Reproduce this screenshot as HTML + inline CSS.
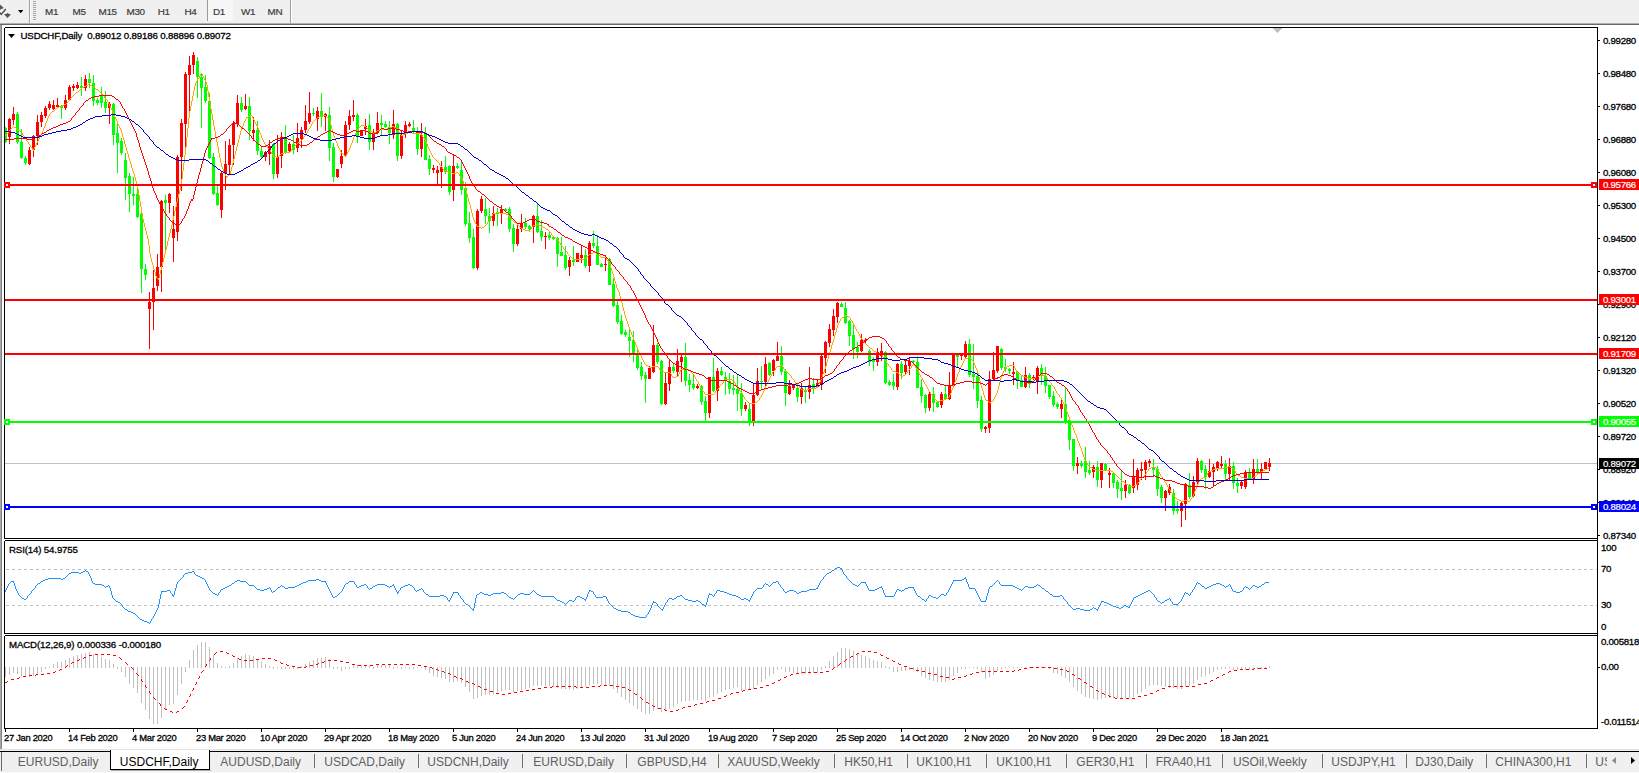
<!DOCTYPE html>
<html><head><meta charset="utf-8"><title>USDCHF,Daily</title>
<style>
html,body{margin:0;padding:0;background:#fff;}
body{width:1639px;height:773px;overflow:hidden;position:relative;font-family:"Liberation Sans", sans-serif;font-size:9.7px;letter-spacing:-0.15px;color:#000;-webkit-text-stroke:0.3px #000;}
.abs{position:absolute;white-space:nowrap;}
.ct{}
.tb{position:absolute;left:0;top:0;width:1639px;height:23px;background:#f0f0f0;}
.tf{position:absolute;top:5.2px;font-size:9.9px;letter-spacing:-0.3px;color:#3c3c3c;line-height:13px;-webkit-text-stroke:0.2px #3c3c3c;}
.ax{position:absolute;left:1603px;font-size:9.7px;letter-spacing:-0.3px;line-height:12px;height:12px;}
.tag{position:absolute;left:1599px;width:40px;height:13px;color:#fff;font-size:9.7px;letter-spacing:-0.3px;line-height:13px;-webkit-text-stroke:0.2px #fff;}
.tag span{position:absolute;left:4px;top:0;}
.dt{position:absolute;top:731.4px;font-size:9.4px;line-height:13px;letter-spacing:-0.3px;}
.tabbar{position:absolute;left:0;top:750px;width:1639px;height:22px;background:#f0f0f0;}
.tab{position:absolute;top:755px;font-size:12px;line-height:14px;letter-spacing:0;color:#5f5f5f;white-space:nowrap;-webkit-text-stroke:0;}
.sep{position:absolute;top:754px;width:1px;height:14px;background:#6e6e6e;}
svg{position:absolute;left:0;top:0;}
</style></head><body>

<div class="tb"></div>
<div class="abs" style="left:0;top:23px;width:1639px;height:1px;background:#b0b0b0"></div>
<div class="abs" style="left:0;top:24px;width:1639px;height:1px;background:#696969"></div>
<div class="abs" style="left:0;top:25px;width:1px;height:725px;background:#a8a8a8"></div><div class="abs" style="left:1px;top:25px;width:1px;height:725px;background:#808080"></div>
<div class="abs" style="left:207px;top:0;width:25px;height:21px;background:#f7f7f7;border-left:1px solid #9a9a9a"></div>
<div class="tf" style="left:45px">M1</div>
<div class="tf" style="left:72.5px">M5</div>
<div class="tf" style="left:98.5px">M15</div>
<div class="tf" style="left:126.5px">M30</div>
<div class="tf" style="left:157.7px">H1</div>
<div class="tf" style="left:184.5px">H4</div>
<div class="tf" style="left:213px">D1</div>
<div class="tf" style="left:241px">W1</div>
<div class="tf" style="left:267.6px">MN</div>
<svg width="1639" height="773" viewBox="0 0 1639 773">
<g shape-rendering="crispEdges">
<rect x="29" y="0" width="1" height="23" fill="#a0a0a0"/><rect x="30" y="0" width="1" height="23" fill="#fff"/>
<rect x="290" y="0" width="1" height="23" fill="#a0a0a0"/><rect x="291" y="0" width="1" height="23" fill="#fff"/>
<rect x="33" y="1" width="3" height="1" fill="#a6a6a6"/>
<rect x="33" y="3" width="3" height="1" fill="#a6a6a6"/>
<rect x="33" y="5" width="3" height="1" fill="#a6a6a6"/>
<rect x="33" y="7" width="3" height="1" fill="#a6a6a6"/>
<rect x="33" y="9" width="3" height="1" fill="#a6a6a6"/>
<rect x="33" y="11" width="3" height="1" fill="#a6a6a6"/>
<rect x="33" y="13" width="3" height="1" fill="#a6a6a6"/>
<rect x="33" y="15" width="3" height="1" fill="#a6a6a6"/>
<rect x="33" y="17" width="3" height="1" fill="#a6a6a6"/>
<rect x="33" y="19" width="3" height="1" fill="#a6a6a6"/>
</g>
<path d="M18 10h5.4l-2.7 3.2z" fill="#000"/>
<path d="M8 34h7l-3.5 4z" fill="#000"/>
<path d="M0 4.5L3.8 8L0 9.8z M4 14.3L6 14L7.5 13L9 14L11 14.3L7.5 18z" fill="#555"/>
<path d="M0 12.5L1.2 14.5L5.8 9" fill="none" stroke="#444" stroke-width="1.3"/>
<g shape-rendering="crispEdges" fill="none" stroke="#000" stroke-width="1">
<path d="M4.5 27.5H1597.5 M4.5 27.5V538.5 M4.5 538.5H1597.5 M1597.5 27.5V729"/>
<path d="M4.5 540.5H1597.5 M4.5 540.5V633.5 M4.5 633.5H1597.5"/>
<path d="M4.5 635.5H1597.5 M4.5 635.5V728.5 M4.5 728.5H1597.5"/>
</g>
<g shape-rendering="crispEdges">
<rect x="5" y="463" width="1592" height="1" fill="#c0c0c0"/>
</g>
<g shape-rendering="crispEdges">
<rect x="1598" y="40" width="2" height="1" fill="#000"/>
<rect x="1598" y="73" width="2" height="1" fill="#000"/>
<rect x="1598" y="106" width="2" height="1" fill="#000"/>
<rect x="1598" y="139" width="2" height="1" fill="#000"/>
<rect x="1598" y="172" width="2" height="1" fill="#000"/>
<rect x="1598" y="205" width="2" height="1" fill="#000"/>
<rect x="1598" y="238" width="2" height="1" fill="#000"/>
<rect x="1598" y="271" width="2" height="1" fill="#000"/>
<rect x="1598" y="304" width="2" height="1" fill="#000"/>
<rect x="1598" y="337" width="2" height="1" fill="#000"/>
<rect x="1598" y="370" width="2" height="1" fill="#000"/>
<rect x="1598" y="403" width="2" height="1" fill="#000"/>
<rect x="1598" y="436" width="2" height="1" fill="#000"/>
<rect x="1598" y="469" width="2" height="1" fill="#000"/>
<rect x="1598" y="502" width="2" height="1" fill="#000"/>
<rect x="1598" y="535" width="2" height="1" fill="#000"/>
<rect x="1598" y="667" width="2" height="1" fill="#000"/>
<path d="M6 569.5H1597 M6 605.5H1597" stroke="#c0c0c0" stroke-width="1" stroke-dasharray="3 3" fill="none"/>
<rect x="5" y="729" width="1" height="3" fill="#000"/>
<rect x="69" y="729" width="1" height="3" fill="#000"/>
<rect x="133" y="729" width="1" height="3" fill="#000"/>
<rect x="197" y="729" width="1" height="3" fill="#000"/>
<rect x="261" y="729" width="1" height="3" fill="#000"/>
<rect x="325" y="729" width="1" height="3" fill="#000"/>
<rect x="389" y="729" width="1" height="3" fill="#000"/>
<rect x="453" y="729" width="1" height="3" fill="#000"/>
<rect x="517" y="729" width="1" height="3" fill="#000"/>
<rect x="581" y="729" width="1" height="3" fill="#000"/>
<rect x="645" y="729" width="1" height="3" fill="#000"/>
<rect x="709" y="729" width="1" height="3" fill="#000"/>
<rect x="773" y="729" width="1" height="3" fill="#000"/>
<rect x="837" y="729" width="1" height="3" fill="#000"/>
<rect x="901" y="729" width="1" height="3" fill="#000"/>
<rect x="965" y="729" width="1" height="3" fill="#000"/>
<rect x="1029" y="729" width="1" height="3" fill="#000"/>
<rect x="1093" y="729" width="1" height="3" fill="#000"/>
<rect x="1157" y="729" width="1" height="3" fill="#000"/>
<rect x="1221" y="729" width="1" height="3" fill="#000"/>
<path d="M1273 28h9l-4.5 5z" fill="#c0c0c0"/>
</g>
<g shape-rendering="crispEdges">
<path fill="#ff0000" d="M9 118h1v26h-1z M8 119h3v18h-3z M13 107h1v18h-1z M12 114h3v6h-3z M29 147h1v18h-1z M28 150h3v14h-3z M33 135h1v22h-1z M32 136h3v14h-3z M37 115h1v30h-1z M36 122h3v14h-3z M41 112h1v15h-1z M40 115h3v7h-3z M45 106h1v12h-1z M44 108h3v8h-3z M49 101h1v9h-1z M48 104h3v4h-3z M53 100h1v10h-1z M52 105h3v4h-3z M57 98h1v10h-1z M56 105h3v2h-3z M65 95h1v15h-1z M64 100h3v8h-3z M69 85h1v16h-1z M68 87h3v13h-3z M73 84h1v7h-1z M72 86h3v2h-3z M77 82h1v7h-1z M76 85h3v3h-3z M85 75h1v16h-1z M84 79h3v9h-3z M109 102h1v22h-1z M108 104h3v4h-3z M149 292h1v57h-1z M148 302h3v7h-3z M153 270h1v60h-1z M152 288h3v14h-3z M157 254h1v37h-1z M156 267h3v19h-3z M161 200h1v92h-1z M160 201h3v66h-3z M169 193h1v20h-1z M168 194h3v9h-3z M173 206h1v56h-1z M172 229h3v9h-3z M177 155h1v86h-1z M176 157h3v75h-3z M181 119h1v72h-1z M180 123h3v34h-3z M185 72h1v81h-1z M184 74h3v50h-3z M189 56h1v60h-1z M188 65h3v10h-3z M193 52h1v22h-1z M192 55h3v10h-3z M221 172h1v46h-1z M220 173h3v37h-3z M225 141h1v49h-1z M224 164h3v9h-3z M229 139h1v35h-1z M228 145h3v20h-3z M233 121h1v44h-1z M232 123h3v22h-3z M237 95h1v32h-1z M236 103h3v21h-3z M245 94h1v16h-1z M244 106h3v3h-3z M253 117h1v24h-1z M252 130h3v3h-3z M265 151h1v10h-1z M264 152h3v5h-3z M269 140h1v25h-1z M268 146h3v8h-3z M277 135h1v43h-1z M276 157h3v17h-3z M281 132h1v36h-1z M280 138h3v18h-3z M289 142h1v10h-1z M288 144h3v7h-3z M297 123h1v29h-1z M296 138h3v10h-3z M301 127h1v21h-1z M300 130h3v9h-3z M305 105h1v28h-1z M304 121h3v9h-3z M309 92h1v32h-1z M308 113h3v9h-3z M317 107h1v24h-1z M316 111h3v8h-3z M325 113h1v18h-1z M324 114h3v3h-3z M337 169h1v9h-1z M336 169h3v8h-3z M341 150h1v18h-1z M340 156h3v8h-3z M345 121h1v36h-1z M344 125h3v31h-3z M349 110h1v20h-1z M348 116h3v9h-3z M353 100h1v21h-1z M352 115h3v2h-3z M361 130h1v6h-1z M360 131h3v5h-3z M365 119h1v16h-1z M364 126h3v3h-3z M373 129h1v21h-1z M372 133h3v9h-3z M377 112h1v22h-1z M376 123h3v10h-3z M393 110h1v29h-1z M392 124h3v11h-3z M401 130h1v29h-1z M400 135h3v21h-3z M405 121h1v17h-1z M404 125h3v9h-3z M409 122h1v5h-1z M408 124h3v2h-3z M421 123h1v34h-1z M420 135h3v14h-3z M433 165h1v8h-1z M432 168h3v2h-3z M437 166h1v18h-1z M436 170h3v3h-3z M441 161h1v27h-1z M440 167h3v5h-3z M453 154h1v47h-1z M452 166h3v24h-3z M477 209h1v61h-1z M476 211h3v57h-3z M481 196h1v17h-1z M480 199h3v12h-3z M493 206h1v20h-1z M492 213h3v8h-3z M501 205h1v19h-1z M500 209h3v5h-3z M517 225h1v21h-1z M516 229h3v15h-3z M521 214h1v18h-1z M520 223h3v6h-3z M533 215h1v28h-1z M532 216h3v11h-3z M545 232h1v17h-1z M544 236h3v1h-3z M569 257h1v19h-1z M568 260h3v7h-3z M577 253h1v9h-1z M576 253h3v9h-3z M581 245h1v18h-1z M580 255h3v3h-3z M589 241h1v31h-1z M588 243h3v23h-3z M605 255h1v16h-1z M604 264h3v1h-3z M649 366h1v13h-1z M648 368h3v11h-3z M653 325h1v48h-1z M652 345h3v27h-3z M665 373h1v32h-1z M664 383h3v21h-3z M669 360h1v31h-1z M668 367h3v17h-3z M677 349h1v27h-1z M676 361h3v11h-3z M681 353h1v29h-1z M680 357h3v5h-3z M697 384h1v5h-1z M696 386h3v2h-3z M709 377h1v41h-1z M708 377h3v36h-3z M717 368h1v33h-1z M716 371h3v20h-3z M745 402h1v9h-1z M744 405h3v4h-3z M753 383h1v43h-1z M752 395h3v27h-3z M757 368h1v28h-1z M756 381h3v14h-3z M765 357h1v31h-1z M764 364h3v18h-3z M773 359h1v17h-1z M772 360h3v11h-3z M777 342h1v19h-1z M776 356h3v5h-3z M789 380h1v15h-1z M788 386h3v8h-3z M793 384h1v6h-1z M792 385h3v3h-3z M801 383h1v21h-1z M800 388h3v9h-3z M809 367h1v32h-1z M808 385h3v7h-3z M817 380h1v8h-1z M816 383h3v4h-3z M821 355h1v35h-1z M820 356h3v29h-3z M825 341h1v32h-1z M824 342h3v16h-3z M829 324h1v23h-1z M828 329h3v14h-3z M833 309h1v27h-1z M832 316h3v14h-3z M837 302h1v21h-1z M836 303h3v14h-3z M861 334h1v18h-1z M860 340h3v11h-3z M865 338h1v5h-1z M864 340h3v1h-3z M877 348h1v18h-1z M876 352h3v10h-3z M881 343h1v18h-1z M880 351h3v5h-3z M897 363h1v27h-1z M896 364h3v23h-3z M905 361h1v13h-1z M904 365h3v7h-3z M909 358h1v17h-1z M908 361h3v5h-3z M929 392h1v19h-1z M928 394h3v14h-3z M941 392h1v16h-1z M940 394h3v11h-3z M949 372h1v28h-1z M948 386h3v13h-3z M953 353h1v34h-1z M952 354h3v32h-3z M961 354h1v6h-1z M960 355h3v1h-3z M965 341h1v17h-1z M964 344h3v13h-3z M985 426h1v7h-1z M984 427h3v2h-3z M989 371h1v62h-1z M988 379h3v49h-3z M993 352h1v28h-1z M992 370h3v9h-3z M997 346h1v27h-1z M996 346h3v25h-3z M1013 362h1v23h-1z M1012 372h3v2h-3z M1025 367h1v21h-1z M1024 375h3v12h-3z M1033 375h1v5h-1z M1032 377h3v2h-3z M1037 366h1v28h-1z M1036 368h3v13h-3z M1061 398h1v20h-1z M1060 404h3v5h-3z M1077 457h1v17h-1z M1076 463h3v3h-3z M1093 465h1v13h-1z M1092 467h3v5h-3z M1101 463h1v25h-1z M1100 463h3v17h-3z M1109 468h1v20h-1z M1108 473h3v2h-3z M1125 480h1v18h-1z M1124 485h3v6h-3z M1133 459h1v34h-1z M1132 476h3v12h-3z M1137 468h1v22h-1z M1136 470h3v15h-3z M1141 462h1v18h-1z M1140 469h3v2h-3z M1145 460h1v20h-1z M1144 462h3v8h-3z M1149 459h1v8h-1z M1148 461h3v2h-3z M1165 490h1v21h-1z M1164 491h3v7h-3z M1169 484h1v11h-1z M1168 487h3v6h-3z M1181 502h1v25h-1z M1180 503h3v8h-3z M1185 483h1v37h-1z M1184 484h3v20h-3z M1193 476h1v21h-1z M1192 482h3v14h-3z M1197 458h1v28h-1z M1196 461h3v21h-3z M1209 459h1v19h-1z M1208 471h3v6h-3z M1213 464h1v22h-1z M1212 467h3v5h-3z M1217 461h1v10h-1z M1216 462h3v6h-3z M1221 456h1v13h-1z M1220 464h3v2h-3z M1229 458h1v22h-1z M1228 466h3v8h-3z M1241 481h1v8h-1z M1240 482h3v4h-3z M1245 470h1v19h-1z M1244 472h3v15h-3z M1253 459h1v25h-1z M1252 469h3v10h-3z M1261 463h1v17h-1z M1260 469h3v3h-3z M1265 462h1v8h-1z M1264 462h3v7h-3z M1269 458h1v13h-1z M1268 463h3v4h-3z"/>
<path fill="#00ff00" d="M5 127h1v16h-1z M5 128h2v14h-2z M17 112h1v32h-1z M16 114h3v28h-3z M21 129h1v30h-1z M20 142h3v16h-3z M25 156h1v9h-1z M24 158h3v5h-3z M61 105h1v14h-1z M60 106h3v2h-3z M81 77h1v19h-1z M80 86h3v2h-3z M89 73h1v15h-1z M88 79h3v4h-3z M93 75h1v31h-1z M92 83h3v18h-3z M97 98h1v7h-1z M96 100h3v3h-3z M101 87h1v21h-1z M100 96h3v7h-3z M105 91h1v22h-1z M104 102h3v6h-3z M113 103h1v42h-1z M112 104h3v31h-3z M117 123h1v50h-1z M116 133h3v10h-3z M121 138h1v17h-1z M120 141h3v12h-3z M125 153h1v47h-1z M124 160h3v18h-3z M129 173h1v39h-1z M128 176h3v18h-3z M133 177h1v28h-1z M132 194h3v2h-3z M137 189h1v29h-1z M136 194h3v23h-3z M141 212h1v81h-1z M140 214h3v55h-3z M145 264h1v16h-1z M144 269h3v6h-3z M165 195h1v55h-1z M164 200h3v3h-3z M197 57h1v41h-1z M196 61h3v16h-3z M201 73h1v55h-1z M200 77h3v11h-3z M205 75h1v28h-1z M204 87h3v14h-3z M209 93h1v66h-1z M208 101h3v57h-3z M213 153h1v42h-1z M212 157h3v37h-3z M217 186h1v20h-1z M216 193h3v12h-3z M241 97h1v15h-1z M240 103h3v7h-3z M249 97h1v43h-1z M248 106h3v25h-3z M257 121h1v34h-1z M256 130h3v21h-3z M261 146h1v12h-1z M260 151h3v6h-3z M273 143h1v36h-1z M272 144h3v30h-3z M285 125h1v29h-1z M284 138h3v14h-3z M293 135h1v19h-1z M292 144h3v6h-3z M313 108h1v8h-1z M312 113h3v1h-3z M321 93h1v34h-1z M320 111h3v6h-3z M329 107h1v54h-1z M328 115h3v33h-3z M333 143h1v39h-1z M332 147h3v30h-3z M357 113h1v30h-1z M356 115h3v21h-3z M369 114h1v36h-1z M368 125h3v17h-3z M381 115h1v21h-1z M380 123h3v2h-3z M385 121h1v7h-1z M384 124h3v3h-3z M389 121h1v23h-1z M388 127h3v6h-3z M397 123h1v38h-1z M396 124h3v32h-3z M413 120h1v14h-1z M412 128h3v3h-3z M417 127h1v28h-1z M416 131h3v18h-3z M425 127h1v33h-1z M424 134h3v26h-3z M429 155h1v20h-1z M428 159h3v10h-3z M445 156h1v18h-1z M444 167h3v5h-3z M449 165h1v30h-1z M448 166h3v26h-3z M457 163h1v6h-1z M456 166h3v2h-3z M461 160h1v35h-1z M460 170h3v20h-3z M465 182h1v44h-1z M464 188h3v36h-3z M469 212h1v31h-1z M468 223h3v15h-3z M473 229h1v40h-1z M472 237h3v31h-3z M485 198h1v26h-1z M484 209h3v7h-3z M489 208h1v25h-1z M488 216h3v5h-3z M497 208h1v18h-1z M496 213h3v1h-3z M505 208h1v4h-1z M504 209h3v2h-3z M509 207h1v25h-1z M508 209h3v20h-3z M513 224h1v28h-1z M512 228h3v16h-3z M525 218h1v11h-1z M524 223h3v4h-3z M529 225h1v7h-1z M528 226h3v3h-3z M537 204h1v29h-1z M536 216h3v16h-3z M541 220h1v21h-1z M540 231h3v6h-3z M549 231h1v9h-1z M548 235h3v3h-3z M553 236h1v4h-1z M552 237h3v2h-3z M557 237h1v30h-1z M556 238h3v16h-3z M561 237h1v19h-1z M560 252h3v4h-3z M565 246h1v24h-1z M564 255h3v13h-3z M573 246h1v20h-1z M572 260h3v2h-3z M585 249h1v19h-1z M584 255h3v11h-3z M593 231h1v17h-1z M592 243h3v3h-3z M597 235h1v30h-1z M596 246h3v19h-3z M601 263h1v4h-1z M600 264h3v3h-3z M609 258h1v27h-1z M608 259h3v26h-3z M613 278h1v29h-1z M612 284h3v22h-3z M617 300h1v24h-1z M616 305h3v17h-3z M621 315h1v20h-1z M620 321h3v13h-3z M625 330h1v7h-1z M624 332h3v3h-3z M629 330h1v27h-1z M628 337h3v4h-3z M633 331h1v31h-1z M632 340h3v15h-3z M637 347h1v23h-1z M636 355h3v13h-3z M641 362h1v18h-1z M640 367h3v9h-3z M645 372h1v31h-1z M644 375h3v4h-3z M657 343h1v21h-1z M656 345h3v17h-3z M661 360h1v45h-1z M660 361h3v43h-3z M673 364h1v9h-1z M672 367h3v4h-3z M685 343h1v43h-1z M684 357h3v24h-3z M689 374h1v18h-1z M688 380h3v5h-3z M693 374h1v16h-1z M692 384h3v4h-3z M701 385h1v20h-1z M700 386h3v16h-3z M705 396h1v25h-1z M704 401h3v12h-3z M713 358h1v34h-1z M712 377h3v14h-3z M721 367h1v9h-1z M720 371h3v4h-3z M725 372h1v23h-1z M724 377h3v3h-3z M729 373h1v21h-1z M728 381h3v8h-3z M733 375h1v20h-1z M732 388h3v2h-3z M737 375h1v36h-1z M736 389h3v5h-3z M741 383h1v33h-1z M740 393h3v16h-3z M749 404h1v22h-1z M748 409h3v13h-3z M761 366h1v24h-1z M760 381h3v1h-3z M769 362h1v14h-1z M768 363h3v12h-3z M781 346h1v29h-1z M780 356h3v16h-3z M785 369h1v37h-1z M784 371h3v22h-3z M797 384h1v18h-1z M796 388h3v9h-3z M805 386h1v17h-1z M804 390h3v2h-3z M813 378h1v16h-1z M812 384h3v4h-3z M841 302h1v5h-1z M840 304h3v3h-3z M845 302h1v22h-1z M844 308h3v15h-3z M849 320h1v26h-1z M848 321h3v15h-3z M853 325h1v34h-1z M852 335h3v14h-3z M857 342h1v16h-1z M856 347h3v5h-3z M869 349h1v17h-1z M868 351h3v11h-3z M873 357h1v14h-1z M872 360h3v2h-3z M885 351h1v33h-1z M884 352h3v31h-3z M889 380h1v6h-1z M888 382h3v3h-3z M893 374h1v16h-1z M892 382h3v4h-3z M901 361h1v18h-1z M900 364h3v9h-3z M913 360h1v3h-1z M912 361h3v1h-3z M917 356h1v32h-1z M916 362h3v26h-3z M921 379h1v24h-1z M920 387h3v9h-3z M925 394h1v19h-1z M924 395h3v13h-3z M933 387h1v25h-1z M932 394h3v9h-3z M937 401h1v7h-1z M936 402h3v5h-3z M945 386h1v14h-1z M944 394h3v5h-3z M957 354h1v13h-1z M956 355h3v2h-3z M969 339h1v38h-1z M968 344h3v31h-3z M973 344h1v45h-1z M972 374h3v3h-3z M977 371h1v37h-1z M976 376h3v25h-3z M981 396h1v36h-1z M980 400h3v29h-3z M1001 348h1v22h-1z M1000 349h3v19h-3z M1005 359h1v13h-1z M1004 367h3v2h-3z M1009 368h1v6h-1z M1008 369h3v2h-3z M1017 371h1v18h-1z M1016 372h3v9h-3z M1021 375h1v12h-1z M1020 380h3v7h-3z M1029 373h1v15h-1z M1028 375h3v9h-3z M1041 364h1v21h-1z M1040 368h3v8h-3z M1045 367h1v26h-1z M1044 376h3v10h-3z M1049 385h1v14h-1z M1048 385h3v12h-3z M1053 391h1v16h-1z M1052 396h3v9h-3z M1057 402h1v7h-1z M1056 404h3v3h-3z M1065 387h1v37h-1z M1064 404h3v19h-3z M1069 419h1v31h-1z M1068 420h3v20h-3z M1073 439h1v32h-1z M1072 439h3v27h-3z M1081 461h1v7h-1z M1080 463h3v3h-3z M1085 447h1v31h-1z M1084 461h3v11h-3z M1089 461h1v14h-1z M1088 470h3v3h-3z M1097 461h1v26h-1z M1096 467h3v13h-3z M1105 463h1v7h-1z M1104 464h3v6h-3z M1113 472h1v16h-1z M1112 473h3v10h-3z M1117 480h1v18h-1z M1116 482h3v7h-3z M1121 471h1v29h-1z M1120 488h3v3h-3z M1129 484h1v10h-1z M1128 485h3v8h-3z M1153 459h1v16h-1z M1152 468h3v2h-3z M1157 466h1v30h-1z M1156 469h3v20h-3z M1161 485h1v18h-1z M1160 487h3v11h-3z M1173 489h1v26h-1z M1172 493h3v18h-3z M1177 501h1v13h-1z M1176 509h3v2h-3z M1189 473h1v26h-1z M1188 485h3v12h-3z M1201 460h1v13h-1z M1200 461h3v9h-3z M1205 465h1v24h-1z M1204 469h3v8h-3z M1225 460h1v20h-1z M1224 464h3v10h-3z M1233 462h1v27h-1z M1232 466h3v17h-3z M1237 478h1v15h-1z M1236 483h3v3h-3z M1249 468h1v12h-1z M1248 472h3v7h-3z M1257 459h1v15h-1z M1256 469h3v4h-3z"/>
</g>
<path shape-rendering="crispEdges" fill="#ffa500" d="M5 135h1v1h-1zM6 134h1v1h-1zM7 133h1v1h-1zM8 132h1v1h-1zM9 130h1v2h-1zM10 129h1v1h-1zM11 128h1v1h-1zM12 127h1v1h-1zM13 126h1v1h-1zM14 127h1v1h-1zM15 127h1v1h-1zM16 128h1v1h-1zM17 129h1v1h-1zM18 130h1v1h-1zM19 130h1v1h-1zM20 131h1v1h-1zM21 132h1v1h-1zM22 133h1v2h-1zM23 135h1v1h-1zM24 136h1v2h-1zM25 138h1v1h-1zM26 139h1v2h-1zM27 141h1v1h-1zM28 142h1v2h-1zM29 144h1v1h-1zM30 145h1v2h-1zM31 147h1v1h-1zM32 148h1v2h-1zM33 149h1v2h-1zM34 147h1v2h-1zM35 145h1v2h-1zM36 143h1v2h-1zM37 141h1v2h-1zM38 139h1v2h-1zM39 137h1v2h-1zM40 135h1v2h-1zM41 133h1v2h-1zM42 131h1v2h-1zM43 128h1v3h-1zM44 126h1v2h-1zM45 123h1v3h-1zM46 121h1v2h-1zM47 118h1v3h-1zM48 116h1v2h-1zM49 114h1v2h-1zM50 113h1v1h-1zM51 112h1v1h-1zM52 111h1v1h-1zM53 111h1v1h-1zM54 110h1v1h-1zM55 109h1v1h-1zM56 108h1v1h-1zM57 107h1v1h-1zM58 107h1v1h-1zM59 106h1v1h-1zM60 106h1v1h-1zM61 106h1v1h-1zM62 105h1v1h-1zM63 105h1v1h-1zM64 104h1v1h-1zM65 104h1v1h-1zM66 103h1v1h-1zM67 102h1v1h-1zM68 101h1v1h-1zM69 99h1v2h-1zM70 98h1v1h-1zM71 97h1v1h-1zM72 96h1v1h-1zM73 95h1v1h-1zM74 94h1v1h-1zM75 93h1v1h-1zM76 92h1v1h-1zM77 92h1v1h-1zM78 91h1v1h-1zM79 90h1v1h-1zM80 89h1v1h-1zM81 88h1v1h-1zM82 87h1v1h-1zM83 87h1v1h-1zM84 86h1v1h-1zM85 86h1v1h-1zM86 85h1v1h-1zM87 85h1v1h-1zM88 84h1v1h-1zM89 84h1v1h-1zM90 85h1v1h-1zM91 85h1v1h-1zM92 86h1v1h-1zM93 86h1v1h-1zM94 87h1v1h-1zM95 88h1v1h-1zM96 89h1v1h-1zM97 89h1v1h-1zM98 90h1v1h-1zM99 91h1v1h-1zM100 92h1v1h-1zM101 93h1v1h-1zM102 94h1v1h-1zM103 95h1v1h-1zM104 96h1v2h-1zM105 98h1v1h-1zM106 99h1v1h-1zM107 100h1v2h-1zM108 102h1v2h-1zM109 104h1v2h-1zM110 106h1v2h-1zM111 108h1v2h-1zM112 110h1v2h-1zM113 112h1v3h-1zM114 115h1v2h-1zM115 117h1v2h-1zM116 119h1v2h-1zM117 121h1v3h-1zM118 124h1v2h-1zM119 126h1v2h-1zM120 128h1v2h-1zM121 130h1v3h-1zM122 133h1v4h-1zM123 137h1v3h-1zM124 140h1v4h-1zM125 144h1v3h-1zM126 147h1v4h-1zM127 151h1v3h-1zM128 154h1v4h-1zM129 158h1v3h-1zM130 161h1v3h-1zM131 164h1v4h-1zM132 168h1v3h-1zM133 171h1v3h-1zM134 174h1v3h-1zM135 177h1v4h-1zM136 181h1v3h-1zM137 184h1v5h-1zM138 189h1v6h-1zM139 195h1v6h-1zM140 201h1v6h-1zM141 207h1v6h-1zM142 213h1v6h-1zM143 219h1v4h-1zM144 223h1v4h-1zM145 227h1v4h-1zM146 231h1v4h-1zM147 235h1v4h-1zM148 239h1v6h-1zM149 245h1v8h-1zM150 253h1v5h-1zM151 258h1v4h-1zM152 262h1v3h-1zM153 265h1v4h-1zM154 269h1v3h-1zM155 272h1v4h-1zM156 276h1v2h-1zM157 278h1v1h-1zM158 278h1v2h-1zM159 274h1v4h-1zM160 270h1v4h-1zM161 266h1v4h-1zM162 262h1v4h-1zM163 258h1v4h-1zM164 254h1v4h-1zM165 250h1v4h-1zM166 246h1v4h-1zM167 241h1v5h-1zM168 237h1v4h-1zM169 233h1v4h-1zM170 229h1v4h-1zM171 225h1v4h-1zM172 220h1v5h-1zM173 216h1v4h-1zM174 211h1v5h-1zM175 207h1v4h-1zM176 202h1v5h-1zM177 198h1v4h-1zM178 194h1v4h-1zM179 190h1v4h-1zM180 186h1v4h-1zM181 179h1v7h-1zM182 171h1v8h-1zM183 163h1v8h-1zM184 155h1v8h-1zM185 147h1v8h-1zM186 137h1v10h-1zM187 128h1v9h-1zM188 118h1v10h-1zM189 111h1v7h-1zM190 106h1v5h-1zM191 101h1v5h-1zM192 96h1v5h-1zM193 91h1v5h-1zM194 86h1v5h-1zM195 83h1v3h-1zM196 81h1v2h-1zM197 79h1v2h-1zM198 78h1v1h-1zM199 76h1v2h-1zM200 74h1v2h-1zM201 73h1v1h-1zM202 74h1v2h-1zM203 76h1v2h-1zM204 78h1v2h-1zM205 80h1v2h-1zM206 82h1v3h-1zM207 85h1v6h-1zM208 91h1v6h-1zM209 97h1v6h-1zM210 103h1v6h-1zM211 109h1v5h-1zM212 114h1v6h-1zM213 120h1v6h-1zM214 126h1v5h-1zM215 131h1v6h-1zM216 137h1v5h-1zM217 142h1v5h-1zM218 147h1v6h-1zM219 153h1v5h-1zM220 158h1v5h-1zM221 163h1v4h-1zM222 167h1v2h-1zM223 169h1v3h-1zM224 172h1v2h-1zM225 174h1v2h-1zM226 176h1v2h-1zM227 176h1v1h-1zM228 175h1v1h-1zM229 174h1v1h-1zM230 171h1v3h-1zM231 167h1v4h-1zM232 163h1v4h-1zM233 159h1v4h-1zM234 155h1v4h-1zM235 151h1v4h-1zM236 147h1v4h-1zM237 143h1v4h-1zM238 139h1v4h-1zM239 135h1v4h-1zM240 131h1v4h-1zM241 128h1v3h-1zM242 126h1v2h-1zM243 123h1v3h-1zM244 121h1v2h-1zM245 119h1v2h-1zM246 117h1v2h-1zM247 117h1v1h-1zM248 116h1v1h-1zM249 116h1v1h-1zM250 115h1v1h-1zM251 115h1v1h-1zM252 116h1v2h-1zM253 118h1v2h-1zM254 120h1v2h-1zM255 122h1v2h-1zM256 124h1v2h-1zM257 126h1v2h-1zM258 128h1v2h-1zM259 130h1v3h-1zM260 133h1v2h-1zM261 135h1v3h-1zM262 138h1v2h-1zM263 140h1v2h-1zM264 142h1v2h-1zM265 144h1v2h-1zM266 146h1v1h-1zM267 147h1v1h-1zM268 148h1v1h-1zM269 149h1v1h-1zM270 150h1v2h-1zM271 152h1v2h-1zM272 154h1v2h-1zM273 156h1v1h-1zM274 156h1v1h-1zM275 156h1v1h-1zM276 157h1v1h-1zM277 157h1v1h-1zM278 156h1v1h-1zM279 155h1v1h-1zM280 154h1v1h-1zM281 153h1v1h-1zM282 153h1v1h-1zM283 153h1v1h-1zM284 152h1v1h-1zM285 152h1v1h-1zM286 152h1v1h-1zM287 152h1v1h-1zM288 152h1v1h-1zM289 152h1v1h-1zM290 151h1v1h-1zM291 149h1v2h-1zM292 148h1v1h-1zM293 147h1v1h-1zM294 146h1v1h-1zM295 145h1v1h-1zM296 144h1v1h-1zM297 143h1v1h-1zM298 142h1v1h-1zM299 142h1v1h-1zM300 141h1v1h-1zM301 140h1v1h-1zM302 139h1v1h-1zM303 137h1v2h-1zM304 136h1v1h-1zM305 135h1v1h-1zM306 133h1v2h-1zM307 131h1v2h-1zM308 129h1v2h-1zM309 128h1v1h-1zM310 126h1v2h-1zM311 124h1v2h-1zM312 122h1v2h-1zM313 121h1v1h-1zM314 120h1v1h-1zM315 119h1v1h-1zM316 118h1v1h-1zM317 117h1v1h-1zM318 117h1v1h-1zM319 116h1v1h-1zM320 116h1v1h-1zM321 115h1v1h-1zM322 115h1v1h-1zM323 115h1v1h-1zM324 115h1v1h-1zM325 115h1v1h-1zM326 116h1v1h-1zM327 117h1v1h-1zM328 118h1v1h-1zM329 119h1v2h-1zM330 121h1v4h-1zM331 125h1v4h-1zM332 129h1v4h-1zM333 133h1v3h-1zM334 136h1v2h-1zM335 138h1v3h-1zM336 141h1v2h-1zM337 143h1v3h-1zM338 146h1v2h-1zM339 148h1v2h-1zM340 150h1v2h-1zM341 152h1v1h-1zM342 153h1v1h-1zM343 154h1v1h-1zM344 155h1v1h-1zM345 156h1v1h-1zM346 154h1v2h-1zM347 152h1v2h-1zM348 150h1v2h-1zM349 148h1v2h-1zM350 145h1v3h-1zM351 143h1v2h-1zM352 140h1v3h-1zM353 137h1v3h-1zM354 135h1v2h-1zM355 133h1v2h-1zM356 131h1v2h-1zM357 129h1v2h-1zM358 128h1v1h-1zM359 127h1v1h-1zM360 126h1v1h-1zM361 125h1v1h-1zM362 125h1v1h-1zM363 125h1v1h-1zM364 126h1v1h-1zM365 126h1v1h-1zM366 127h1v1h-1zM367 128h1v1h-1zM368 129h1v1h-1zM369 130h1v1h-1zM370 131h1v1h-1zM371 131h1v1h-1zM372 132h1v1h-1zM373 133h1v1h-1zM374 132h1v1h-1zM375 132h1v1h-1zM376 131h1v1h-1zM377 130h1v1h-1zM378 130h1v1h-1zM379 130h1v1h-1zM380 129h1v1h-1zM381 129h1v1h-1zM382 129h1v1h-1zM383 129h1v1h-1zM384 129h1v1h-1zM385 129h1v1h-1zM386 129h1v1h-1zM387 128h1v1h-1zM388 128h1v1h-1zM389 127h1v1h-1zM390 127h1v1h-1zM391 127h1v1h-1zM392 126h1v1h-1zM393 126h1v1h-1zM394 127h1v1h-1zM395 127h1v1h-1zM396 128h1v1h-1zM397 129h1v1h-1zM398 130h1v2h-1zM399 132h1v1h-1zM400 133h1v2h-1zM401 135h1v1h-1zM402 135h1v1h-1zM403 134h1v1h-1zM404 134h1v1h-1zM405 133h1v1h-1zM406 133h1v1h-1zM407 133h1v1h-1zM408 132h1v1h-1zM409 132h1v1h-1zM410 132h1v1h-1zM411 132h1v1h-1zM412 133h1v1h-1zM413 133h1v1h-1zM414 133h1v1h-1zM415 133h1v1h-1zM416 133h1v1h-1zM417 133h1v1h-1zM418 133h1v1h-1zM419 133h1v1h-1zM420 134h1v1h-1zM421 134h1v1h-1zM422 135h1v2h-1zM423 137h1v1h-1zM424 138h1v2h-1zM425 140h1v2h-1zM426 142h1v2h-1zM427 144h1v3h-1zM428 147h1v2h-1zM429 149h1v2h-1zM430 151h1v2h-1zM431 153h1v2h-1zM432 155h1v2h-1zM433 157h1v1h-1zM434 158h1v1h-1zM435 159h1v1h-1zM436 160h1v1h-1zM437 161h1v1h-1zM438 162h1v1h-1zM439 163h1v2h-1zM440 165h1v1h-1zM441 166h1v1h-1zM442 167h1v2h-1zM443 169h1v1h-1zM444 170h1v1h-1zM445 170h1v1h-1zM446 171h1v1h-1zM447 171h1v1h-1zM448 172h1v1h-1zM449 172h1v1h-1zM450 172h1v1h-1zM451 172h1v1h-1zM452 173h1v1h-1zM453 173h1v1h-1zM454 173h1v1h-1zM455 173h1v1h-1zM456 172h1v1h-1zM457 172h1v1h-1zM458 173h1v1h-1zM459 174h1v2h-1zM460 176h1v1h-1zM461 177h1v2h-1zM462 179h1v2h-1zM463 181h1v3h-1zM464 184h1v2h-1zM465 186h1v4h-1zM466 190h1v4h-1zM467 194h1v4h-1zM468 198h1v4h-1zM469 202h1v3h-1zM470 205h1v4h-1zM471 209h1v4h-1zM472 213h1v4h-1zM473 217h1v3h-1zM474 220h1v2h-1zM475 222h1v2h-1zM476 224h1v2h-1zM477 226h1v1h-1zM478 226h1v1h-1zM479 227h1v1h-1zM480 227h1v1h-1zM481 228h1v1h-1zM482 227h1v1h-1zM483 227h1v1h-1zM484 226h1v1h-1zM485 225h1v1h-1zM486 224h1v1h-1zM487 222h1v2h-1zM488 221h1v1h-1zM489 220h1v1h-1zM490 218h1v2h-1zM491 216h1v2h-1zM492 214h1v2h-1zM493 213h1v1h-1zM494 213h1v1h-1zM495 213h1v1h-1zM496 212h1v1h-1zM497 212h1v1h-1zM498 212h1v1h-1zM499 212h1v1h-1zM500 213h1v1h-1zM501 213h1v1h-1zM502 213h1v1h-1zM503 213h1v1h-1zM504 213h1v1h-1zM505 213h1v1h-1zM506 214h1v1h-1zM507 214h1v1h-1zM508 215h1v1h-1zM509 216h1v1h-1zM510 217h1v1h-1zM511 218h1v2h-1zM512 220h1v1h-1zM513 221h1v1h-1zM514 222h1v1h-1zM515 222h1v1h-1zM516 223h1v1h-1zM517 224h1v1h-1zM518 225h1v1h-1zM519 226h1v1h-1zM520 227h1v1h-1zM521 228h1v1h-1zM522 228h1v1h-1zM523 229h1v1h-1zM524 229h1v1h-1zM525 230h1v1h-1zM526 230h1v1h-1zM527 230h1v1h-1zM528 230h1v1h-1zM529 230h1v1h-1zM530 229h1v1h-1zM531 227h1v2h-1zM532 226h1v1h-1zM533 225h1v1h-1zM534 225h1v1h-1zM535 225h1v1h-1zM536 224h1v1h-1zM537 224h1v1h-1zM538 224h1v1h-1zM539 225h1v1h-1zM540 225h1v1h-1zM541 226h1v1h-1zM542 226h1v1h-1zM543 227h1v1h-1zM544 227h1v1h-1zM545 228h1v1h-1zM546 229h1v1h-1zM547 229h1v1h-1zM548 230h1v1h-1zM549 231h1v1h-1zM550 232h1v1h-1zM551 233h1v2h-1zM552 235h1v1h-1zM553 236h1v1h-1zM554 237h1v1h-1zM555 237h1v1h-1zM556 238h1v1h-1zM557 239h1v1h-1zM558 240h1v2h-1zM559 242h1v1h-1zM560 243h1v2h-1zM561 245h1v1h-1zM562 246h1v1h-1zM563 247h1v2h-1zM564 249h1v1h-1zM565 250h1v1h-1zM566 251h1v1h-1zM567 252h1v2h-1zM568 254h1v1h-1zM569 255h1v1h-1zM570 256h1v1h-1zM571 257h1v1h-1zM572 258h1v1h-1zM573 259h1v1h-1zM574 259h1v1h-1zM575 259h1v1h-1zM576 259h1v1h-1zM577 259h1v1h-1zM578 259h1v1h-1zM579 259h1v1h-1zM580 259h1v1h-1zM581 259h1v1h-1zM582 259h1v1h-1zM583 259h1v1h-1zM584 258h1v1h-1zM585 258h1v1h-1zM586 257h1v1h-1zM587 256h1v1h-1zM588 255h1v1h-1zM589 254h1v1h-1zM590 254h1v1h-1zM591 253h1v1h-1zM592 253h1v1h-1zM593 252h1v1h-1zM594 252h1v1h-1zM595 252h1v1h-1zM596 253h1v1h-1zM597 253h1v1h-1zM598 254h1v1h-1zM599 255h1v1h-1zM600 256h1v1h-1zM601 257h1v1h-1zM602 257h1v1h-1zM603 257h1v1h-1zM604 257h1v1h-1zM605 257h1v1h-1zM606 258h1v2h-1zM607 260h1v1h-1zM608 261h1v2h-1zM609 263h1v2h-1zM610 265h1v3h-1zM611 268h1v3h-1zM612 271h1v3h-1zM613 274h1v3h-1zM614 277h1v4h-1zM615 281h1v3h-1zM616 284h1v4h-1zM617 288h1v2h-1zM618 290h1v2h-1zM619 292h1v4h-1zM620 296h1v4h-1zM621 300h1v3h-1zM622 303h1v4h-1zM623 307h1v4h-1zM624 311h1v4h-1zM625 315h1v3h-1zM626 318h1v3h-1zM627 321h1v3h-1zM628 324h1v3h-1zM629 327h1v3h-1zM630 330h1v2h-1zM631 332h1v3h-1zM632 335h1v2h-1zM633 337h1v3h-1zM634 340h1v2h-1zM635 342h1v3h-1zM636 345h1v2h-1zM637 347h1v3h-1zM638 350h1v2h-1zM639 352h1v2h-1zM640 354h1v2h-1zM641 356h1v2h-1zM642 358h1v2h-1zM643 360h1v2h-1zM644 362h1v2h-1zM645 364h1v1h-1zM646 365h1v1h-1zM647 365h1v1h-1zM648 366h1v1h-1zM649 367h1v1h-1zM650 367h1v1h-1zM651 367h1v1h-1zM652 366h1v1h-1zM653 366h1v1h-1zM654 366h1v1h-1zM655 366h1v1h-1zM656 366h1v1h-1zM657 366h1v1h-1zM658 367h1v1h-1zM659 368h1v2h-1zM660 370h1v1h-1zM661 371h1v1h-1zM662 371h1v1h-1zM663 371h1v1h-1zM664 372h1v1h-1zM665 372h1v1h-1zM666 372h1v1h-1zM667 372h1v1h-1zM668 372h1v1h-1zM669 372h1v1h-1zM670 373h1v1h-1zM671 374h1v2h-1zM672 376h1v1h-1zM673 377h1v1h-1zM674 377h1v1h-1zM675 377h1v1h-1zM676 376h1v1h-1zM677 376h1v1h-1zM678 374h1v2h-1zM679 372h1v2h-1zM680 370h1v2h-1zM681 369h1v1h-1zM682 369h1v1h-1zM683 369h1v1h-1zM684 368h1v1h-1zM685 368h1v1h-1zM686 368h1v1h-1zM687 369h1v1h-1zM688 369h1v1h-1zM689 370h1v1h-1zM690 371h1v1h-1zM691 372h1v1h-1zM692 373h1v1h-1zM693 374h1v1h-1zM694 375h1v2h-1zM695 377h1v2h-1zM696 379h1v2h-1zM697 381h1v1h-1zM698 382h1v2h-1zM699 384h1v2h-1zM700 386h1v2h-1zM701 388h1v1h-1zM702 389h1v2h-1zM703 391h1v1h-1zM704 392h1v2h-1zM705 394h1v1h-1zM706 394h1v1h-1zM707 394h1v1h-1zM708 394h1v1h-1zM709 394h1v1h-1zM710 394h1v1h-1zM711 394h1v1h-1zM712 394h1v1h-1zM713 394h1v1h-1zM714 393h1v1h-1zM715 391h1v2h-1zM716 390h1v1h-1zM717 389h1v1h-1zM718 388h1v1h-1zM719 386h1v2h-1zM720 385h1v1h-1zM721 384h1v1h-1zM722 383h1v1h-1zM723 381h1v2h-1zM724 380h1v1h-1zM725 379h1v1h-1zM726 379h1v1h-1zM727 379h1v1h-1zM728 379h1v1h-1zM729 379h1v1h-1zM730 379h1v1h-1zM731 379h1v1h-1zM732 380h1v1h-1zM733 380h1v1h-1zM734 381h1v2h-1zM735 383h1v2h-1zM736 385h1v2h-1zM737 387h1v1h-1zM738 388h1v1h-1zM739 389h1v2h-1zM740 391h1v1h-1zM741 392h1v1h-1zM742 393h1v2h-1zM743 395h1v2h-1zM744 397h1v2h-1zM745 399h1v1h-1zM746 400h1v1h-1zM747 401h1v1h-1zM748 402h1v1h-1zM749 403h1v1h-1zM750 403h1v1h-1zM751 403h1v1h-1zM752 403h1v1h-1zM753 403h1v1h-1zM754 403h1v1h-1zM755 402h1v1h-1zM756 402h1v1h-1zM757 401h1v1h-1zM758 400h1v1h-1zM759 398h1v2h-1zM760 397h1v1h-1zM761 395h1v2h-1zM762 393h1v2h-1zM763 391h1v2h-1zM764 389h1v2h-1zM765 386h1v3h-1zM766 384h1v2h-1zM767 382h1v2h-1zM768 380h1v2h-1zM769 378h1v2h-1zM770 376h1v2h-1zM771 374h1v2h-1zM772 372h1v2h-1zM773 371h1v1h-1zM774 370h1v1h-1zM775 368h1v2h-1zM776 367h1v1h-1zM777 366h1v1h-1zM778 366h1v1h-1zM779 366h1v1h-1zM780 365h1v1h-1zM781 365h1v1h-1zM782 366h1v1h-1zM783 367h1v2h-1zM784 369h1v1h-1zM785 370h1v1h-1zM786 371h1v1h-1zM787 372h1v1h-1zM788 373h1v1h-1zM789 374h1v1h-1zM790 375h1v1h-1zM791 376h1v2h-1zM792 378h1v1h-1zM793 379h1v1h-1zM794 380h1v2h-1zM795 382h1v2h-1zM796 384h1v2h-1zM797 384h1v3h-1zM798 385h1v1h-1zM799 386h1v2h-1zM800 388h1v1h-1zM801 389h1v1h-1zM802 389h1v1h-1zM803 389h1v1h-1zM804 390h1v1h-1zM805 390h1v1h-1zM806 390h1v1h-1zM807 389h1v1h-1zM808 389h1v1h-1zM809 388h1v1h-1zM810 388h1v1h-1zM811 388h1v1h-1zM812 388h1v1h-1zM813 388h1v1h-1zM814 388h1v1h-1zM815 388h1v1h-1zM816 387h1v1h-1zM817 386h1v2h-1zM818 384h1v2h-1zM819 382h1v2h-1zM820 380h1v2h-1zM821 377h1v3h-1zM822 374h1v3h-1zM823 372h1v2h-1zM824 369h1v3h-1zM825 366h1v3h-1zM826 362h1v4h-1zM827 359h1v3h-1zM828 355h1v4h-1zM829 352h1v3h-1zM830 349h1v3h-1zM831 345h1v4h-1zM832 342h1v3h-1zM833 339h1v3h-1zM834 335h1v4h-1zM835 332h1v3h-1zM836 328h1v4h-1zM837 325h1v3h-1zM838 323h1v2h-1zM839 321h1v2h-1zM840 319h1v2h-1zM841 318h1v1h-1zM842 317h1v1h-1zM843 317h1v1h-1zM844 316h1v1h-1zM845 315h1v1h-1zM846 315h1v1h-1zM847 316h1v1h-1zM848 316h1v1h-1zM849 317h1v1h-1zM850 318h1v2h-1zM851 320h1v1h-1zM852 321h1v2h-1zM853 323h1v2h-1zM854 325h1v2h-1zM855 327h1v2h-1zM856 329h1v2h-1zM857 331h1v1h-1zM858 332h1v2h-1zM859 334h1v2h-1zM860 336h1v2h-1zM861 338h1v1h-1zM862 339h1v1h-1zM863 340h1v2h-1zM864 342h1v1h-1zM865 343h1v1h-1zM866 344h1v1h-1zM867 345h1v1h-1zM868 346h1v1h-1zM869 347h1v1h-1zM870 348h1v1h-1zM871 348h1v1h-1zM872 349h1v1h-1zM873 350h1v1h-1zM874 351h1v1h-1zM875 351h1v1h-1zM876 352h1v1h-1zM877 353h1v1h-1zM878 353h1v1h-1zM879 353h1v1h-1zM880 354h1v1h-1zM881 354h1v1h-1zM882 355h1v2h-1zM883 357h1v1h-1zM884 358h1v2h-1zM885 360h1v1h-1zM886 361h1v2h-1zM887 363h1v1h-1zM888 364h1v2h-1zM889 366h1v1h-1zM890 367h1v1h-1zM891 368h1v2h-1zM892 370h1v1h-1zM893 371h1v1h-1zM894 371h1v1h-1zM895 371h1v1h-1zM896 372h1v1h-1zM897 372h1v1h-1zM898 373h1v1h-1zM899 374h1v1h-1zM900 375h1v1h-1zM901 376h1v1h-1zM902 376h1v1h-1zM903 375h1v1h-1zM904 375h1v1h-1zM905 374h1v1h-1zM906 373h1v1h-1zM907 371h1v2h-1zM908 370h1v1h-1zM909 369h1v1h-1zM910 368h1v1h-1zM911 366h1v2h-1zM912 365h1v1h-1zM913 364h1v1h-1zM914 365h1v1h-1zM915 366h1v2h-1zM916 368h1v1h-1zM917 369h1v2h-1zM918 371h1v2h-1zM919 373h1v2h-1zM920 375h1v2h-1zM921 377h1v1h-1zM922 378h1v2h-1zM923 380h1v2h-1zM924 382h1v2h-1zM925 384h1v1h-1zM926 385h1v2h-1zM927 387h1v2h-1zM928 389h1v2h-1zM929 391h1v1h-1zM930 392h1v2h-1zM931 394h1v1h-1zM932 395h1v2h-1zM933 397h1v1h-1zM934 398h1v1h-1zM935 399h1v1h-1zM936 400h1v1h-1zM937 401h1v1h-1zM938 401h1v1h-1zM939 401h1v1h-1zM940 400h1v1h-1zM941 400h1v1h-1zM942 400h1v1h-1zM943 400h1v1h-1zM944 399h1v1h-1zM945 399h1v1h-1zM946 398h1v1h-1zM947 398h1v1h-1zM948 397h1v1h-1zM949 395h1v2h-1zM950 393h1v2h-1zM951 390h1v3h-1zM952 388h1v2h-1zM953 385h1v3h-1zM954 382h1v3h-1zM955 380h1v2h-1zM956 377h1v3h-1zM957 374h1v3h-1zM958 372h1v2h-1zM959 369h1v3h-1zM960 367h1v2h-1zM961 365h1v2h-1zM962 363h1v2h-1zM963 361h1v2h-1zM964 359h1v2h-1zM965 358h1v1h-1zM966 358h1v1h-1zM967 358h1v1h-1zM968 357h1v1h-1zM969 357h1v1h-1zM970 358h1v1h-1zM971 359h1v1h-1zM972 360h1v1h-1zM973 361h1v2h-1zM974 363h1v2h-1zM975 365h1v3h-1zM976 368h1v2h-1zM977 370h1v3h-1zM978 373h1v4h-1zM979 377h1v4h-1zM980 381h1v4h-1zM981 385h1v3h-1zM982 388h1v3h-1zM983 391h1v4h-1zM984 395h1v3h-1zM985 398h1v2h-1zM986 400h1v1h-1zM987 400h1v1h-1zM988 401h1v1h-1zM989 402h1v1h-1zM990 402h1v1h-1zM991 401h1v1h-1zM992 401h1v1h-1zM993 399h1v2h-1zM994 397h1v2h-1zM995 395h1v2h-1zM996 393h1v2h-1zM997 390h1v3h-1zM998 386h1v4h-1zM999 382h1v4h-1zM1000 378h1v4h-1zM1001 375h1v3h-1zM1002 373h1v2h-1zM1003 371h1v2h-1zM1004 369h1v2h-1zM1005 367h1v2h-1zM1006 367h1v1h-1zM1007 366h1v1h-1zM1008 366h1v1h-1zM1009 365h1v1h-1zM1010 365h1v1h-1zM1011 365h1v1h-1zM1012 365h1v1h-1zM1013 365h1v1h-1zM1014 366h1v2h-1zM1015 368h1v2h-1zM1016 370h1v2h-1zM1017 372h1v1h-1zM1018 373h1v1h-1zM1019 373h1v1h-1zM1020 374h1v1h-1zM1021 375h1v1h-1zM1022 375h1v1h-1zM1023 376h1v1h-1zM1024 376h1v1h-1zM1025 377h1v1h-1zM1026 377h1v1h-1zM1027 377h1v1h-1zM1028 378h1v1h-1zM1029 378h1v1h-1zM1030 378h1v1h-1zM1031 378h1v1h-1zM1032 378h1v1h-1zM1033 378h1v1h-1zM1034 378h1v1h-1zM1035 377h1v1h-1zM1036 377h1v1h-1zM1037 376h1v1h-1zM1038 376h1v1h-1zM1039 375h1v1h-1zM1040 375h1v1h-1zM1041 374h1v1h-1zM1042 374h1v1h-1zM1043 375h1v1h-1zM1044 375h1v1h-1zM1045 376h1v1h-1zM1046 377h1v1h-1zM1047 378h1v2h-1zM1048 380h1v1h-1zM1049 381h1v1h-1zM1050 382h1v1h-1zM1051 383h1v2h-1zM1052 385h1v1h-1zM1053 386h1v1h-1zM1054 387h1v2h-1zM1055 389h1v2h-1zM1056 391h1v2h-1zM1057 393h1v1h-1zM1058 394h1v1h-1zM1059 395h1v2h-1zM1060 397h1v1h-1zM1061 398h1v2h-1zM1062 400h1v2h-1zM1063 402h1v2h-1zM1064 404h1v2h-1zM1065 406h1v3h-1zM1066 409h1v3h-1zM1067 412h1v2h-1zM1068 414h1v3h-1zM1069 417h1v3h-1zM1070 420h1v2h-1zM1071 422h1v3h-1zM1072 425h1v2h-1zM1073 427h1v3h-1zM1074 430h1v3h-1zM1075 433h1v2h-1zM1076 435h1v3h-1zM1077 438h1v3h-1zM1078 441h1v2h-1zM1079 443h1v3h-1zM1080 446h1v2h-1zM1081 448h1v3h-1zM1082 451h1v3h-1zM1083 454h1v3h-1zM1084 457h1v3h-1zM1085 460h1v2h-1zM1086 462h1v1h-1zM1087 463h1v2h-1zM1088 465h1v1h-1zM1089 466h1v1h-1zM1090 467h1v1h-1zM1091 467h1v1h-1zM1092 468h1v1h-1zM1093 469h1v1h-1zM1094 469h1v1h-1zM1095 469h1v1h-1zM1096 470h1v1h-1zM1097 470h1v1h-1zM1098 470h1v1h-1zM1099 470h1v1h-1zM1100 470h1v1h-1zM1101 470h1v1h-1zM1102 470h1v1h-1zM1103 470h1v1h-1zM1104 470h1v1h-1zM1105 470h1v1h-1zM1106 470h1v1h-1zM1107 470h1v1h-1zM1108 470h1v1h-1zM1109 470h1v1h-1zM1110 470h1v1h-1zM1111 471h1v1h-1zM1112 471h1v1h-1zM1113 472h1v1h-1zM1114 473h1v1h-1zM1115 474h1v1h-1zM1116 475h1v1h-1zM1117 476h1v1h-1zM1118 477h1v1h-1zM1119 478h1v1h-1zM1120 479h1v1h-1zM1121 480h1v1h-1zM1122 481h1v1h-1zM1123 481h1v1h-1zM1124 482h1v1h-1zM1125 483h1v1h-1zM1126 484h1v1h-1zM1127 484h1v1h-1zM1128 485h1v1h-1zM1129 486h1v1h-1zM1130 486h1v1h-1zM1131 486h1v1h-1zM1132 486h1v1h-1zM1133 486h1v1h-1zM1134 485h1v1h-1zM1135 485h1v1h-1zM1136 484h1v1h-1zM1137 483h1v1h-1zM1138 482h1v1h-1zM1139 480h1v2h-1zM1140 479h1v1h-1zM1141 478h1v1h-1zM1142 477h1v1h-1zM1143 476h1v1h-1zM1144 475h1v1h-1zM1145 474h1v1h-1zM1146 472h1v2h-1zM1147 471h1v1h-1zM1148 469h1v2h-1zM1149 468h1v1h-1zM1150 468h1v1h-1zM1151 467h1v1h-1zM1152 467h1v1h-1zM1153 466h1v1h-1zM1154 467h1v1h-1zM1155 467h1v1h-1zM1156 468h1v1h-1zM1157 469h1v1h-1zM1158 470h1v2h-1zM1159 472h1v2h-1zM1160 474h1v2h-1zM1161 476h1v1h-1zM1162 477h1v2h-1zM1163 479h1v1h-1zM1164 480h1v2h-1zM1165 482h1v1h-1zM1166 483h1v2h-1zM1167 485h1v2h-1zM1168 487h1v2h-1zM1169 489h1v1h-1zM1170 490h1v2h-1zM1171 492h1v1h-1zM1172 493h1v2h-1zM1173 495h1v1h-1zM1174 496h1v1h-1zM1175 497h1v1h-1zM1176 498h1v1h-1zM1177 499h1v1h-1zM1178 499h1v1h-1zM1179 500h1v1h-1zM1180 500h1v1h-1zM1181 501h1v1h-1zM1182 501h1v1h-1zM1183 501h1v1h-1zM1184 500h1v1h-1zM1185 500h1v1h-1zM1186 500h1v1h-1zM1187 500h1v1h-1zM1188 501h1v1h-1zM1189 501h1v1h-1zM1190 499h1v2h-1zM1191 498h1v1h-1zM1192 496h1v2h-1zM1193 494h1v2h-1zM1194 491h1v3h-1zM1195 489h1v2h-1zM1196 486h1v3h-1zM1197 484h1v2h-1zM1198 482h1v2h-1zM1199 481h1v1h-1zM1200 479h1v2h-1zM1201 478h1v1h-1zM1202 478h1v1h-1zM1203 477h1v1h-1zM1204 477h1v1h-1zM1205 476h1v1h-1zM1206 475h1v1h-1zM1207 473h1v2h-1zM1208 472h1v1h-1zM1209 471h1v1h-1zM1210 471h1v1h-1zM1211 470h1v1h-1zM1212 470h1v1h-1zM1213 469h1v1h-1zM1214 469h1v1h-1zM1215 469h1v1h-1zM1216 468h1v1h-1zM1217 468h1v1h-1zM1218 468h1v1h-1zM1219 468h1v1h-1zM1220 468h1v1h-1zM1221 468h1v1h-1zM1222 468h1v1h-1zM1223 468h1v1h-1zM1224 467h1v1h-1zM1225 467h1v1h-1zM1226 467h1v1h-1zM1227 467h1v1h-1zM1228 466h1v1h-1zM1229 466h1v1h-1zM1230 467h1v1h-1zM1231 467h1v1h-1zM1232 468h1v1h-1zM1233 469h1v1h-1zM1234 470h1v1h-1zM1235 471h1v2h-1zM1236 473h1v1h-1zM1237 474h1v1h-1zM1238 475h1v1h-1zM1239 475h1v1h-1zM1240 476h1v1h-1zM1241 477h1v1h-1zM1242 477h1v1h-1zM1243 477h1v1h-1zM1244 478h1v1h-1zM1245 478h1v1h-1zM1246 478h1v1h-1zM1247 478h1v1h-1zM1248 479h1v1h-1zM1249 479h1v1h-1zM1250 479h1v1h-1zM1251 478h1v1h-1zM1252 478h1v1h-1zM1253 477h1v1h-1zM1254 476h1v1h-1zM1255 476h1v1h-1zM1256 475h1v1h-1zM1257 474h1v1h-1zM1258 473h1v1h-1zM1259 473h1v1h-1zM1260 472h1v1h-1zM1261 471h1v1h-1zM1262 471h1v1h-1zM1263 470h1v1h-1zM1264 470h1v1h-1zM1265 469h1v1h-1zM1266 469h1v1h-1zM1267 468h1v1h-1zM1268 468h1v1h-1z"/>
<path shape-rendering="crispEdges" fill="#ff0000" d="M5 139h1v1h-1zM6 139h1v1h-1zM7 139h1v1h-1zM8 139h1v1h-1zM9 139h1v1h-1zM10 139h1v1h-1zM11 139h1v1h-1zM12 139h1v1h-1zM13 139h1v1h-1zM14 138h1v1h-1zM15 138h1v1h-1zM16 138h1v1h-1zM17 138h1v1h-1zM18 138h1v1h-1zM19 138h1v1h-1zM20 138h1v1h-1zM21 138h1v1h-1zM22 138h1v1h-1zM23 138h1v1h-1zM24 138h1v1h-1zM25 138h1v1h-1zM26 138h1v1h-1zM27 139h1v1h-1zM28 139h1v1h-1zM29 139h1v1h-1zM30 139h1v1h-1zM31 139h1v1h-1zM32 139h1v1h-1zM33 138h1v1h-1zM34 138h1v1h-1zM35 137h1v1h-1zM36 137h1v1h-1zM37 136h1v1h-1zM38 136h1v1h-1zM39 135h1v1h-1zM40 135h1v1h-1zM41 134h1v1h-1zM42 133h1v1h-1zM43 133h1v1h-1zM44 132h1v1h-1zM45 132h1v1h-1zM46 131h1v1h-1zM47 130h1v1h-1zM48 130h1v1h-1zM49 129h1v1h-1zM50 129h1v1h-1zM51 128h1v1h-1zM52 128h1v1h-1zM53 127h1v1h-1zM54 127h1v1h-1zM55 127h1v1h-1zM56 126h1v1h-1zM57 126h1v1h-1zM58 125h1v1h-1zM59 125h1v1h-1zM60 124h1v1h-1zM61 124h1v1h-1zM62 124h1v1h-1zM63 123h1v1h-1zM64 123h1v1h-1zM65 123h1v1h-1zM66 122h1v1h-1zM67 122h1v1h-1zM68 121h1v1h-1zM69 121h1v1h-1zM70 120h1v1h-1zM71 118h1v2h-1zM72 117h1v1h-1zM73 116h1v1h-1zM74 115h1v1h-1zM75 113h1v2h-1zM76 112h1v1h-1zM77 111h1v1h-1zM78 110h1v1h-1zM79 108h1v2h-1zM80 107h1v1h-1zM81 106h1v1h-1zM82 105h1v1h-1zM83 103h1v2h-1zM84 102h1v1h-1zM85 101h1v1h-1zM86 100h1v1h-1zM87 100h1v1h-1zM88 99h1v1h-1zM89 98h1v1h-1zM90 98h1v1h-1zM91 97h1v1h-1zM92 97h1v1h-1zM93 97h1v1h-1zM94 96h1v1h-1zM95 96h1v1h-1zM96 96h1v1h-1zM97 96h1v1h-1zM98 96h1v1h-1zM99 95h1v1h-1zM100 95h1v1h-1zM101 95h1v1h-1zM102 95h1v1h-1zM103 95h1v1h-1zM104 95h1v1h-1zM105 95h1v1h-1zM106 95h1v1h-1zM107 95h1v1h-1zM108 95h1v1h-1zM109 95h1v1h-1zM110 95h1v1h-1zM111 95h1v1h-1zM112 96h1v1h-1zM113 96h1v1h-1zM114 97h1v1h-1zM115 98h1v1h-1zM116 99h1v1h-1zM117 99h1v1h-1zM118 100h1v1h-1zM119 101h1v1h-1zM120 102h1v2h-1zM121 104h1v2h-1zM122 106h1v2h-1zM123 108h1v1h-1zM124 109h1v2h-1zM125 111h1v2h-1zM126 113h1v2h-1zM127 115h1v2h-1zM128 117h1v2h-1zM129 119h1v2h-1zM130 121h1v2h-1zM131 123h1v2h-1zM132 125h1v2h-1zM133 127h1v2h-1zM134 129h1v2h-1zM135 131h1v2h-1zM136 133h1v4h-1zM137 137h1v3h-1zM138 140h1v3h-1zM139 143h1v4h-1zM140 147h1v3h-1zM141 150h1v3h-1zM142 153h1v3h-1zM143 156h1v3h-1zM144 159h1v3h-1zM145 162h1v3h-1zM146 165h1v3h-1zM147 168h1v3h-1zM148 171h1v4h-1zM149 175h1v3h-1zM150 178h1v3h-1zM151 181h1v4h-1zM152 185h1v3h-1zM153 188h1v3h-1zM154 191h1v2h-1zM155 193h1v2h-1zM156 195h1v3h-1zM157 198h1v2h-1zM158 200h1v2h-1zM159 202h1v2h-1zM160 204h1v2h-1zM161 206h1v2h-1zM162 208h1v1h-1zM163 209h1v2h-1zM164 211h1v2h-1zM165 213h1v1h-1zM166 214h1v2h-1zM167 216h1v1h-1zM168 217h1v1h-1zM169 218h1v2h-1zM170 220h1v1h-1zM171 221h1v1h-1zM172 222h1v1h-1zM173 223h1v1h-1zM174 223h1v1h-1zM175 224h1v1h-1zM176 225h1v1h-1zM177 225h1v1h-1zM178 224h1v1h-1zM179 224h1v1h-1zM180 223h1v1h-1zM181 221h1v2h-1zM182 219h1v2h-1zM183 218h1v1h-1zM184 216h1v2h-1zM185 214h1v2h-1zM186 211h1v3h-1zM187 209h1v2h-1zM188 206h1v3h-1zM189 203h1v3h-1zM190 201h1v2h-1zM191 199h1v2h-1zM192 199h1v2h-1zM193 195h1v4h-1zM194 191h1v4h-1zM195 187h1v4h-1zM196 183h1v4h-1zM197 179h1v4h-1zM198 175h1v4h-1zM199 172h1v3h-1zM200 168h1v4h-1zM201 164h1v4h-1zM202 161h1v3h-1zM203 157h1v4h-1zM204 153h1v4h-1zM205 150h1v3h-1zM206 148h1v2h-1zM207 146h1v2h-1zM208 144h1v2h-1zM209 142h1v2h-1zM210 140h1v2h-1zM211 138h1v2h-1zM212 138h1v1h-1zM213 138h1v1h-1zM214 138h1v1h-1zM215 137h1v1h-1zM216 137h1v1h-1zM217 137h1v1h-1zM218 136h1v1h-1zM219 136h1v1h-1zM220 135h1v1h-1zM221 134h1v1h-1zM222 134h1v1h-1zM223 133h1v1h-1zM224 132h1v1h-1zM225 131h1v1h-1zM226 129h1v2h-1zM227 128h1v1h-1zM228 127h1v1h-1zM229 126h1v1h-1zM230 125h1v1h-1zM231 124h1v1h-1zM232 123h1v1h-1zM233 122h1v1h-1zM234 122h1v1h-1zM235 123h1v1h-1zM236 123h1v1h-1zM237 124h1v1h-1zM238 124h1v1h-1zM239 125h1v1h-1zM240 126h1v1h-1zM241 127h1v1h-1zM242 128h1v1h-1zM243 128h1v1h-1zM244 129h1v1h-1zM245 130h1v1h-1zM246 131h1v1h-1zM247 132h1v1h-1zM248 133h1v1h-1zM249 134h1v1h-1zM250 135h1v1h-1zM251 136h1v2h-1zM252 138h1v1h-1zM253 139h1v1h-1zM254 140h1v1h-1zM255 141h1v1h-1zM256 142h1v1h-1zM257 143h1v1h-1zM258 144h1v1h-1zM259 144h1v1h-1zM260 145h1v1h-1zM261 146h1v1h-1zM262 146h1v1h-1zM263 146h1v1h-1zM264 146h1v1h-1zM265 146h1v1h-1zM266 145h1v1h-1zM267 145h1v1h-1zM268 144h1v1h-1zM269 143h1v1h-1zM270 142h1v1h-1zM271 142h1v1h-1zM272 141h1v1h-1zM273 140h1v1h-1zM274 140h1v1h-1zM275 139h1v1h-1zM276 139h1v1h-1zM277 138h1v1h-1zM278 138h1v1h-1zM279 138h1v1h-1zM280 137h1v1h-1zM281 137h1v1h-1zM282 137h1v1h-1zM283 137h1v1h-1zM284 138h1v1h-1zM285 138h1v1h-1zM286 138h1v1h-1zM287 138h1v1h-1zM288 139h1v1h-1zM289 139h1v1h-1zM290 139h1v1h-1zM291 140h1v1h-1zM292 140h1v1h-1zM293 141h1v1h-1zM294 142h1v1h-1zM295 142h1v1h-1zM296 143h1v1h-1zM297 144h1v1h-1zM298 144h1v1h-1zM299 144h1v1h-1zM300 145h1v1h-1zM301 145h1v1h-1zM302 145h1v1h-1zM303 145h1v1h-1zM304 145h1v1h-1zM305 145h1v1h-1zM306 145h1v1h-1zM307 144h1v1h-1zM308 144h1v1h-1zM309 143h1v1h-1zM310 142h1v1h-1zM311 142h1v1h-1zM312 141h1v1h-1zM313 140h1v1h-1zM314 139h1v1h-1zM315 139h1v1h-1zM316 138h1v1h-1zM317 137h1v1h-1zM318 136h1v1h-1zM319 136h1v1h-1zM320 135h1v1h-1zM321 134h1v1h-1zM322 134h1v1h-1zM323 133h1v1h-1zM324 133h1v1h-1zM325 132h1v1h-1zM326 132h1v1h-1zM327 131h1v1h-1zM328 131h1v1h-1zM329 130h1v1h-1zM330 130h1v1h-1zM331 131h1v1h-1zM332 131h1v1h-1zM333 132h1v1h-1zM334 132h1v1h-1zM335 133h1v1h-1zM336 133h1v1h-1zM337 134h1v1h-1zM338 134h1v1h-1zM339 134h1v1h-1zM340 135h1v1h-1zM341 135h1v1h-1zM342 135h1v1h-1zM343 135h1v1h-1zM344 134h1v1h-1zM345 134h1v1h-1zM346 134h1v1h-1zM347 133h1v1h-1zM348 133h1v1h-1zM349 132h1v1h-1zM350 132h1v1h-1zM351 131h1v1h-1zM352 131h1v1h-1zM353 130h1v1h-1zM354 130h1v1h-1zM355 130h1v1h-1zM356 131h1v1h-1zM357 131h1v1h-1zM358 131h1v1h-1zM359 131h1v1h-1zM360 130h1v1h-1zM361 130h1v1h-1zM362 130h1v1h-1zM363 130h1v1h-1zM364 130h1v1h-1zM365 130h1v1h-1zM366 131h1v1h-1zM367 131h1v1h-1zM368 132h1v1h-1zM369 133h1v1h-1zM370 133h1v1h-1zM371 133h1v1h-1zM372 134h1v1h-1zM373 134h1v1h-1zM374 134h1v1h-1zM375 133h1v1h-1zM376 133h1v1h-1zM377 132h1v1h-1zM378 131h1v1h-1zM379 130h1v1h-1zM380 129h1v1h-1zM381 128h1v1h-1zM382 128h1v1h-1zM383 128h1v1h-1zM384 129h1v1h-1zM385 129h1v1h-1zM386 129h1v1h-1zM387 129h1v1h-1zM388 128h1v1h-1zM389 128h1v1h-1zM390 128h1v1h-1zM391 128h1v1h-1zM392 128h1v1h-1zM393 128h1v1h-1zM394 128h1v1h-1zM395 128h1v1h-1zM396 129h1v1h-1zM397 129h1v1h-1zM398 129h1v1h-1zM399 129h1v1h-1zM400 130h1v1h-1zM401 130h1v1h-1zM402 130h1v1h-1zM403 131h1v1h-1zM404 131h1v1h-1zM405 132h1v1h-1zM406 132h1v1h-1zM407 132h1v1h-1zM408 131h1v1h-1zM409 131h1v1h-1zM410 131h1v1h-1zM411 131h1v1h-1zM412 131h1v1h-1zM413 131h1v1h-1zM414 131h1v1h-1zM415 131h1v1h-1zM416 132h1v1h-1zM417 132h1v1h-1zM418 132h1v1h-1zM419 132h1v1h-1zM420 132h1v1h-1zM421 132h1v1h-1zM422 132h1v1h-1zM423 132h1v1h-1zM424 133h1v1h-1zM425 133h1v1h-1zM426 134h1v1h-1zM427 134h1v1h-1zM428 135h1v1h-1zM429 136h1v1h-1zM430 137h1v1h-1zM431 138h1v1h-1zM432 139h1v1h-1zM433 140h1v1h-1zM434 141h1v1h-1zM435 141h1v1h-1zM436 142h1v1h-1zM437 143h1v1h-1zM438 143h1v1h-1zM439 144h1v1h-1zM440 144h1v1h-1zM441 145h1v1h-1zM442 146h1v1h-1zM443 146h1v1h-1zM444 147h1v1h-1zM445 148h1v1h-1zM446 149h1v2h-1zM447 151h1v1h-1zM448 152h1v1h-1zM449 152h1v1h-1zM450 153h1v1h-1zM451 153h1v1h-1zM452 154h1v1h-1zM453 154h1v1h-1zM454 155h1v1h-1zM455 155h1v1h-1zM456 156h1v1h-1zM457 157h1v1h-1zM458 157h1v1h-1zM459 158h1v1h-1zM460 159h1v1h-1zM461 160h1v2h-1zM462 162h1v2h-1zM463 164h1v2h-1zM464 166h1v2h-1zM465 168h1v2h-1zM466 170h1v2h-1zM467 172h1v2h-1zM468 174h1v2h-1zM469 176h1v3h-1zM470 179h1v2h-1zM471 181h1v2h-1zM472 183h1v2h-1zM473 185h1v1h-1zM474 186h1v1h-1zM475 187h1v2h-1zM476 189h1v1h-1zM477 190h1v1h-1zM478 191h1v1h-1zM479 191h1v1h-1zM480 192h1v1h-1zM481 193h1v1h-1zM482 194h1v1h-1zM483 194h1v1h-1zM484 195h1v1h-1zM485 196h1v1h-1zM486 197h1v1h-1zM487 198h1v1h-1zM488 199h1v1h-1zM489 200h1v1h-1zM490 201h1v1h-1zM491 201h1v1h-1zM492 202h1v1h-1zM493 203h1v1h-1zM494 204h1v1h-1zM495 204h1v1h-1zM496 205h1v1h-1zM497 206h1v1h-1zM498 206h1v1h-1zM499 207h1v1h-1zM500 207h1v1h-1zM501 208h1v1h-1zM502 209h1v1h-1zM503 209h1v1h-1zM504 210h1v1h-1zM505 211h1v1h-1zM506 212h1v1h-1zM507 212h1v1h-1zM508 213h1v1h-1zM509 214h1v1h-1zM510 215h1v1h-1zM511 216h1v2h-1zM512 218h1v1h-1zM513 219h1v1h-1zM514 220h1v1h-1zM515 221h1v1h-1zM516 222h1v1h-1zM517 223h1v1h-1zM518 223h1v1h-1zM519 223h1v1h-1zM520 223h1v1h-1zM521 223h1v1h-1zM522 223h1v1h-1zM523 222h1v1h-1zM524 222h1v1h-1zM525 221h1v1h-1zM526 221h1v1h-1zM527 220h1v1h-1zM528 220h1v1h-1zM529 219h1v1h-1zM530 219h1v1h-1zM531 219h1v1h-1zM532 218h1v1h-1zM533 218h1v1h-1zM534 219h1v1h-1zM535 219h1v1h-1zM536 220h1v1h-1zM537 221h1v1h-1zM538 221h1v1h-1zM539 221h1v1h-1zM540 222h1v1h-1zM541 222h1v1h-1zM542 222h1v1h-1zM543 222h1v1h-1zM544 223h1v1h-1zM545 223h1v1h-1zM546 223h1v1h-1zM547 224h1v1h-1zM548 224h1v2h-1zM549 226h1v1h-1zM550 226h1v1h-1zM551 227h1v1h-1zM552 227h1v1h-1zM553 228h1v1h-1zM554 229h1v1h-1zM555 229h1v1h-1zM556 230h1v1h-1zM557 231h1v1h-1zM558 232h1v1h-1zM559 232h1v1h-1zM560 233h1v1h-1zM561 234h1v1h-1zM562 235h1v1h-1zM563 235h1v1h-1zM564 236h1v1h-1zM565 237h1v1h-1zM566 237h1v1h-1zM567 237h1v1h-1zM568 238h1v1h-1zM569 238h1v1h-1zM570 239h1v1h-1zM571 239h1v1h-1zM572 240h1v1h-1zM573 241h1v1h-1zM574 241h1v1h-1zM575 242h1v1h-1zM576 242h1v1h-1zM577 243h1v1h-1zM578 243h1v1h-1zM579 244h1v1h-1zM580 244h1v1h-1zM581 245h1v1h-1zM582 245h1v1h-1zM583 246h1v1h-1zM584 246h1v1h-1zM585 247h1v1h-1zM586 247h1v1h-1zM587 248h1v1h-1zM588 248h1v1h-1zM589 249h1v1h-1zM590 249h1v1h-1zM591 250h1v1h-1zM592 250h1v1h-1zM593 251h1v1h-1zM594 251h1v1h-1zM595 252h1v1h-1zM596 252h1v1h-1zM597 253h1v1h-1zM598 253h1v1h-1zM599 253h1v1h-1zM600 254h1v1h-1zM601 254h1v1h-1zM602 254h1v1h-1zM603 255h1v1h-1zM604 255h1v1h-1zM605 256h1v1h-1zM606 257h1v1h-1zM607 258h1v1h-1zM608 259h1v1h-1zM609 260h1v1h-1zM610 261h1v1h-1zM611 262h1v2h-1zM612 264h1v1h-1zM613 265h1v1h-1zM614 266h1v1h-1zM615 267h1v2h-1zM616 269h1v1h-1zM617 270h1v1h-1zM618 271h1v1h-1zM619 272h1v2h-1zM620 274h1v1h-1zM621 275h1v1h-1zM622 276h1v1h-1zM623 277h1v2h-1zM624 279h1v1h-1zM625 280h1v1h-1zM626 281h1v1h-1zM627 282h1v2h-1zM628 284h1v1h-1zM629 285h1v1h-1zM630 286h1v2h-1zM631 288h1v2h-1zM632 290h1v1h-1zM633 291h1v2h-1zM634 293h1v2h-1zM635 295h1v2h-1zM636 297h1v2h-1zM637 299h1v2h-1zM638 301h1v2h-1zM639 303h1v2h-1zM640 305h1v2h-1zM641 307h1v2h-1zM642 309h1v2h-1zM643 311h1v2h-1zM644 313h1v2h-1zM645 315h1v3h-1zM646 318h1v2h-1zM647 320h1v2h-1zM648 322h1v2h-1zM649 324h1v1h-1zM650 325h1v2h-1zM651 327h1v2h-1zM652 329h1v2h-1zM653 331h1v2h-1zM654 333h1v2h-1zM655 335h1v2h-1zM656 337h1v2h-1zM657 339h1v3h-1zM658 342h1v2h-1zM659 344h1v2h-1zM660 346h1v2h-1zM661 348h1v1h-1zM662 349h1v2h-1zM663 351h1v1h-1zM664 352h1v2h-1zM665 354h1v1h-1zM666 355h1v1h-1zM667 356h1v2h-1zM668 358h1v1h-1zM669 359h1v1h-1zM670 360h1v1h-1zM671 361h1v1h-1zM672 362h1v1h-1zM673 363h1v1h-1zM674 363h1v1h-1zM675 364h1v1h-1zM676 364h1v1h-1zM677 365h1v1h-1zM678 365h1v1h-1zM679 366h1v1h-1zM680 366h1v1h-1zM681 367h1v1h-1zM682 367h1v1h-1zM683 368h1v1h-1zM684 368h1v1h-1zM685 369h1v1h-1zM686 369h1v1h-1zM687 369h1v1h-1zM688 370h1v1h-1zM689 370h1v1h-1zM690 370h1v1h-1zM691 371h1v1h-1zM692 371h1v1h-1zM693 372h1v1h-1zM694 372h1v1h-1zM695 372h1v1h-1zM696 373h1v1h-1zM697 373h1v1h-1zM698 373h1v1h-1zM699 374h1v1h-1zM700 374h1v1h-1zM701 374h1v1h-1zM702 375h1v1h-1zM703 375h1v1h-1zM704 376h1v1h-1zM705 377h1v1h-1zM706 378h1v1h-1zM707 378h1v1h-1zM708 379h1v1h-1zM709 380h1v1h-1zM710 380h1v1h-1zM711 380h1v1h-1zM712 380h1v1h-1zM713 380h1v1h-1zM714 380h1v1h-1zM715 380h1v1h-1zM716 380h1v1h-1zM717 380h1v1h-1zM718 380h1v1h-1zM719 380h1v1h-1zM720 380h1v1h-1zM721 380h1v1h-1zM722 380h1v1h-1zM723 380h1v1h-1zM724 380h1v1h-1zM725 380h1v1h-1zM726 380h1v1h-1zM727 381h1v1h-1zM728 381h1v1h-1zM729 382h1v1h-1zM730 382h1v1h-1zM731 383h1v1h-1zM732 383h1v1h-1zM733 384h1v1h-1zM734 385h1v1h-1zM735 385h1v1h-1zM736 386h1v1h-1zM737 387h1v1h-1zM738 387h1v1h-1zM739 388h1v1h-1zM740 388h1v1h-1zM741 389h1v1h-1zM742 389h1v1h-1zM743 390h1v1h-1zM744 390h1v1h-1zM745 391h1v1h-1zM746 391h1v1h-1zM747 392h1v1h-1zM748 392h1v1h-1zM749 393h1v1h-1zM750 393h1v1h-1zM751 393h1v1h-1zM752 393h1v1h-1zM753 393h1v1h-1zM754 393h1v1h-1zM755 392h1v1h-1zM756 392h1v1h-1zM757 391h1v1h-1zM758 391h1v1h-1zM759 390h1v1h-1zM760 390h1v1h-1zM761 389h1v1h-1zM762 389h1v1h-1zM763 389h1v1h-1zM764 388h1v1h-1zM765 388h1v1h-1zM766 388h1v1h-1zM767 388h1v1h-1zM768 387h1v1h-1zM769 387h1v1h-1zM770 387h1v1h-1zM771 387h1v1h-1zM772 386h1v1h-1zM773 386h1v1h-1zM774 386h1v1h-1zM775 386h1v1h-1zM776 385h1v1h-1zM777 385h1v1h-1zM778 385h1v1h-1zM779 385h1v1h-1zM780 385h1v1h-1zM781 385h1v1h-1zM782 385h1v1h-1zM783 385h1v1h-1zM784 385h1v1h-1zM785 385h1v1h-1zM786 385h1v1h-1zM787 385h1v1h-1zM788 384h1v1h-1zM789 384h1v1h-1zM790 384h1v1h-1zM791 384h1v1h-1zM792 384h1v1h-1zM793 384h1v1h-1zM794 384h1v1h-1zM795 384h1v1h-1zM796 383h1v1h-1zM797 383h1v1h-1zM798 383h1v1h-1zM799 382h1v1h-1zM800 382h1v1h-1zM801 381h1v1h-1zM802 381h1v1h-1zM803 380h1v1h-1zM804 380h1v1h-1zM805 379h1v1h-1zM806 379h1v1h-1zM807 379h1v1h-1zM808 378h1v1h-1zM809 378h1v1h-1zM810 378h1v1h-1zM811 378h1v1h-1zM812 379h1v1h-1zM813 379h1v1h-1zM814 379h1v1h-1zM815 379h1v1h-1zM816 379h1v1h-1zM817 379h1v1h-1zM818 379h1v1h-1zM819 379h1v1h-1zM820 378h1v1h-1zM821 378h1v1h-1zM822 377h1v1h-1zM823 377h1v1h-1zM824 376h1v1h-1zM825 375h1v1h-1zM826 375h1v1h-1zM827 375h1v1h-1zM828 374h1v1h-1zM829 374h1v1h-1zM830 373h1v1h-1zM831 373h1v1h-1zM832 372h1v1h-1zM833 371h1v1h-1zM834 369h1v2h-1zM835 368h1v1h-1zM836 366h1v2h-1zM837 365h1v1h-1zM838 364h1v1h-1zM839 362h1v2h-1zM840 361h1v1h-1zM841 360h1v1h-1zM842 359h1v1h-1zM843 357h1v2h-1zM844 356h1v1h-1zM845 355h1v1h-1zM846 354h1v1h-1zM847 353h1v1h-1zM848 352h1v1h-1zM849 351h1v1h-1zM850 350h1v1h-1zM851 350h1v1h-1zM852 349h1v1h-1zM853 348h1v1h-1zM854 348h1v1h-1zM855 347h1v1h-1zM856 347h1v1h-1zM857 346h1v1h-1zM858 345h1v1h-1zM859 345h1v1h-1zM860 344h1v1h-1zM861 343h1v1h-1zM862 342h1v1h-1zM863 342h1v1h-1zM864 341h1v1h-1zM865 340h1v1h-1zM866 339h1v1h-1zM867 339h1v1h-1zM868 338h1v1h-1zM869 337h1v1h-1zM870 337h1v1h-1zM871 337h1v1h-1zM872 336h1v1h-1zM873 336h1v1h-1zM874 336h1v1h-1zM875 336h1v1h-1zM876 336h1v1h-1zM877 336h1v1h-1zM878 336h1v1h-1zM879 336h1v1h-1zM880 337h1v1h-1zM881 337h1v1h-1zM882 338h1v1h-1zM883 338h1v1h-1zM884 339h1v1h-1zM885 340h1v1h-1zM886 341h1v2h-1zM887 343h1v1h-1zM888 344h1v2h-1zM889 346h1v1h-1zM890 347h1v1h-1zM891 348h1v2h-1zM892 350h1v1h-1zM893 351h1v1h-1zM894 352h1v1h-1zM895 353h1v2h-1zM896 355h1v1h-1zM897 356h1v1h-1zM898 357h1v1h-1zM899 357h1v1h-1zM900 358h1v1h-1zM901 359h1v1h-1zM902 359h1v1h-1zM903 359h1v1h-1zM904 360h1v1h-1zM905 360h1v1h-1zM906 360h1v1h-1zM907 360h1v1h-1zM908 360h1v1h-1zM909 360h1v1h-1zM910 361h1v1h-1zM911 361h1v1h-1zM912 362h1v1h-1zM913 363h1v1h-1zM914 364h1v1h-1zM915 365h1v1h-1zM916 366h1v1h-1zM917 367h1v1h-1zM918 368h1v1h-1zM919 369h1v1h-1zM920 370h1v1h-1zM921 371h1v1h-1zM922 372h1v1h-1zM923 372h1v1h-1zM924 373h1v1h-1zM925 374h1v1h-1zM926 374h1v1h-1zM927 375h1v1h-1zM928 375h1v1h-1zM929 376h1v1h-1zM930 377h1v1h-1zM931 377h1v1h-1zM932 378h1v1h-1zM933 379h1v1h-1zM934 380h1v1h-1zM935 381h1v1h-1zM936 382h1v1h-1zM937 383h1v1h-1zM938 383h1v1h-1zM939 383h1v1h-1zM940 384h1v1h-1zM941 384h1v1h-1zM942 384h1v1h-1zM943 384h1v1h-1zM944 385h1v1h-1zM945 385h1v1h-1zM946 385h1v1h-1zM947 385h1v1h-1zM948 385h1v1h-1zM949 385h1v1h-1zM950 385h1v1h-1zM951 385h1v1h-1zM952 384h1v1h-1zM953 384h1v1h-1zM954 384h1v1h-1zM955 384h1v1h-1zM956 383h1v1h-1zM957 383h1v1h-1zM958 383h1v1h-1zM959 383h1v1h-1zM960 382h1v1h-1zM961 382h1v1h-1zM962 382h1v1h-1zM963 382h1v1h-1zM964 381h1v1h-1zM965 381h1v1h-1zM966 381h1v1h-1zM967 381h1v1h-1zM968 381h1v1h-1zM969 381h1v1h-1zM970 381h1v1h-1zM971 381h1v1h-1zM972 382h1v1h-1zM973 382h1v1h-1zM974 382h1v1h-1zM975 382h1v1h-1zM976 382h1v1h-1zM977 382h1v1h-1zM978 382h1v1h-1zM979 382h1v1h-1zM980 383h1v1h-1zM981 383h1v1h-1zM982 383h1v1h-1zM983 384h1v1h-1zM984 384h1v1h-1zM985 385h1v1h-1zM986 384h1v1h-1zM987 383h1v1h-1zM988 382h1v1h-1zM989 381h1v1h-1zM990 381h1v1h-1zM991 380h1v1h-1zM992 380h1v1h-1zM993 379h1v1h-1zM994 379h1v1h-1zM995 378h1v1h-1zM996 378h1v1h-1zM997 377h1v2h-1zM998 377h1v1h-1zM999 377h1v1h-1zM1000 376h1v1h-1zM1001 375h1v1h-1zM1002 375h1v1h-1zM1003 375h1v1h-1zM1004 374h1v1h-1zM1005 374h1v1h-1zM1006 374h1v1h-1zM1007 374h1v1h-1zM1008 375h1v1h-1zM1009 375h1v1h-1zM1010 375h1v1h-1zM1011 376h1v1h-1zM1012 376h1v1h-1zM1013 377h1v1h-1zM1014 378h1v1h-1zM1015 378h1v1h-1zM1016 379h1v1h-1zM1017 380h1v1h-1zM1018 380h1v1h-1zM1019 380h1v1h-1zM1020 381h1v1h-1zM1021 381h1v1h-1zM1022 381h1v1h-1zM1023 381h1v1h-1zM1024 382h1v1h-1zM1025 382h1v1h-1zM1026 382h1v1h-1zM1027 382h1v1h-1zM1028 382h1v1h-1zM1029 382h1v1h-1zM1030 382h1v1h-1zM1031 382h1v1h-1zM1032 381h1v1h-1zM1033 381h1v1h-1zM1034 380h1v1h-1zM1035 378h1v2h-1zM1036 377h1v1h-1zM1037 376h1v1h-1zM1038 375h1v1h-1zM1039 375h1v1h-1zM1040 374h1v1h-1zM1041 373h1v1h-1zM1042 373h1v1h-1zM1043 373h1v1h-1zM1044 373h1v1h-1zM1045 373h1v1h-1zM1046 373h1v1h-1zM1047 374h1v1h-1zM1048 374h1v1h-1zM1049 375h1v1h-1zM1050 376h1v1h-1zM1051 376h1v1h-1zM1052 377h1v1h-1zM1053 378h1v1h-1zM1054 379h1v1h-1zM1055 380h1v1h-1zM1056 381h1v1h-1zM1057 382h1v1h-1zM1058 382h1v1h-1zM1059 383h1v1h-1zM1060 383h1v1h-1zM1061 384h1v1h-1zM1062 385h1v1h-1zM1063 385h1v1h-1zM1064 386h1v1h-1zM1065 387h1v1h-1zM1066 388h1v1h-1zM1067 389h1v2h-1zM1068 391h1v1h-1zM1069 392h1v2h-1zM1070 394h1v2h-1zM1071 396h1v2h-1zM1072 398h1v2h-1zM1073 400h1v1h-1zM1074 401h1v1h-1zM1075 402h1v2h-1zM1076 404h1v1h-1zM1077 405h1v1h-1zM1078 406h1v2h-1zM1079 408h1v2h-1zM1080 410h1v2h-1zM1081 412h1v1h-1zM1082 413h1v2h-1zM1083 415h1v1h-1zM1084 416h1v2h-1zM1085 418h1v1h-1zM1086 419h1v2h-1zM1087 421h1v1h-1zM1088 422h1v2h-1zM1089 424h1v2h-1zM1090 426h1v2h-1zM1091 428h1v2h-1zM1092 430h1v2h-1zM1093 432h1v1h-1zM1094 433h1v2h-1zM1095 435h1v2h-1zM1096 437h1v2h-1zM1097 439h1v1h-1zM1098 440h1v2h-1zM1099 442h1v1h-1zM1100 443h1v2h-1zM1101 445h1v1h-1zM1102 446h1v1h-1zM1103 447h1v1h-1zM1104 448h1v1h-1zM1105 449h1v1h-1zM1106 450h1v1h-1zM1107 451h1v2h-1zM1108 453h1v1h-1zM1109 454h1v1h-1zM1110 455h1v2h-1zM1111 457h1v1h-1zM1112 458h1v2h-1zM1113 460h1v1h-1zM1114 461h1v2h-1zM1115 463h1v1h-1zM1116 464h1v2h-1zM1117 466h1v1h-1zM1118 467h1v1h-1zM1119 468h1v1h-1zM1120 469h1v1h-1zM1121 470h1v1h-1zM1122 471h1v1h-1zM1123 472h1v1h-1zM1124 473h1v1h-1zM1125 474h1v1h-1zM1126 474h1v1h-1zM1127 475h1v1h-1zM1128 475h1v1h-1zM1129 476h1v1h-1zM1130 476h1v1h-1zM1131 476h1v1h-1zM1132 476h1v1h-1zM1133 476h1v1h-1zM1134 476h1v1h-1zM1135 476h1v1h-1zM1136 477h1v1h-1zM1137 477h1v1h-1zM1138 477h1v1h-1zM1139 477h1v1h-1zM1140 477h1v1h-1zM1141 477h1v1h-1zM1142 477h1v1h-1zM1143 477h1v1h-1zM1144 476h1v1h-1zM1145 476h1v1h-1zM1146 476h1v1h-1zM1147 476h1v1h-1zM1148 476h1v1h-1zM1149 476h1v1h-1zM1150 476h1v1h-1zM1151 476h1v1h-1zM1152 476h1v1h-1zM1153 475h1v2h-1zM1154 475h1v1h-1zM1155 476h1v1h-1zM1156 476h1v1h-1zM1157 477h1v1h-1zM1158 477h1v1h-1zM1159 477h1v1h-1zM1160 478h1v1h-1zM1161 478h1v1h-1zM1162 478h1v1h-1zM1163 479h1v1h-1zM1164 479h1v1h-1zM1165 480h1v1h-1zM1166 480h1v1h-1zM1167 480h1v1h-1zM1168 480h1v1h-1zM1169 480h1v1h-1zM1170 480h1v1h-1zM1171 480h1v1h-1zM1172 481h1v1h-1zM1173 481h1v1h-1zM1174 481h1v1h-1zM1175 482h1v1h-1zM1176 482h1v1h-1zM1177 483h1v1h-1zM1178 483h1v1h-1zM1179 483h1v1h-1zM1180 484h1v1h-1zM1181 484h1v1h-1zM1182 484h1v1h-1zM1183 484h1v1h-1zM1184 485h1v1h-1zM1185 485h1v1h-1zM1186 485h1v1h-1zM1187 485h1v1h-1zM1188 486h1v1h-1zM1189 486h1v1h-1zM1190 486h1v1h-1zM1191 486h1v1h-1zM1192 486h1v1h-1zM1193 486h1v1h-1zM1194 486h1v1h-1zM1195 486h1v1h-1zM1196 486h1v1h-1zM1197 486h1v1h-1zM1198 486h1v1h-1zM1199 486h1v1h-1zM1200 486h1v1h-1zM1201 486h1v1h-1zM1202 486h1v1h-1zM1203 486h1v1h-1zM1204 487h1v1h-1zM1205 487h1v1h-1zM1206 487h1v1h-1zM1207 487h1v1h-1zM1208 488h1v1h-1zM1209 488h1v1h-1zM1210 488h1v1h-1zM1211 487h1v1h-1zM1212 487h1v1h-1zM1213 486h1v1h-1zM1214 485h1v1h-1zM1215 485h1v1h-1zM1216 484h1v1h-1zM1217 483h1v1h-1zM1218 483h1v1h-1zM1219 482h1v1h-1zM1220 482h1v1h-1zM1221 481h1v1h-1zM1222 481h1v1h-1zM1223 481h1v1h-1zM1224 480h1v1h-1zM1225 480h1v1h-1zM1226 479h1v1h-1zM1227 479h1v1h-1zM1228 478h1v1h-1zM1229 477h1v1h-1zM1230 477h1v1h-1zM1231 476h1v1h-1zM1232 476h1v1h-1zM1233 475h1v1h-1zM1234 475h1v1h-1zM1235 475h1v1h-1zM1236 474h1v1h-1zM1237 474h1v1h-1zM1238 474h1v1h-1zM1239 474h1v1h-1zM1240 473h1v1h-1zM1241 473h1v1h-1zM1242 473h1v1h-1zM1243 473h1v1h-1zM1244 472h1v1h-1zM1245 472h1v1h-1zM1246 472h1v1h-1zM1247 472h1v1h-1zM1248 472h1v1h-1zM1249 472h1v1h-1zM1250 472h1v1h-1zM1251 472h1v1h-1zM1252 472h1v1h-1zM1253 472h1v1h-1zM1254 472h1v1h-1zM1255 472h1v1h-1zM1256 472h1v1h-1zM1257 472h1v1h-1zM1258 472h1v1h-1zM1259 472h1v1h-1zM1260 472h1v1h-1zM1261 472h1v1h-1zM1262 472h1v1h-1zM1263 472h1v1h-1zM1264 472h1v1h-1zM1265 472h1v1h-1zM1266 472h1v1h-1zM1267 472h1v1h-1zM1268 472h1v1h-1z"/>
<path shape-rendering="crispEdges" fill="#0000cd" d="M5 131h1v1h-1zM6 131h1v1h-1zM7 131h1v1h-1zM8 131h1v1h-1zM9 131h1v1h-1zM10 132h1v1h-1zM11 132h1v1h-1zM12 132h1v1h-1zM13 132h1v1h-1zM14 132h1v1h-1zM15 133h1v1h-1zM16 133h1v1h-1zM17 134h1v1h-1zM18 134h1v1h-1zM19 135h1v1h-1zM20 135h1v1h-1zM21 136h1v1h-1zM22 136h1v1h-1zM23 137h1v1h-1zM24 137h1v1h-1zM25 137h1v1h-1zM26 137h1v1h-1zM27 137h1v1h-1zM28 137h1v1h-1zM29 137h1v1h-1zM30 137h1v1h-1zM31 137h1v1h-1zM32 137h1v1h-1zM33 137h1v1h-1zM34 137h1v1h-1zM35 137h1v1h-1zM36 137h1v1h-1zM37 137h1v1h-1zM38 137h1v1h-1zM39 136h1v1h-1zM40 136h1v1h-1zM41 136h1v1h-1zM42 135h1v1h-1zM43 135h1v1h-1zM44 134h1v1h-1zM45 134h1v1h-1zM46 134h1v1h-1zM47 134h1v1h-1zM48 133h1v1h-1zM49 133h1v1h-1zM50 133h1v1h-1zM51 133h1v1h-1zM52 132h1v1h-1zM53 132h1v1h-1zM54 132h1v1h-1zM55 132h1v1h-1zM56 131h1v1h-1zM57 131h1v1h-1zM58 131h1v1h-1zM59 131h1v1h-1zM60 131h1v1h-1zM61 130h1v1h-1zM62 130h1v1h-1zM63 130h1v1h-1zM64 130h1v1h-1zM65 130h1v1h-1zM66 130h1v1h-1zM67 129h1v1h-1zM68 129h1v1h-1zM69 129h1v1h-1zM70 129h1v1h-1zM71 128h1v1h-1zM72 128h1v1h-1zM73 127h1v1h-1zM74 127h1v1h-1zM75 127h1v1h-1zM76 126h1v1h-1zM77 126h1v1h-1zM78 125h1v1h-1zM79 125h1v1h-1zM80 124h1v1h-1zM81 124h1v1h-1zM82 123h1v1h-1zM83 122h1v1h-1zM84 122h1v1h-1zM85 121h1v1h-1zM86 120h1v1h-1zM87 120h1v1h-1zM88 119h1v1h-1zM89 119h1v1h-1zM90 118h1v1h-1zM91 118h1v1h-1zM92 118h1v1h-1zM93 117h1v1h-1zM94 117h1v1h-1zM95 116h1v1h-1zM96 116h1v1h-1zM97 116h1v1h-1zM98 116h1v1h-1zM99 116h1v1h-1zM100 116h1v1h-1zM101 116h1v1h-1zM102 115h1v1h-1zM103 115h1v1h-1zM104 115h1v1h-1zM105 115h1v1h-1zM106 115h1v1h-1zM107 115h1v1h-1zM108 115h1v1h-1zM109 115h1v1h-1zM110 115h1v1h-1zM111 114h1v1h-1zM112 114h1v1h-1zM113 114h1v1h-1zM114 114h1v1h-1zM115 114h1v1h-1zM116 115h1v1h-1zM117 115h1v1h-1zM118 115h1v1h-1zM119 115h1v1h-1zM120 115h1v1h-1zM121 116h1v1h-1zM122 116h1v1h-1zM123 116h1v1h-1zM124 116h1v1h-1zM125 117h1v1h-1zM126 117h1v1h-1zM127 118h1v1h-1zM128 118h1v1h-1zM129 119h1v1h-1zM130 119h1v1h-1zM131 120h1v1h-1zM132 121h1v1h-1zM133 121h1v1h-1zM134 122h1v1h-1zM135 123h1v1h-1zM136 124h1v1h-1zM137 124h1v1h-1zM138 125h1v1h-1zM139 126h1v1h-1zM140 127h1v1h-1zM141 128h1v1h-1zM142 129h1v1h-1zM143 130h1v2h-1zM144 132h1v1h-1zM145 133h1v1h-1zM146 134h1v1h-1zM147 135h1v1h-1zM148 136h1v1h-1zM149 137h1v2h-1zM150 139h1v1h-1zM151 140h1v1h-1zM152 141h1v1h-1zM153 142h1v2h-1zM154 144h1v1h-1zM155 145h1v1h-1zM156 146h1v1h-1zM157 147h1v1h-1zM158 147h1v1h-1zM159 148h1v1h-1zM160 149h1v1h-1zM161 150h1v1h-1zM162 150h1v1h-1zM163 151h1v1h-1zM164 152h1v1h-1zM165 153h1v1h-1zM166 154h1v1h-1zM167 154h1v1h-1zM168 155h1v1h-1zM169 156h1v1h-1zM170 156h1v1h-1zM171 157h1v1h-1zM172 157h1v1h-1zM173 158h1v1h-1zM174 158h1v1h-1zM175 159h1v1h-1zM176 159h1v1h-1zM177 160h1v1h-1zM178 160h1v1h-1zM179 160h1v1h-1zM180 160h1v1h-1zM181 160h1v1h-1zM182 160h1v1h-1zM183 160h1v1h-1zM184 160h1v1h-1zM185 160h1v1h-1zM186 160h1v1h-1zM187 160h1v1h-1zM188 160h1v1h-1zM189 159h1v1h-1zM190 159h1v1h-1zM191 159h1v1h-1zM192 159h1v1h-1zM193 159h1v1h-1zM194 159h1v1h-1zM195 159h1v1h-1zM196 159h1v1h-1zM197 159h1v1h-1zM198 159h1v1h-1zM199 159h1v1h-1zM200 159h1v1h-1zM201 159h1v1h-1zM202 159h1v1h-1zM203 159h1v1h-1zM204 159h1v1h-1zM205 159h1v1h-1zM206 160h1v1h-1zM207 160h1v1h-1zM208 161h1v1h-1zM209 162h1v1h-1zM210 163h1v1h-1zM211 163h1v1h-1zM212 164h1v1h-1zM213 165h1v1h-1zM214 166h1v1h-1zM215 166h1v1h-1zM216 167h1v1h-1zM217 168h1v1h-1zM218 169h1v1h-1zM219 169h1v1h-1zM220 170h1v1h-1zM221 171h1v1h-1zM222 171h1v1h-1zM223 172h1v1h-1zM224 172h1v1h-1zM225 173h1v1h-1zM226 173h1v1h-1zM227 174h1v1h-1zM228 174h1v1h-1zM229 174h1v1h-1zM230 174h1v1h-1zM231 174h1v1h-1zM232 174h1v1h-1zM233 174h1v1h-1zM234 174h1v1h-1zM235 173h1v1h-1zM236 173h1v1h-1zM237 172h1v1h-1zM238 172h1v1h-1zM239 171h1v1h-1zM240 171h1v1h-1zM241 170h1v1h-1zM242 170h1v1h-1zM243 169h1v1h-1zM244 168h1v1h-1zM245 168h1v1h-1zM246 167h1v1h-1zM247 167h1v1h-1zM248 166h1v1h-1zM249 166h1v1h-1zM250 165h1v1h-1zM251 164h1v1h-1zM252 164h1v1h-1zM253 163h1v1h-1zM254 163h1v1h-1zM255 162h1v1h-1zM256 162h1v1h-1zM257 161h1v1h-1zM258 160h1v1h-1zM259 160h1v1h-1zM260 159h1v1h-1zM261 158h1v1h-1zM262 157h1v1h-1zM263 155h1v2h-1zM264 154h1v1h-1zM265 153h1v1h-1zM266 152h1v1h-1zM267 151h1v1h-1zM268 150h1v1h-1zM269 149h1v1h-1zM270 148h1v1h-1zM271 146h1v2h-1zM272 145h1v1h-1zM273 144h1v1h-1zM274 143h1v1h-1zM275 143h1v1h-1zM276 142h1v1h-1zM277 141h1v1h-1zM278 140h1v1h-1zM279 140h1v1h-1zM280 139h1v1h-1zM281 138h1v1h-1zM282 138h1v1h-1zM283 138h1v1h-1zM284 137h1v1h-1zM285 137h1v1h-1zM286 137h1v1h-1zM287 136h1v1h-1zM288 136h1v1h-1zM289 135h1v1h-1zM290 135h1v1h-1zM291 134h1v1h-1zM292 134h1v1h-1zM293 133h1v1h-1zM294 133h1v1h-1zM295 133h1v1h-1zM296 133h1v1h-1zM297 133h1v1h-1zM298 133h1v1h-1zM299 133h1v1h-1zM300 133h1v1h-1zM301 133h1v1h-1zM302 133h1v1h-1zM303 133h1v1h-1zM304 134h1v1h-1zM305 134h1v1h-1zM306 134h1v1h-1zM307 135h1v1h-1zM308 135h1v1h-1zM309 136h1v1h-1zM310 136h1v1h-1zM311 137h1v1h-1zM312 137h1v1h-1zM313 138h1v1h-1zM314 138h1v1h-1zM315 138h1v1h-1zM316 139h1v1h-1zM317 139h1v1h-1zM318 139h1v1h-1zM319 139h1v1h-1zM320 140h1v1h-1zM321 140h1v1h-1zM322 140h1v1h-1zM323 140h1v1h-1zM324 140h1v1h-1zM325 140h1v1h-1zM326 140h1v1h-1zM327 140h1v1h-1zM328 140h1v1h-1zM329 140h1v1h-1zM330 140h1v1h-1zM331 140h1v1h-1zM332 139h1v1h-1zM333 139h1v1h-1zM334 139h1v1h-1zM335 139h1v1h-1zM336 138h1v1h-1zM337 138h1v1h-1zM338 138h1v1h-1zM339 138h1v1h-1zM340 137h1v1h-1zM341 137h1v1h-1zM342 137h1v1h-1zM343 137h1v1h-1zM344 136h1v1h-1zM345 136h1v1h-1zM346 136h1v1h-1zM347 136h1v1h-1zM348 136h1v1h-1zM349 136h1v1h-1zM350 136h1v1h-1zM351 136h1v1h-1zM352 135h1v1h-1zM353 135h1v1h-1zM354 135h1v1h-1zM355 135h1v1h-1zM356 136h1v1h-1zM357 136h1v1h-1zM358 136h1v1h-1zM359 136h1v1h-1zM360 137h1v1h-1zM361 137h1v1h-1zM362 137h1v1h-1zM363 137h1v1h-1zM364 138h1v1h-1zM365 138h1v1h-1zM366 138h1v1h-1zM367 138h1v1h-1zM368 138h1v1h-1zM369 138h1v1h-1zM370 138h1v1h-1zM371 138h1v1h-1zM372 138h1v1h-1zM373 138h1v1h-1zM374 138h1v1h-1zM375 137h1v1h-1zM376 137h1v1h-1zM377 136h1v1h-1zM378 136h1v1h-1zM379 136h1v1h-1zM380 135h1v1h-1zM381 135h1v1h-1zM382 135h1v1h-1zM383 135h1v1h-1zM384 135h1v1h-1zM385 135h1v1h-1zM386 135h1v1h-1zM387 135h1v1h-1zM388 134h1v1h-1zM389 134h1v1h-1zM390 134h1v1h-1zM391 134h1v1h-1zM392 133h1v1h-1zM393 133h1v1h-1zM394 133h1v1h-1zM395 133h1v1h-1zM396 133h1v1h-1zM397 133h1v1h-1zM398 133h1v1h-1zM399 133h1v1h-1zM400 133h1v1h-1zM401 133h1v1h-1zM402 133h1v1h-1zM403 133h1v1h-1zM404 132h1v1h-1zM405 132h1v1h-1zM406 132h1v1h-1zM407 132h1v1h-1zM408 132h1v1h-1zM409 132h1v1h-1zM410 132h1v1h-1zM411 132h1v1h-1zM412 131h1v1h-1zM413 131h1v1h-1zM414 131h1v1h-1zM415 131h1v1h-1zM416 131h1v1h-1zM417 131h1v1h-1zM418 131h1v1h-1zM419 131h1v1h-1zM420 131h1v1h-1zM421 131h1v1h-1zM422 131h1v1h-1zM423 132h1v1h-1zM424 132h1v1h-1zM425 133h1v1h-1zM426 133h1v1h-1zM427 134h1v1h-1zM428 134h1v1h-1zM429 135h1v1h-1zM430 135h1v1h-1zM431 135h1v1h-1zM432 136h1v1h-1zM433 136h1v1h-1zM434 136h1v1h-1zM435 137h1v1h-1zM436 137h1v1h-1zM437 138h1v1h-1zM438 138h1v1h-1zM439 139h1v1h-1zM440 139h1v1h-1zM441 140h1v1h-1zM442 140h1v1h-1zM443 141h1v1h-1zM444 141h1v1h-1zM445 142h1v1h-1zM446 142h1v1h-1zM447 142h1v1h-1zM448 143h1v1h-1zM449 143h1v1h-1zM450 143h1v1h-1zM451 143h1v1h-1zM452 143h1v1h-1zM453 143h1v1h-1zM454 143h1v1h-1zM455 143h1v1h-1zM456 143h1v1h-1zM457 143h1v1h-1zM458 144h1v1h-1zM459 144h1v1h-1zM460 145h1v1h-1zM461 146h1v1h-1zM462 146h1v1h-1zM463 147h1v1h-1zM464 148h1v1h-1zM465 149h1v1h-1zM466 149h1v1h-1zM467 150h1v1h-1zM468 151h1v1h-1zM469 152h1v1h-1zM470 153h1v1h-1zM471 154h1v1h-1zM472 155h1v1h-1zM473 156h1v1h-1zM474 157h1v1h-1zM475 157h1v1h-1zM476 158h1v1h-1zM477 158h1v1h-1zM478 159h1v1h-1zM479 160h1v1h-1zM480 160h1v1h-1zM481 161h1v1h-1zM482 162h1v1h-1zM483 163h1v1h-1zM484 164h1v1h-1zM485 164h1v1h-1zM486 165h1v1h-1zM487 166h1v1h-1zM488 167h1v1h-1zM489 168h1v1h-1zM490 169h1v1h-1zM491 169h1v1h-1zM492 170h1v1h-1zM493 170h1v1h-1zM494 171h1v1h-1zM495 172h1v1h-1zM496 172h1v1h-1zM497 173h1v1h-1zM498 173h1v1h-1zM499 174h1v1h-1zM500 174h1v1h-1zM501 175h1v1h-1zM502 175h1v1h-1zM503 176h1v1h-1zM504 176h1v1h-1zM505 177h1v1h-1zM506 178h1v1h-1zM507 178h1v1h-1zM508 179h1v1h-1zM509 180h1v1h-1zM510 181h1v1h-1zM511 182h1v1h-1zM512 183h1v1h-1zM513 184h1v1h-1zM514 185h1v1h-1zM515 185h1v1h-1zM516 186h1v1h-1zM517 187h1v1h-1zM518 188h1v1h-1zM519 189h1v1h-1zM520 190h1v1h-1zM521 191h1v1h-1zM522 192h1v1h-1zM523 192h1v1h-1zM524 193h1v1h-1zM525 194h1v1h-1zM526 195h1v1h-1zM527 195h1v1h-1zM528 196h1v1h-1zM529 197h1v1h-1zM530 198h1v1h-1zM531 198h1v1h-1zM532 199h1v1h-1zM533 200h1v1h-1zM534 201h1v1h-1zM535 201h1v1h-1zM536 202h1v1h-1zM537 203h1v1h-1zM538 204h1v1h-1zM539 205h1v1h-1zM540 206h1v1h-1zM541 207h1v1h-1zM542 207h1v1h-1zM543 208h1v1h-1zM544 208h1v1h-1zM545 209h1v1h-1zM546 209h1v1h-1zM547 210h1v1h-1zM548 210h1v1h-1zM549 210h1v1h-1zM550 211h1v1h-1zM551 212h1v1h-1zM552 213h1v1h-1zM553 214h1v1h-1zM554 214h1v1h-1zM555 215h1v1h-1zM556 215h1v1h-1zM557 216h1v1h-1zM558 217h1v1h-1zM559 218h1v1h-1zM560 219h1v1h-1zM561 220h1v1h-1zM562 221h1v1h-1zM563 221h1v1h-1zM564 222h1v1h-1zM565 223h1v1h-1zM566 224h1v1h-1zM567 224h1v1h-1zM568 225h1v1h-1zM569 226h1v1h-1zM570 227h1v1h-1zM571 227h1v1h-1zM572 228h1v1h-1zM573 229h1v1h-1zM574 229h1v1h-1zM575 230h1v1h-1zM576 230h1v1h-1zM577 231h1v1h-1zM578 231h1v1h-1zM579 232h1v1h-1zM580 232h1v1h-1zM581 233h1v1h-1zM582 233h1v1h-1zM583 233h1v1h-1zM584 234h1v1h-1zM585 234h1v1h-1zM586 234h1v1h-1zM587 234h1v1h-1zM588 235h1v1h-1zM589 235h1v1h-1zM590 235h1v1h-1zM591 235h1v1h-1zM592 234h1v1h-1zM593 234h1v1h-1zM594 234h1v1h-1zM595 235h1v1h-1zM596 235h1v1h-1zM597 236h1v1h-1zM598 236h1v1h-1zM599 237h1v1h-1zM600 237h1v1h-1zM601 238h1v1h-1zM602 238h1v1h-1zM603 238h1v1h-1zM604 239h1v1h-1zM605 239h1v1h-1zM606 240h1v1h-1zM607 240h1v1h-1zM608 241h1v1h-1zM609 242h1v1h-1zM610 243h1v1h-1zM611 243h1v1h-1zM612 244h1v1h-1zM613 245h1v1h-1zM614 246h1v1h-1zM615 246h1v1h-1zM616 247h1v1h-1zM617 248h1v1h-1zM618 249h1v1h-1zM619 250h1v2h-1zM620 252h1v1h-1zM621 253h1v1h-1zM622 254h1v1h-1zM623 255h1v2h-1zM624 257h1v1h-1zM625 258h1v1h-1zM626 258h1v1h-1zM627 259h1v1h-1zM628 259h1v1h-1zM629 260h1v1h-1zM630 261h1v1h-1zM631 262h1v1h-1zM632 263h1v1h-1zM633 264h1v1h-1zM634 265h1v1h-1zM635 266h1v1h-1zM636 267h1v1h-1zM637 268h1v1h-1zM638 269h1v2h-1zM639 271h1v1h-1zM640 272h1v2h-1zM641 274h1v1h-1zM642 275h1v1h-1zM643 276h1v2h-1zM644 278h1v1h-1zM645 279h1v1h-1zM646 280h1v1h-1zM647 281h1v1h-1zM648 282h1v1h-1zM649 283h1v1h-1zM650 284h1v2h-1zM651 286h1v1h-1zM652 287h1v1h-1zM653 288h1v1h-1zM654 289h1v1h-1zM655 290h1v1h-1zM656 291h1v1h-1zM657 292h1v1h-1zM658 293h1v2h-1zM659 295h1v1h-1zM660 296h1v1h-1zM661 297h1v1h-1zM662 298h1v2h-1zM663 300h1v1h-1zM664 301h1v2h-1zM665 303h1v1h-1zM666 304h1v1h-1zM667 304h1v1h-1zM668 305h1v1h-1zM669 306h1v1h-1zM670 307h1v1h-1zM671 308h1v2h-1zM672 310h1v1h-1zM673 311h1v1h-1zM674 312h1v1h-1zM675 313h1v1h-1zM676 314h1v1h-1zM677 315h1v1h-1zM678 315h1v1h-1zM679 316h1v1h-1zM680 316h1v1h-1zM681 317h1v1h-1zM682 318h1v1h-1zM683 319h1v1h-1zM684 320h1v1h-1zM685 321h1v1h-1zM686 322h1v1h-1zM687 323h1v2h-1zM688 325h1v1h-1zM689 326h1v1h-1zM690 327h1v1h-1zM691 328h1v2h-1zM692 330h1v1h-1zM693 331h1v1h-1zM694 332h1v1h-1zM695 333h1v2h-1zM696 335h1v1h-1zM697 336h1v1h-1zM698 337h1v1h-1zM699 338h1v1h-1zM700 339h1v1h-1zM701 339h1v1h-1zM702 340h1v1h-1zM703 341h1v2h-1zM704 343h1v1h-1zM705 344h1v1h-1zM706 345h1v1h-1zM707 346h1v2h-1zM708 348h1v1h-1zM709 349h1v1h-1zM710 350h1v1h-1zM711 351h1v2h-1zM712 353h1v1h-1zM713 354h1v1h-1zM714 355h1v1h-1zM715 355h1v1h-1zM716 356h1v1h-1zM717 357h1v1h-1zM718 358h1v1h-1zM719 359h1v1h-1zM720 360h1v1h-1zM721 361h1v1h-1zM722 362h1v1h-1zM723 363h1v1h-1zM724 364h1v1h-1zM725 365h1v1h-1zM726 366h1v1h-1zM727 366h1v1h-1zM728 367h1v1h-1zM729 368h1v1h-1zM730 369h1v1h-1zM731 369h1v1h-1zM732 370h1v1h-1zM733 371h1v1h-1zM734 372h1v1h-1zM735 372h1v1h-1zM736 373h1v1h-1zM737 374h1v1h-1zM738 374h1v1h-1zM739 375h1v1h-1zM740 375h1v1h-1zM741 376h1v1h-1zM742 377h1v1h-1zM743 377h1v1h-1zM744 378h1v1h-1zM745 379h1v1h-1zM746 379h1v1h-1zM747 380h1v1h-1zM748 380h1v1h-1zM749 381h1v1h-1zM750 381h1v1h-1zM751 382h1v1h-1zM752 382h1v1h-1zM753 383h1v1h-1zM754 383h1v1h-1zM755 383h1v1h-1zM756 383h1v1h-1zM757 383h1v1h-1zM758 383h1v1h-1zM759 383h1v1h-1zM760 383h1v1h-1zM761 383h1v1h-1zM762 383h1v1h-1zM763 383h1v1h-1zM764 383h1v1h-1zM765 383h1v1h-1zM766 383h1v1h-1zM767 383h1v1h-1zM768 383h1v1h-1zM769 383h1v1h-1zM770 383h1v1h-1zM771 383h1v1h-1zM772 383h1v1h-1zM773 383h1v1h-1zM774 383h1v1h-1zM775 383h1v1h-1zM776 382h1v1h-1zM777 382h1v1h-1zM778 382h1v1h-1zM779 382h1v1h-1zM780 382h1v1h-1zM781 382h1v1h-1zM782 382h1v1h-1zM783 382h1v1h-1zM784 383h1v1h-1zM785 383h1v1h-1zM786 383h1v1h-1zM787 383h1v1h-1zM788 383h1v1h-1zM789 383h1v1h-1zM790 383h1v1h-1zM791 383h1v1h-1zM792 384h1v1h-1zM793 384h1v1h-1zM794 384h1v1h-1zM795 384h1v1h-1zM796 385h1v1h-1zM797 385h1v1h-1zM798 385h1v1h-1zM799 385h1v1h-1zM800 386h1v1h-1zM801 386h1v1h-1zM802 386h1v1h-1zM803 386h1v1h-1zM804 386h1v1h-1zM805 386h1v1h-1zM806 386h1v1h-1zM807 386h1v1h-1zM808 386h1v1h-1zM809 386h1v1h-1zM810 386h1v1h-1zM811 386h1v1h-1zM812 386h1v1h-1zM813 386h1v1h-1zM814 386h1v1h-1zM815 386h1v1h-1zM816 385h1v1h-1zM817 385h1v1h-1zM818 385h1v1h-1zM819 385h1v1h-1zM820 384h1v1h-1zM821 384h1v1h-1zM822 383h1v1h-1zM823 383h1v1h-1zM824 382h1v1h-1zM825 381h1v1h-1zM826 381h1v1h-1zM827 380h1v1h-1zM828 380h1v1h-1zM829 379h1v1h-1zM830 379h1v1h-1zM831 378h1v1h-1zM832 378h1v1h-1zM833 377h1v1h-1zM834 376h1v1h-1zM835 376h1v1h-1zM836 375h1v1h-1zM837 374h1v1h-1zM838 374h1v1h-1zM839 373h1v1h-1zM840 373h1v1h-1zM841 372h1v1h-1zM842 372h1v1h-1zM843 372h1v1h-1zM844 371h1v1h-1zM845 371h1v1h-1zM846 371h1v1h-1zM847 370h1v1h-1zM848 370h1v1h-1zM849 369h1v1h-1zM850 369h1v1h-1zM851 368h1v1h-1zM852 368h1v1h-1zM853 367h1v1h-1zM854 367h1v1h-1zM855 367h1v1h-1zM856 366h1v1h-1zM857 366h1v1h-1zM858 366h1v1h-1zM859 365h1v1h-1zM860 365h1v1h-1zM861 364h1v1h-1zM862 364h1v1h-1zM863 363h1v1h-1zM864 363h1v1h-1zM865 362h1v1h-1zM866 362h1v1h-1zM867 361h1v1h-1zM868 361h1v1h-1zM869 360h1v1h-1zM870 360h1v1h-1zM871 360h1v1h-1zM872 359h1v1h-1zM873 359h1v1h-1zM874 359h1v1h-1zM875 359h1v1h-1zM876 358h1v1h-1zM877 358h1v1h-1zM878 358h1v1h-1zM879 358h1v1h-1zM880 358h1v1h-1zM881 358h1v1h-1zM882 358h1v1h-1zM883 358h1v1h-1zM884 358h1v1h-1zM885 358h1v1h-1zM886 358h1v1h-1zM887 358h1v1h-1zM888 359h1v1h-1zM889 359h1v1h-1zM890 359h1v1h-1zM891 359h1v1h-1zM892 360h1v1h-1zM893 360h1v1h-1zM894 360h1v1h-1zM895 360h1v1h-1zM896 360h1v1h-1zM897 360h1v1h-1zM898 360h1v1h-1zM899 360h1v1h-1zM900 359h1v1h-1zM901 359h1v1h-1zM902 359h1v1h-1zM903 359h1v1h-1zM904 359h1v1h-1zM905 359h1v1h-1zM906 359h1v1h-1zM907 358h1v1h-1zM908 358h1v1h-1zM909 357h1v1h-1zM910 357h1v1h-1zM911 357h1v1h-1zM912 357h1v1h-1zM913 357h1v1h-1zM914 357h1v1h-1zM915 357h1v1h-1zM916 357h1v1h-1zM917 357h1v1h-1zM918 357h1v1h-1zM919 357h1v1h-1zM920 357h1v1h-1zM921 357h1v1h-1zM922 357h1v1h-1zM923 357h1v1h-1zM924 358h1v1h-1zM925 358h1v1h-1zM926 358h1v1h-1zM927 358h1v1h-1zM928 358h1v1h-1zM929 358h1v1h-1zM930 358h1v1h-1zM931 358h1v1h-1zM932 359h1v1h-1zM933 359h1v1h-1zM934 359h1v1h-1zM935 359h1v1h-1zM936 359h1v1h-1zM937 359h1v1h-1zM938 360h1v1h-1zM939 360h1v1h-1zM940 361h1v1h-1zM941 362h1v1h-1zM942 362h1v1h-1zM943 362h1v1h-1zM944 363h1v1h-1zM945 363h1v1h-1zM946 363h1v1h-1zM947 363h1v1h-1zM948 364h1v1h-1zM949 364h1v1h-1zM950 364h1v1h-1zM951 365h1v1h-1zM952 365h1v1h-1zM953 366h1v1h-1zM954 366h1v1h-1zM955 366h1v1h-1zM956 367h1v1h-1zM957 367h1v1h-1zM958 367h1v1h-1zM959 368h1v1h-1zM960 368h1v1h-1zM961 369h1v1h-1zM962 369h1v1h-1zM963 369h1v1h-1zM964 370h1v1h-1zM965 370h1v1h-1zM966 370h1v1h-1zM967 370h1v1h-1zM968 371h1v1h-1zM969 371h1v1h-1zM970 371h1v1h-1zM971 371h1v1h-1zM972 372h1v1h-1zM973 372h1v1h-1zM974 372h1v1h-1zM975 373h1v1h-1zM976 373h1v1h-1zM977 374h1v1h-1zM978 375h1v1h-1zM979 375h1v1h-1zM980 376h1v1h-1zM981 377h1v1h-1zM982 378h1v1h-1zM983 378h1v1h-1zM984 379h1v1h-1zM985 380h1v1h-1zM986 380h1v1h-1zM987 380h1v1h-1zM988 380h1v1h-1zM989 380h1v1h-1zM990 380h1v1h-1zM991 380h1v1h-1zM992 380h1v1h-1zM993 380h1v1h-1zM994 380h1v1h-1zM995 380h1v1h-1zM996 380h1v1h-1zM997 380h1v1h-1zM998 380h1v1h-1zM999 380h1v1h-1zM1000 381h1v1h-1zM1001 381h1v1h-1zM1002 381h1v1h-1zM1003 381h1v1h-1zM1004 380h1v1h-1zM1005 380h1v1h-1zM1006 380h1v1h-1zM1007 380h1v1h-1zM1008 380h1v1h-1zM1009 380h1v1h-1zM1010 380h1v1h-1zM1011 380h1v1h-1zM1012 379h1v1h-1zM1013 379h1v1h-1zM1014 379h1v1h-1zM1015 379h1v1h-1zM1016 380h1v1h-1zM1017 380h1v1h-1zM1018 380h1v1h-1zM1019 380h1v1h-1zM1020 381h1v1h-1zM1021 381h1v1h-1zM1022 381h1v1h-1zM1023 381h1v1h-1zM1024 381h1v1h-1zM1025 381h1v1h-1zM1026 381h1v1h-1zM1027 381h1v1h-1zM1028 381h1v1h-1zM1029 381h1v1h-1zM1030 381h1v1h-1zM1031 381h1v1h-1zM1032 382h1v1h-1zM1033 382h1v1h-1zM1034 382h1v1h-1zM1035 382h1v1h-1zM1036 381h1v1h-1zM1037 381h1v1h-1zM1038 381h1v1h-1zM1039 381h1v1h-1zM1040 381h1v1h-1zM1041 381h1v1h-1zM1042 381h1v1h-1zM1043 381h1v1h-1zM1044 380h1v1h-1zM1045 380h1v1h-1zM1046 380h1v1h-1zM1047 380h1v1h-1zM1048 380h1v1h-1zM1049 380h1v1h-1zM1050 380h1v1h-1zM1051 380h1v1h-1zM1052 380h1v1h-1zM1053 380h1v1h-1zM1054 380h1v1h-1zM1055 380h1v1h-1zM1056 380h1v1h-1zM1057 380h1v1h-1zM1058 380h1v1h-1zM1059 380h1v1h-1zM1060 380h1v1h-1zM1061 380h1v1h-1zM1062 380h1v1h-1zM1063 380h1v1h-1zM1064 381h1v1h-1zM1065 381h1v1h-1zM1066 381h1v1h-1zM1067 382h1v1h-1zM1068 382h1v1h-1zM1069 383h1v1h-1zM1070 384h1v1h-1zM1071 384h1v1h-1zM1072 385h1v1h-1zM1073 386h1v1h-1zM1074 387h1v1h-1zM1075 388h1v1h-1zM1076 389h1v1h-1zM1077 390h1v1h-1zM1078 391h1v1h-1zM1079 392h1v1h-1zM1080 393h1v1h-1zM1081 394h1v1h-1zM1082 395h1v1h-1zM1083 396h1v1h-1zM1084 397h1v1h-1zM1085 398h1v1h-1zM1086 399h1v1h-1zM1087 400h1v1h-1zM1088 401h1v1h-1zM1089 401h1v1h-1zM1090 402h1v1h-1zM1091 403h1v1h-1zM1092 403h1v1h-1zM1093 404h1v1h-1zM1094 405h1v1h-1zM1095 405h1v1h-1zM1096 406h1v1h-1zM1097 407h1v1h-1zM1098 407h1v1h-1zM1099 407h1v1h-1zM1100 408h1v1h-1zM1101 408h1v1h-1zM1102 408h1v1h-1zM1103 408h1v1h-1zM1104 409h1v1h-1zM1105 409h1v1h-1zM1106 410h1v1h-1zM1107 411h1v1h-1zM1108 412h1v1h-1zM1109 413h1v1h-1zM1110 414h1v1h-1zM1111 415h1v1h-1zM1112 416h1v1h-1zM1113 417h1v1h-1zM1114 418h1v1h-1zM1115 419h1v1h-1zM1116 420h1v1h-1zM1117 421h1v1h-1zM1118 422h1v1h-1zM1119 423h1v2h-1zM1120 425h1v1h-1zM1121 426h1v1h-1zM1122 427h1v1h-1zM1123 427h1v1h-1zM1124 428h1v1h-1zM1125 429h1v1h-1zM1126 430h1v1h-1zM1127 431h1v2h-1zM1128 433h1v1h-1zM1129 434h1v1h-1zM1130 434h1v1h-1zM1131 435h1v1h-1zM1132 435h1v1h-1zM1133 436h1v1h-1zM1134 437h1v1h-1zM1135 437h1v1h-1zM1136 438h1v1h-1zM1137 439h1v1h-1zM1138 440h1v1h-1zM1139 440h1v1h-1zM1140 441h1v1h-1zM1141 442h1v1h-1zM1142 443h1v1h-1zM1143 443h1v1h-1zM1144 444h1v1h-1zM1145 445h1v1h-1zM1146 446h1v1h-1zM1147 447h1v1h-1zM1148 448h1v1h-1zM1149 449h1v1h-1zM1150 449h1v1h-1zM1151 450h1v1h-1zM1152 450h1v1h-1zM1153 451h1v1h-1zM1154 452h1v1h-1zM1155 453h1v1h-1zM1156 454h1v1h-1zM1157 455h1v1h-1zM1158 456h1v1h-1zM1159 457h1v2h-1zM1160 459h1v1h-1zM1161 460h1v1h-1zM1162 461h1v1h-1zM1163 461h1v1h-1zM1164 462h1v1h-1zM1165 463h1v1h-1zM1166 464h1v1h-1zM1167 465h1v1h-1zM1168 466h1v1h-1zM1169 467h1v1h-1zM1170 468h1v1h-1zM1171 468h1v1h-1zM1172 469h1v1h-1zM1173 470h1v1h-1zM1174 471h1v1h-1zM1175 471h1v1h-1zM1176 472h1v1h-1zM1177 473h1v1h-1zM1178 474h1v1h-1zM1179 474h1v1h-1zM1180 475h1v1h-1zM1181 476h1v1h-1zM1182 476h1v1h-1zM1183 477h1v1h-1zM1184 477h1v1h-1zM1185 478h1v1h-1zM1186 478h1v1h-1zM1187 479h1v1h-1zM1188 479h1v1h-1zM1189 480h1v1h-1zM1190 480h1v1h-1zM1191 480h1v1h-1zM1192 480h1v1h-1zM1193 480h1v1h-1zM1194 480h1v1h-1zM1195 480h1v1h-1zM1196 480h1v1h-1zM1197 480h1v1h-1zM1198 480h1v1h-1zM1199 480h1v1h-1zM1200 480h1v1h-1zM1201 480h1v1h-1zM1202 480h1v1h-1zM1203 480h1v1h-1zM1204 481h1v1h-1zM1205 481h1v1h-1zM1206 481h1v1h-1zM1207 481h1v1h-1zM1208 481h1v1h-1zM1209 481h1v1h-1zM1210 481h1v1h-1zM1211 481h1v1h-1zM1212 481h1v1h-1zM1213 481h1v1h-1zM1214 481h1v1h-1zM1215 481h1v1h-1zM1216 480h1v1h-1zM1217 480h1v1h-1zM1218 480h1v1h-1zM1219 480h1v1h-1zM1220 480h1v1h-1zM1221 480h1v1h-1zM1222 480h1v1h-1zM1223 480h1v1h-1zM1224 480h1v1h-1zM1225 480h1v1h-1zM1226 480h1v1h-1zM1227 480h1v1h-1zM1228 480h1v1h-1zM1229 480h1v1h-1zM1230 480h1v1h-1zM1231 480h1v1h-1zM1232 480h1v1h-1zM1233 480h1v1h-1zM1234 480h1v1h-1zM1235 480h1v1h-1zM1236 480h1v1h-1zM1237 480h1v1h-1zM1238 480h1v1h-1zM1239 480h1v1h-1zM1240 480h1v1h-1zM1241 480h1v1h-1zM1242 480h1v1h-1zM1243 480h1v1h-1zM1244 479h1v1h-1zM1245 479h1v1h-1zM1246 479h1v1h-1zM1247 479h1v1h-1zM1248 479h1v1h-1zM1249 479h1v1h-1zM1250 479h1v1h-1zM1251 479h1v1h-1zM1252 479h1v1h-1zM1253 479h1v1h-1zM1254 479h1v1h-1zM1255 479h1v1h-1zM1256 479h1v1h-1zM1257 479h1v1h-1zM1258 479h1v1h-1zM1259 479h1v1h-1zM1260 479h1v1h-1zM1261 479h1v1h-1zM1262 479h1v1h-1zM1263 479h1v1h-1zM1264 479h1v1h-1zM1265 479h1v1h-1zM1266 479h1v1h-1zM1267 479h1v1h-1zM1268 479h1v1h-1z"/>
<g shape-rendering="crispEdges">
<rect x="5" y="184" width="1592" height="2" fill="#ff0000"/>
<rect x="4" y="182" width="6" height="6" fill="#ff0000"/><rect x="6" y="184" width="2" height="2" fill="#fff"/>
<rect x="1591" y="182" width="6" height="6" fill="#ff0000"/><rect x="1593" y="184" width="2" height="2" fill="#fff"/>
<rect x="5" y="299" width="1592" height="2" fill="#ff0000"/>
<rect x="5" y="353" width="1592" height="2" fill="#ff0000"/>
<rect x="5" y="421" width="1592" height="2" fill="#00ff00"/>
<rect x="4" y="419" width="6" height="6" fill="#00ff00"/><rect x="6" y="421" width="2" height="2" fill="#fff"/>
<rect x="1591" y="419" width="6" height="6" fill="#00ff00"/><rect x="1593" y="421" width="2" height="2" fill="#fff"/>
<rect x="5" y="506" width="1592" height="2" fill="#0000ff"/>
<rect x="4" y="504" width="6" height="6" fill="#0000ff"/><rect x="6" y="506" width="2" height="2" fill="#fff"/>
<rect x="1591" y="504" width="6" height="6" fill="#0000ff"/><rect x="1593" y="506" width="2" height="2" fill="#fff"/>
</g>
<path shape-rendering="crispEdges" fill="#c0c0c0" d="M5 667h1v10h-1z M9 667h1v8h-1z M13 667h1v6h-1z M17 667h1v7h-1z M21 667h1v9h-1z M25 667h1v10h-1z M29 667h1v10h-1z M33 667h1v9h-1z M37 667h1v7h-1z M41 667h1v5h-1z M45 667h1v2h-1z M49 667h1v1h-1z M53 664h1v4h-1z M57 662h1v6h-1z M61 662h1v6h-1z M65 660h1v8h-1z M69 658h1v10h-1z M73 656h1v12h-1z M77 655h1v13h-1z M81 654h1v14h-1z M85 653h1v15h-1z M89 652h1v16h-1z M93 654h1v14h-1z M97 655h1v13h-1z M101 657h1v11h-1z M105 659h1v9h-1z M109 660h1v8h-1z M113 664h1v4h-1z M117 667h1v2h-1z M121 667h1v5h-1z M125 667h1v10h-1z M129 667h1v17h-1z M133 667h1v21h-1z M137 667h1v26h-1z M141 667h1v36h-1z M145 667h1v43h-1z M149 667h1v52h-1z M153 667h1v57h-1z M157 667h1v57h-1z M161 667h1v51h-1z M165 667h1v43h-1z M169 667h1v38h-1z M173 667h1v37h-1z M177 667h1v28h-1z M181 667h1v17h-1z M185 667h1v5h-1z M189 660h1v8h-1z M193 650h1v18h-1z M197 645h1v23h-1z M201 642h1v26h-1z M205 642h1v26h-1z M209 647h1v21h-1z M213 655h1v13h-1z M217 663h1v5h-1z M221 666h1v2h-1z M225 667h1v1h-1z M229 666h1v2h-1z M233 663h1v5h-1z M237 658h1v10h-1z M241 656h1v12h-1z M245 654h1v14h-1z M249 655h1v13h-1z M253 656h1v12h-1z M257 659h1v9h-1z M261 662h1v6h-1z M265 664h1v4h-1z M269 666h1v2h-1z M273 667h1v2h-1z M277 667h1v1h-1z M281 667h1v2h-1z M285 667h1v2h-1z M289 667h1v2h-1z M293 667h1v2h-1z M297 667h1v2h-1z M301 666h1v2h-1z M305 664h1v4h-1z M309 662h1v6h-1z M313 660h1v8h-1z M317 658h1v10h-1z M321 658h1v10h-1z M325 657h1v11h-1z M329 659h1v9h-1z M333 667h1v2h-1z M337 667h1v2h-1z M341 667h1v4h-1z M345 667h1v2h-1z M349 667h1v2h-1z M353 665h1v3h-1z M357 665h1v3h-1z M361 665h1v3h-1z M365 665h1v3h-1z M369 665h1v3h-1z M373 667h1v2h-1z M377 665h1v3h-1z M381 665h1v3h-1z M385 665h1v3h-1z M389 665h1v3h-1z M393 667h1v2h-1z M397 667h1v1h-1z M401 667h1v2h-1z M405 667h1v1h-1z M409 667h1v2h-1z M413 667h1v2h-1z M417 667h1v1h-1z M421 667h1v1h-1z M425 667h1v3h-1z M429 667h1v6h-1z M433 667h1v9h-1z M437 667h1v10h-1z M441 667h1v11h-1z M445 667h1v12h-1z M449 667h1v15h-1z M453 667h1v15h-1z M457 667h1v14h-1z M461 667h1v16h-1z M465 667h1v20h-1z M469 667h1v25h-1z M473 667h1v32h-1z M477 667h1v31h-1z M481 667h1v29h-1z M485 667h1v28h-1z M489 667h1v28h-1z M493 667h1v27h-1z M497 667h1v25h-1z M501 667h1v24h-1z M505 667h1v23h-1z M509 667h1v23h-1z M513 667h1v25h-1z M517 667h1v24h-1z M521 667h1v23h-1z M525 667h1v22h-1z M529 667h1v21h-1z M533 667h1v19h-1z M537 667h1v19h-1z M541 667h1v19h-1z M545 667h1v19h-1z M549 667h1v19h-1z M553 667h1v20h-1z M557 667h1v21h-1z M561 667h1v22h-1z M565 667h1v22h-1z M569 667h1v22h-1z M573 667h1v23h-1z M577 667h1v22h-1z M581 667h1v21h-1z M585 667h1v20h-1z M589 667h1v18h-1z M593 667h1v17h-1z M597 667h1v17h-1z M601 667h1v18h-1z M605 667h1v18h-1z M609 667h1v19h-1z M613 667h1v22h-1z M617 667h1v26h-1z M621 667h1v30h-1z M625 667h1v33h-1z M629 667h1v36h-1z M633 667h1v39h-1z M637 667h1v42h-1z M641 667h1v45h-1z M645 667h1v47h-1z M649 667h1v47h-1z M653 667h1v44h-1z M657 667h1v42h-1z M661 667h1v45h-1z M665 667h1v44h-1z M669 667h1v42h-1z M673 667h1v40h-1z M677 667h1v37h-1z M681 667h1v35h-1z M685 667h1v34h-1z M689 667h1v34h-1z M693 667h1v33h-1z M697 667h1v33h-1z M701 667h1v33h-1z M705 667h1v34h-1z M709 667h1v31h-1z M713 667h1v30h-1z M717 667h1v27h-1z M721 667h1v25h-1z M725 667h1v23h-1z M729 667h1v22h-1z M733 667h1v21h-1z M737 667h1v20h-1z M741 667h1v24h-1z M745 667h1v23h-1z M749 667h1v23h-1z M753 667h1v22h-1z M757 667h1v18h-1z M761 667h1v15h-1z M765 667h1v12h-1z M769 667h1v9h-1z M773 667h1v7h-1z M777 667h1v3h-1z M781 667h1v2h-1z M785 667h1v5h-1z M789 667h1v5h-1z M793 667h1v6h-1z M797 667h1v7h-1z M801 667h1v7h-1z M805 667h1v7h-1z M809 667h1v7h-1z M813 667h1v6h-1z M817 667h1v6h-1z M821 667h1v3h-1z M825 666h1v2h-1z M829 661h1v7h-1z M833 656h1v12h-1z M837 652h1v16h-1z M841 648h1v20h-1z M845 648h1v20h-1z M849 649h1v19h-1z M853 651h1v17h-1z M857 654h1v14h-1z M861 655h1v13h-1z M865 656h1v12h-1z M869 658h1v10h-1z M873 660h1v8h-1z M877 661h1v7h-1z M881 662h1v6h-1z M885 666h1v2h-1z M889 667h1v2h-1z M893 667h1v5h-1z M897 667h1v5h-1z M901 667h1v4h-1z M905 667h1v4h-1z M909 667h1v3h-1z M913 667h1v3h-1z M917 667h1v5h-1z M921 667h1v9h-1z M925 667h1v11h-1z M929 667h1v13h-1z M933 667h1v14h-1z M937 667h1v15h-1z M941 667h1v15h-1z M945 667h1v15h-1z M949 667h1v13h-1z M953 667h1v9h-1z M957 667h1v6h-1z M961 667h1v2h-1z M965 667h1v2h-1z M969 667h1v1h-1z M973 667h1v1h-1z M977 667h1v2h-1z M981 667h1v5h-1z M985 667h1v12h-1z M989 667h1v10h-1z M993 667h1v8h-1z M997 667h1v4h-1z M1001 667h1v2h-1z M1005 667h1v1h-1z M1009 667h1v1h-1z M1013 667h1v1h-1z M1017 667h1v1h-1z M1021 667h1v1h-1z M1025 667h1v1h-1z M1029 667h1v1h-1z M1033 667h1v1h-1z M1037 667h1v1h-1z M1041 667h1v1h-1z M1045 667h1v1h-1z M1049 667h1v2h-1z M1053 667h1v6h-1z M1057 667h1v7h-1z M1061 667h1v9h-1z M1065 667h1v11h-1z M1069 667h1v15h-1z M1073 667h1v20h-1z M1077 667h1v24h-1z M1081 667h1v27h-1z M1085 667h1v30h-1z M1089 667h1v31h-1z M1093 667h1v32h-1z M1097 667h1v33h-1z M1101 667h1v32h-1z M1105 667h1v31h-1z M1109 667h1v31h-1z M1113 667h1v31h-1z M1117 667h1v31h-1z M1121 667h1v31h-1z M1125 667h1v31h-1z M1129 667h1v31h-1z M1133 667h1v30h-1z M1137 667h1v27h-1z M1141 667h1v25h-1z M1145 667h1v22h-1z M1149 667h1v19h-1z M1153 667h1v18h-1z M1157 667h1v18h-1z M1161 667h1v19h-1z M1165 667h1v20h-1z M1169 667h1v21h-1z M1173 667h1v21h-1z M1177 667h1v22h-1z M1181 667h1v22h-1z M1185 667h1v20h-1z M1189 667h1v19h-1z M1193 667h1v17h-1z M1197 667h1v13h-1z M1201 667h1v10h-1z M1205 667h1v9h-1z M1209 667h1v7h-1z M1213 667h1v5h-1z M1217 667h1v3h-1z M1221 667h1v2h-1z M1225 667h1v2h-1z M1229 667h1v1h-1z M1233 667h1v3h-1z M1237 667h1v3h-1z M1241 667h1v3h-1z M1245 667h1v3h-1z M1249 667h1v3h-1z M1253 667h1v2h-1z M1257 667h1v2h-1z M1261 667h1v2h-1z M1265 667h1v2h-1z M1269 666h1v2h-1z"/>
<path shape-rendering="crispEdges" fill="#ff0000" d="M5 682h1v1h-1zM6 682h1v1h-1zM7 681h1v1h-1zM11 679h1v1h-1zM12 679h1v1h-1zM13 679h1v1h-1zM17 678h1v1h-1zM18 678h1v1h-1zM19 677h1v1h-1zM23 676h1v1h-1zM24 676h1v1h-1zM25 676h1v1h-1zM29 675h1v1h-1zM30 675h1v1h-1zM31 675h1v1h-1zM35 675h1v1h-1zM36 674h1v1h-1zM37 674h1v1h-1zM41 674h1v1h-1zM42 674h1v1h-1zM43 674h1v1h-1zM47 673h1v1h-1zM48 673h1v1h-1zM49 673h1v1h-1zM53 672h1v1h-1zM54 672h1v1h-1zM55 671h1v1h-1zM59 670h1v1h-1zM60 669h1v1h-1zM61 669h1v1h-1zM65 667h1v1h-1zM66 666h1v1h-1zM67 665h1v1h-1zM71 663h1v1h-1zM72 662h1v1h-1zM73 662h1v1h-1zM77 660h1v1h-1zM78 660h1v1h-1zM79 659h1v1h-1zM83 658h1v1h-1zM84 657h1v1h-1zM85 657h1v1h-1zM89 655h1v1h-1zM90 655h1v1h-1zM91 655h1v1h-1zM95 654h1v1h-1zM96 654h1v1h-1zM97 654h1v1h-1zM101 654h1v1h-1zM102 654h1v1h-1zM103 654h1v1h-1zM107 654h1v1h-1zM108 654h1v1h-1zM109 654h1v1h-1zM113 655h1v1h-1zM114 655h1v1h-1zM115 655h1v1h-1zM119 657h1v1h-1zM120 658h1v1h-1zM121 659h1v1h-1zM125 662h1v1h-1zM126 663h1v1h-1zM127 664h1v1h-1zM131 667h1v1h-1zM132 668h1v1h-1zM133 669h1v1h-1zM136 673h1v1h-1zM137 674h1v1h-1zM138 675h1v1h-1zM141 679h1v2h-1zM142 681h1v1h-1zM145 685h1v2h-1zM146 687h1v1h-1zM149 691h1v2h-1zM150 693h1v1h-1zM153 697h1v1h-1zM154 698h1v1h-1zM155 699h1v1h-1zM159 703h1v1h-1zM160 704h1v2h-1zM164 708h1v1h-1zM165 709h1v1h-1zM166 709h1v1h-1zM170 711h1v1h-1zM171 711h1v1h-1zM172 712h1v1h-1zM176 712h1v1h-1zM177 711h1v1h-1zM178 711h1v1h-1zM182 708h1v1h-1zM183 707h1v1h-1zM184 706h1v1h-1zM186 702h1v1h-1zM187 700h1v2h-1zM189 696h1v1h-1zM190 694h1v2h-1zM192 690h1v1h-1zM193 688h1v2h-1zM195 684h1v1h-1zM196 682h1v2h-1zM198 678h1v1h-1zM199 676h1v2h-1zM201 672h1v1h-1zM202 671h1v1h-1zM203 670h1v1h-1zM205 666h1v1h-1zM206 664h1v2h-1zM209 660h1v1h-1zM210 658h1v2h-1zM214 654h1v1h-1zM215 653h1v1h-1zM216 652h1v1h-1zM220 651h1v1h-1zM221 651h1v1h-1zM222 651h1v1h-1zM226 652h1v1h-1zM227 653h1v1h-1zM228 653h1v1h-1zM232 655h1v1h-1zM233 656h1v1h-1zM234 656h1v1h-1zM238 658h1v1h-1zM239 659h1v1h-1zM240 659h1v1h-1zM244 660h1v1h-1zM245 660h1v1h-1zM246 660h1v1h-1zM250 660h1v1h-1zM251 660h1v1h-1zM252 660h1v1h-1zM256 659h1v1h-1zM257 659h1v1h-1zM258 659h1v1h-1zM262 658h1v1h-1zM263 658h1v1h-1zM264 658h1v1h-1zM268 658h1v1h-1zM269 658h1v1h-1zM270 658h1v1h-1zM274 659h1v1h-1zM275 660h1v1h-1zM276 660h1v1h-1zM280 662h1v1h-1zM281 663h1v1h-1zM282 663h1v1h-1zM286 664h1v1h-1zM287 665h1v1h-1zM288 665h1v1h-1zM292 666h1v1h-1zM293 666h1v1h-1zM294 666h1v1h-1zM298 667h1v1h-1zM299 667h1v1h-1zM300 667h1v1h-1zM304 667h1v1h-1zM305 667h1v1h-1zM306 666h1v1h-1zM310 665h1v1h-1zM311 665h1v1h-1zM312 665h1v1h-1zM316 664h1v1h-1zM317 664h1v1h-1zM318 663h1v1h-1zM322 662h1v1h-1zM323 662h1v1h-1zM324 661h1v1h-1zM328 660h1v1h-1zM329 660h1v1h-1zM330 660h1v1h-1zM334 660h1v1h-1zM335 660h1v1h-1zM336 660h1v1h-1zM340 661h1v1h-1zM341 661h1v1h-1zM342 661h1v1h-1zM346 662h1v1h-1zM347 662h1v1h-1zM348 662h1v1h-1zM352 664h1v1h-1zM353 664h1v1h-1zM354 664h1v1h-1zM358 665h1v1h-1zM359 665h1v1h-1zM360 665h1v1h-1zM364 665h1v1h-1zM365 665h1v1h-1zM366 665h1v1h-1zM370 665h1v1h-1zM371 665h1v1h-1zM372 665h1v1h-1zM376 664h1v1h-1zM377 664h1v1h-1zM378 664h1v1h-1zM382 664h1v1h-1zM383 664h1v1h-1zM384 664h1v1h-1zM388 664h1v1h-1zM389 664h1v1h-1zM390 664h1v1h-1zM394 664h1v1h-1zM395 664h1v1h-1zM396 664h1v1h-1zM400 664h1v1h-1zM401 664h1v1h-1zM402 664h1v1h-1zM406 664h1v1h-1zM407 664h1v1h-1zM408 664h1v1h-1zM412 664h1v1h-1zM413 664h1v1h-1zM414 664h1v1h-1zM418 665h1v1h-1zM419 665h1v1h-1zM420 665h1v1h-1zM424 666h1v1h-1zM425 666h1v1h-1zM426 666h1v1h-1zM430 667h1v1h-1zM431 667h1v1h-1zM432 668h1v1h-1zM436 669h1v1h-1zM437 669h1v1h-1zM438 670h1v1h-1zM442 671h1v1h-1zM443 671h1v1h-1zM444 672h1v1h-1zM448 673h1v1h-1zM449 673h1v1h-1zM450 674h1v1h-1zM454 676h1v1h-1zM455 676h1v1h-1zM456 677h1v1h-1zM460 678h1v1h-1zM461 678h1v1h-1zM462 679h1v1h-1zM466 681h1v1h-1zM467 681h1v1h-1zM468 682h1v1h-1zM472 683h1v1h-1zM473 683h1v1h-1zM474 684h1v1h-1zM478 686h1v1h-1zM479 686h1v1h-1zM480 687h1v1h-1zM484 689h1v1h-1zM485 689h1v1h-1zM486 689h1v1h-1zM490 691h1v1h-1zM491 691h1v1h-1zM492 691h1v1h-1zM496 693h1v1h-1zM497 693h1v1h-1zM498 693h1v1h-1zM502 694h1v1h-1zM503 694h1v1h-1zM504 694h1v1h-1zM508 693h1v1h-1zM509 693h1v1h-1zM510 693h1v1h-1zM514 692h1v1h-1zM515 692h1v1h-1zM516 692h1v1h-1zM520 691h1v1h-1zM521 691h1v1h-1zM522 691h1v1h-1zM526 690h1v1h-1zM527 690h1v1h-1zM528 690h1v1h-1zM532 689h1v1h-1zM533 689h1v1h-1zM534 689h1v1h-1zM538 688h1v1h-1zM539 688h1v1h-1zM540 688h1v1h-1zM544 687h1v1h-1zM545 687h1v1h-1zM546 687h1v1h-1zM550 687h1v1h-1zM551 687h1v1h-1zM552 686h1v1h-1zM556 686h1v1h-1zM557 686h1v1h-1zM558 686h1v1h-1zM562 686h1v1h-1zM563 686h1v1h-1zM564 686h1v1h-1zM568 686h1v1h-1zM569 686h1v1h-1zM570 686h1v1h-1zM574 686h1v1h-1zM575 686h1v1h-1zM576 687h1v1h-1zM580 687h1v1h-1zM581 687h1v1h-1zM582 687h1v1h-1zM586 687h1v1h-1zM587 687h1v1h-1zM588 687h1v1h-1zM592 686h1v1h-1zM593 686h1v1h-1zM594 686h1v1h-1zM598 686h1v1h-1zM599 686h1v1h-1zM600 685h1v1h-1zM604 685h1v1h-1zM605 685h1v1h-1zM606 685h1v1h-1zM610 685h1v1h-1zM611 685h1v1h-1zM612 685h1v1h-1zM616 686h1v1h-1zM617 686h1v1h-1zM618 686h1v1h-1zM622 687h1v1h-1zM623 687h1v1h-1zM624 687h1v1h-1zM628 689h1v1h-1zM629 690h1v1h-1zM630 690h1v1h-1zM634 693h1v1h-1zM635 694h1v1h-1zM636 694h1v1h-1zM640 697h1v1h-1zM641 698h1v1h-1zM642 699h1v1h-1zM646 702h1v1h-1zM647 702h1v1h-1zM648 703h1v1h-1zM652 705h1v1h-1zM653 706h1v1h-1zM654 706h1v1h-1zM658 708h1v1h-1zM659 708h1v1h-1zM660 708h1v1h-1zM664 709h1v1h-1zM665 710h1v1h-1zM666 710h1v1h-1zM670 711h1v1h-1zM671 711h1v1h-1zM672 711h1v1h-1zM676 710h1v1h-1zM677 710h1v1h-1zM678 709h1v1h-1zM682 708h1v1h-1zM683 707h1v1h-1zM684 707h1v1h-1zM688 706h1v1h-1zM689 706h1v1h-1zM690 706h1v1h-1zM694 705h1v1h-1zM695 704h1v1h-1zM696 704h1v1h-1zM700 703h1v1h-1zM701 703h1v1h-1zM702 703h1v1h-1zM706 702h1v1h-1zM707 701h1v1h-1zM708 701h1v1h-1zM712 700h1v1h-1zM713 700h1v1h-1zM714 700h1v1h-1zM718 698h1v1h-1zM719 698h1v1h-1zM720 698h1v1h-1zM724 696h1v1h-1zM725 696h1v1h-1zM726 695h1v1h-1zM730 694h1v1h-1zM731 693h1v1h-1zM732 693h1v1h-1zM736 692h1v1h-1zM737 692h1v1h-1zM738 692h1v1h-1zM742 691h1v1h-1zM743 690h1v1h-1zM744 690h1v1h-1zM748 689h1v1h-1zM749 689h1v1h-1zM750 689h1v1h-1zM754 688h1v1h-1zM755 688h1v1h-1zM756 688h1v1h-1zM760 687h1v1h-1zM761 687h1v1h-1zM762 687h1v1h-1zM766 685h1v1h-1zM767 685h1v1h-1zM768 685h1v1h-1zM772 683h1v1h-1zM773 683h1v1h-1zM774 682h1v1h-1zM778 680h1v1h-1zM779 680h1v1h-1zM780 679h1v1h-1zM784 677h1v1h-1zM785 677h1v1h-1zM786 676h1v1h-1zM790 675h1v1h-1zM791 674h1v1h-1zM792 674h1v1h-1zM796 673h1v1h-1zM797 673h1v1h-1zM798 673h1v1h-1zM802 672h1v1h-1zM803 672h1v1h-1zM804 672h1v1h-1zM808 672h1v1h-1zM809 672h1v1h-1zM810 672h1v1h-1zM814 672h1v1h-1zM815 672h1v1h-1zM816 672h1v1h-1zM820 672h1v1h-1zM821 672h1v1h-1zM822 672h1v1h-1zM826 671h1v1h-1zM827 671h1v1h-1zM828 671h1v1h-1zM832 669h1v1h-1zM833 668h1v1h-1zM834 667h1v1h-1zM838 665h1v1h-1zM839 664h1v1h-1zM840 663h1v1h-1zM844 661h1v1h-1zM845 660h1v1h-1zM846 659h1v1h-1zM850 657h1v1h-1zM851 656h1v1h-1zM852 656h1v1h-1zM856 654h1v1h-1zM857 653h1v1h-1zM858 653h1v1h-1zM862 651h1v1h-1zM863 651h1v1h-1zM864 651h1v1h-1zM868 651h1v1h-1zM869 651h1v1h-1zM870 651h1v1h-1zM874 652h1v1h-1zM875 652h1v1h-1zM876 652h1v1h-1zM880 654h1v1h-1zM881 655h1v1h-1zM882 655h1v1h-1zM886 657h1v1h-1zM887 658h1v1h-1zM888 658h1v1h-1zM892 660h1v1h-1zM893 661h1v1h-1zM894 661h1v1h-1zM898 663h1v1h-1zM899 664h1v1h-1zM900 664h1v1h-1zM904 666h1v1h-1zM905 666h1v1h-1zM906 666h1v1h-1zM910 668h1v1h-1zM911 668h1v1h-1zM912 668h1v1h-1zM916 670h1v1h-1zM917 670h1v1h-1zM918 670h1v1h-1zM922 671h1v1h-1zM923 671h1v1h-1zM924 671h1v1h-1zM928 673h1v1h-1zM929 673h1v1h-1zM930 673h1v1h-1zM934 674h1v1h-1zM935 674h1v1h-1zM936 674h1v1h-1zM940 676h1v1h-1zM941 676h1v1h-1zM942 676h1v1h-1zM946 677h1v1h-1zM947 677h1v1h-1zM948 677h1v1h-1zM952 679h1v1h-1zM953 679h1v1h-1zM954 678h1v1h-1zM958 677h1v1h-1zM959 677h1v1h-1zM960 677h1v1h-1zM964 676h1v1h-1zM965 676h1v1h-1zM966 675h1v1h-1zM970 674h1v1h-1zM971 674h1v1h-1zM972 673h1v1h-1zM976 672h1v1h-1zM977 672h1v1h-1zM978 672h1v1h-1zM982 671h1v1h-1zM983 671h1v1h-1zM984 671h1v1h-1zM988 671h1v1h-1zM989 671h1v1h-1zM990 671h1v1h-1zM994 671h1v1h-1zM995 671h1v1h-1zM996 671h1v1h-1zM1000 671h1v1h-1zM1001 671h1v1h-1zM1002 671h1v1h-1zM1006 671h1v1h-1zM1007 671h1v1h-1zM1008 671h1v1h-1zM1012 671h1v1h-1zM1013 671h1v1h-1zM1014 670h1v1h-1zM1018 670h1v1h-1zM1019 669h1v1h-1zM1020 669h1v1h-1zM1024 668h1v1h-1zM1025 668h1v1h-1zM1026 668h1v1h-1zM1030 667h1v1h-1zM1031 667h1v1h-1zM1032 667h1v1h-1zM1036 667h1v1h-1zM1037 667h1v1h-1zM1038 667h1v1h-1zM1042 667h1v1h-1zM1043 667h1v1h-1zM1044 667h1v1h-1zM1048 667h1v1h-1zM1049 667h1v1h-1zM1050 667h1v1h-1zM1054 668h1v1h-1zM1055 668h1v1h-1zM1056 668h1v1h-1zM1060 669h1v1h-1zM1061 669h1v1h-1zM1062 669h1v1h-1zM1066 670h1v1h-1zM1067 671h1v1h-1zM1068 671h1v1h-1zM1072 674h1v1h-1zM1073 674h1v1h-1zM1074 675h1v1h-1zM1078 678h1v1h-1zM1079 678h1v1h-1zM1080 679h1v1h-1zM1084 682h1v1h-1zM1085 682h1v1h-1zM1086 683h1v1h-1zM1090 686h1v1h-1zM1091 686h1v1h-1zM1092 687h1v1h-1zM1096 690h1v1h-1zM1097 690h1v1h-1zM1098 691h1v1h-1zM1102 693h1v1h-1zM1103 693h1v1h-1zM1104 694h1v1h-1zM1108 695h1v1h-1zM1109 696h1v1h-1zM1110 696h1v1h-1zM1114 697h1v1h-1zM1115 698h1v1h-1zM1116 698h1v1h-1zM1120 698h1v1h-1zM1121 698h1v1h-1zM1122 698h1v1h-1zM1126 698h1v1h-1zM1127 698h1v1h-1zM1128 698h1v1h-1zM1132 698h1v1h-1zM1133 698h1v1h-1zM1134 698h1v1h-1zM1138 696h1v1h-1zM1139 696h1v1h-1zM1140 696h1v1h-1zM1144 695h1v1h-1zM1145 695h1v1h-1zM1146 695h1v1h-1zM1150 693h1v1h-1zM1151 693h1v1h-1zM1152 693h1v1h-1zM1156 691h1v1h-1zM1157 690h1v1h-1zM1158 690h1v1h-1zM1162 688h1v1h-1zM1163 688h1v1h-1zM1164 688h1v1h-1zM1168 686h1v1h-1zM1169 686h1v1h-1zM1170 686h1v1h-1zM1174 686h1v1h-1zM1175 686h1v1h-1zM1176 686h1v1h-1zM1180 686h1v1h-1zM1181 686h1v1h-1zM1182 686h1v1h-1zM1186 686h1v1h-1zM1187 686h1v1h-1zM1188 686h1v1h-1zM1192 686h1v1h-1zM1193 686h1v1h-1zM1194 686h1v1h-1zM1198 684h1v1h-1zM1199 684h1v1h-1zM1200 684h1v1h-1zM1204 683h1v1h-1zM1205 683h1v1h-1zM1206 683h1v1h-1zM1210 681h1v1h-1zM1211 680h1v1h-1zM1212 680h1v1h-1zM1216 678h1v1h-1zM1217 677h1v1h-1zM1218 677h1v1h-1zM1222 675h1v1h-1zM1223 674h1v1h-1zM1224 674h1v1h-1zM1228 672h1v1h-1zM1229 671h1v1h-1zM1230 671h1v1h-1zM1234 670h1v1h-1zM1235 670h1v1h-1zM1236 670h1v1h-1zM1240 669h1v1h-1zM1241 669h1v1h-1zM1242 669h1v1h-1zM1246 669h1v1h-1zM1247 669h1v1h-1zM1248 669h1v1h-1zM1252 669h1v1h-1zM1253 669h1v1h-1zM1254 668h1v1h-1zM1258 668h1v1h-1zM1259 668h1v1h-1zM1260 668h1v1h-1zM1264 668h1v1h-1zM1265 668h1v1h-1zM1266 668h1v1h-1z"/>
<path shape-rendering="crispEdges" fill="#1e90ff" d="M5 590h1v2h-1zM6 588h1v2h-1zM7 586h1v2h-1zM8 584h1v2h-1zM9 583h1v1h-1zM10 582h1v1h-1zM11 581h1v1h-1zM12 581h1v1h-1zM13 581h1v2h-1zM14 583h1v3h-1zM15 586h1v3h-1zM16 589h1v2h-1zM17 591h1v2h-1zM18 593h1v2h-1zM19 595h1v1h-1zM20 596h1v1h-1zM21 597h1v1h-1zM22 598h1v1h-1zM23 598h1v1h-1zM24 599h1v1h-1zM25 599h1v1h-1zM26 598h1v1h-1zM27 596h1v2h-1zM28 595h1v1h-1zM29 594h1v1h-1zM30 593h1v1h-1zM31 591h1v2h-1zM32 590h1v1h-1zM33 589h1v1h-1zM34 588h1v1h-1zM35 586h1v2h-1zM36 585h1v1h-1zM37 584h1v1h-1zM38 583h1v1h-1zM39 583h1v1h-1zM40 582h1v1h-1zM41 581h1v1h-1zM42 581h1v1h-1zM43 580h1v1h-1zM44 580h1v1h-1zM45 579h1v1h-1zM46 579h1v1h-1zM47 579h1v1h-1zM48 578h1v1h-1zM49 578h1v1h-1zM50 578h1v1h-1zM51 578h1v1h-1zM52 578h1v1h-1zM53 578h1v1h-1zM54 578h1v1h-1zM55 578h1v1h-1zM56 578h1v1h-1zM57 578h1v1h-1zM58 578h1v1h-1zM59 578h1v1h-1zM60 578h1v1h-1zM61 579h1v1h-1zM62 579h1v1h-1zM63 578h1v1h-1zM64 578h1v1h-1zM65 577h1v1h-1zM66 576h1v1h-1zM67 575h1v1h-1zM68 574h1v1h-1zM69 573h1v1h-1zM70 573h1v1h-1zM71 572h1v1h-1zM72 572h1v1h-1zM73 572h1v1h-1zM74 572h1v1h-1zM75 572h1v1h-1zM76 572h1v1h-1zM77 572h1v1h-1zM78 572h1v1h-1zM79 573h1v1h-1zM80 573h1v1h-1zM81 572h1v1h-1zM82 572h1v1h-1zM83 571h1v1h-1zM84 571h1v1h-1zM85 570h1v1h-1zM86 571h1v1h-1zM87 571h1v1h-1zM88 572h1v2h-1zM89 574h1v2h-1zM90 576h1v2h-1zM91 578h1v3h-1zM92 581h1v2h-1zM93 583h1v1h-1zM94 583h1v1h-1zM95 584h1v1h-1zM96 584h1v1h-1zM97 584h1v1h-1zM98 584h1v1h-1zM99 584h1v1h-1zM100 584h1v1h-1zM101 584h1v1h-1zM102 585h1v1h-1zM103 585h1v1h-1zM104 586h1v1h-1zM105 587h1v1h-1zM106 586h1v1h-1zM107 586h1v1h-1zM108 585h1v1h-1zM109 586h1v2h-1zM110 588h1v3h-1zM111 591h1v4h-1zM112 595h1v3h-1zM113 598h1v1h-1zM114 599h1v1h-1zM115 600h1v1h-1zM116 601h1v1h-1zM117 601h1v1h-1zM118 602h1v1h-1zM119 602h1v1h-1zM120 603h1v1h-1zM121 604h1v1h-1zM122 605h1v2h-1zM123 607h1v1h-1zM124 608h1v1h-1zM125 609h1v1h-1zM126 609h1v1h-1zM127 610h1v1h-1zM128 611h1v1h-1zM129 611h1v1h-1zM130 611h1v1h-1zM131 612h1v1h-1zM132 612h1v1h-1zM133 613h1v1h-1zM134 613h1v1h-1zM135 614h1v1h-1zM136 615h1v1h-1zM137 616h1v1h-1zM138 617h1v1h-1zM139 618h1v1h-1zM140 619h1v1h-1zM141 619h1v1h-1zM142 620h1v1h-1zM143 620h1v1h-1zM144 621h1v1h-1zM145 621h1v1h-1zM146 621h1v1h-1zM147 622h1v1h-1zM148 622h1v1h-1zM149 623h1v1h-1zM150 621h1v2h-1zM151 619h1v2h-1zM152 618h1v1h-1zM153 616h1v2h-1zM154 614h1v2h-1zM155 612h1v2h-1zM156 610h1v2h-1zM157 608h1v2h-1zM158 604h1v4h-1zM159 599h1v5h-1zM160 594h1v5h-1zM161 591h1v3h-1zM162 591h1v1h-1zM163 591h1v1h-1zM164 591h1v1h-1zM165 591h1v1h-1zM166 591h1v1h-1zM167 590h1v1h-1zM168 590h1v1h-1zM169 590h1v1h-1zM170 591h1v2h-1zM171 593h1v1h-1zM172 594h1v2h-1zM173 595h1v2h-1zM174 591h1v4h-1zM175 588h1v3h-1zM176 584h1v4h-1zM177 582h1v2h-1zM178 581h1v1h-1zM179 580h1v1h-1zM180 579h1v1h-1zM181 578h1v1h-1zM182 577h1v1h-1zM183 575h1v2h-1zM184 574h1v1h-1zM185 573h1v1h-1zM186 573h1v1h-1zM187 573h1v1h-1zM188 572h1v1h-1zM189 572h1v1h-1zM190 572h1v1h-1zM191 572h1v1h-1zM192 571h1v1h-1zM193 571h1v1h-1zM194 572h1v2h-1zM195 574h1v1h-1zM196 575h1v1h-1zM197 575h1v1h-1zM198 576h1v1h-1zM199 576h1v1h-1zM200 577h1v1h-1zM201 577h1v1h-1zM202 578h1v1h-1zM203 578h1v1h-1zM204 579h1v1h-1zM205 580h1v2h-1zM206 582h1v2h-1zM207 584h1v2h-1zM208 586h1v2h-1zM209 588h1v2h-1zM210 590h1v1h-1zM211 591h1v1h-1zM212 592h1v1h-1zM213 593h1v1h-1zM214 593h1v1h-1zM215 594h1v1h-1zM216 594h1v1h-1zM217 595h1v1h-1zM218 593h1v2h-1zM219 592h1v1h-1zM220 590h1v2h-1zM221 589h1v1h-1zM222 589h1v1h-1zM223 588h1v1h-1zM224 588h1v1h-1zM225 587h1v1h-1zM226 587h1v1h-1zM227 586h1v1h-1zM228 586h1v1h-1zM229 585h1v1h-1zM230 585h1v1h-1zM231 584h1v1h-1zM232 583h1v1h-1zM233 583h1v1h-1zM234 582h1v1h-1zM235 581h1v1h-1zM236 581h1v1h-1zM237 580h1v1h-1zM238 580h1v1h-1zM239 580h1v1h-1zM240 581h1v1h-1zM241 581h1v1h-1zM242 581h1v1h-1zM243 581h1v1h-1zM244 581h1v1h-1zM245 581h1v1h-1zM246 582h1v1h-1zM247 583h1v1h-1zM248 584h1v1h-1zM249 585h1v1h-1zM250 585h1v1h-1zM251 585h1v1h-1zM252 585h1v1h-1zM253 585h1v1h-1zM254 586h1v1h-1zM255 587h1v1h-1zM256 588h1v1h-1zM257 589h1v1h-1zM258 589h1v1h-1zM259 589h1v1h-1zM260 590h1v1h-1zM261 590h1v1h-1zM262 590h1v1h-1zM263 590h1v1h-1zM264 589h1v1h-1zM265 589h1v1h-1zM266 589h1v1h-1zM267 588h1v1h-1zM268 588h1v1h-1zM269 587h1v1h-1zM270 588h1v2h-1zM271 590h1v2h-1zM272 592h1v1h-1zM273 591h1v1h-1zM274 591h1v1h-1zM275 590h1v1h-1zM276 589h1v1h-1zM277 588h1v1h-1zM278 587h1v1h-1zM279 587h1v1h-1zM280 586h1v1h-1zM281 585h1v1h-1zM282 586h1v1h-1zM283 586h1v1h-1zM284 587h1v1h-1zM285 588h1v1h-1zM286 588h1v1h-1zM287 588h1v1h-1zM288 587h1v1h-1zM289 587h1v1h-1zM290 587h1v1h-1zM291 587h1v1h-1zM292 587h1v1h-1zM293 587h1v1h-1zM294 587h1v1h-1zM295 586h1v1h-1zM296 586h1v1h-1zM297 585h1v1h-1zM298 585h1v1h-1zM299 584h1v1h-1zM300 584h1v1h-1zM301 583h1v1h-1zM302 583h1v1h-1zM303 582h1v1h-1zM304 582h1v1h-1zM305 582h1v1h-1zM306 581h1v1h-1zM307 581h1v1h-1zM308 580h1v1h-1zM309 580h1v1h-1zM310 580h1v1h-1zM311 580h1v1h-1zM312 580h1v1h-1zM313 580h1v1h-1zM314 580h1v1h-1zM315 580h1v1h-1zM316 579h1v1h-1zM317 579h1v1h-1zM318 579h1v1h-1zM319 580h1v1h-1zM320 580h1v1h-1zM321 581h1v1h-1zM322 581h1v1h-1zM323 581h1v1h-1zM324 581h1v1h-1zM325 581h1v2h-1zM326 583h1v2h-1zM327 585h1v2h-1zM328 587h1v2h-1zM329 589h1v2h-1zM330 591h1v2h-1zM331 593h1v2h-1zM332 595h1v2h-1zM333 597h1v1h-1zM334 597h1v1h-1zM335 596h1v1h-1zM336 596h1v1h-1zM337 595h1v1h-1zM338 594h1v1h-1zM339 593h1v1h-1zM340 592h1v1h-1zM341 591h1v1h-1zM342 589h1v2h-1zM343 587h1v2h-1zM344 585h1v2h-1zM345 584h1v1h-1zM346 583h1v1h-1zM347 583h1v1h-1zM348 582h1v1h-1zM349 581h1v1h-1zM350 581h1v1h-1zM351 581h1v1h-1zM352 581h1v1h-1zM353 581h1v1h-1zM354 582h1v2h-1zM355 584h1v1h-1zM356 585h1v2h-1zM357 587h1v1h-1zM358 587h1v1h-1zM359 586h1v1h-1zM360 586h1v1h-1zM361 585h1v1h-1zM362 585h1v1h-1zM363 585h1v1h-1zM364 584h1v1h-1zM365 584h1v1h-1zM366 585h1v1h-1zM367 586h1v2h-1zM368 588h1v1h-1zM369 589h1v1h-1zM370 588h1v1h-1zM371 588h1v1h-1zM372 587h1v1h-1zM373 586h1v1h-1zM374 586h1v1h-1zM375 585h1v1h-1zM376 585h1v1h-1zM377 584h1v1h-1zM378 584h1v1h-1zM379 584h1v1h-1zM380 584h1v1h-1zM381 584h1v1h-1zM382 584h1v1h-1zM383 584h1v1h-1zM384 584h1v1h-1zM385 585h1v1h-1zM386 585h1v1h-1zM387 586h1v1h-1zM388 586h1v1h-1zM389 587h1v1h-1zM390 586h1v1h-1zM391 586h1v1h-1zM392 585h1v1h-1zM393 584h1v2h-1zM394 586h1v2h-1zM395 588h1v2h-1zM396 590h1v2h-1zM397 592h1v2h-1zM398 591h1v2h-1zM399 590h1v1h-1zM400 588h1v2h-1zM401 587h1v1h-1zM402 587h1v1h-1zM403 586h1v1h-1zM404 586h1v1h-1zM405 585h1v1h-1zM406 585h1v1h-1zM407 585h1v1h-1zM408 584h1v1h-1zM409 584h1v1h-1zM410 585h1v1h-1zM411 585h1v1h-1zM412 586h1v1h-1zM413 587h1v1h-1zM414 588h1v2h-1zM415 590h1v1h-1zM416 591h1v1h-1zM417 590h1v1h-1zM418 590h1v1h-1zM419 589h1v1h-1zM420 589h1v1h-1zM421 588h1v1h-1zM422 589h1v1h-1zM423 590h1v2h-1zM424 592h1v1h-1zM425 593h1v1h-1zM426 594h1v1h-1zM427 594h1v1h-1zM428 595h1v1h-1zM429 596h1v1h-1zM430 596h1v1h-1zM431 596h1v1h-1zM432 596h1v1h-1zM433 596h1v1h-1zM434 596h1v1h-1zM435 596h1v1h-1zM436 596h1v1h-1zM437 596h1v1h-1zM438 596h1v1h-1zM439 596h1v1h-1zM440 595h1v1h-1zM441 595h1v1h-1zM442 595h1v1h-1zM443 595h1v1h-1zM444 596h1v1h-1zM445 596h1v1h-1zM446 597h1v1h-1zM447 598h1v2h-1zM448 600h1v1h-1zM449 600h1v2h-1zM450 598h1v2h-1zM451 596h1v2h-1zM452 594h1v2h-1zM453 592h1v2h-1zM454 592h1v1h-1zM455 592h1v1h-1zM456 592h1v1h-1zM457 592h1v1h-1zM458 593h1v2h-1zM459 595h1v1h-1zM460 596h1v2h-1zM461 598h1v1h-1zM462 599h1v1h-1zM463 600h1v2h-1zM464 602h1v1h-1zM465 603h1v1h-1zM466 604h1v1h-1zM467 604h1v1h-1zM468 605h1v1h-1zM469 606h1v1h-1zM470 607h1v1h-1zM471 608h1v1h-1zM472 609h1v1h-1zM473 608h1v3h-1zM474 603h1v5h-1zM475 598h1v5h-1zM476 595h1v3h-1zM477 594h1v1h-1zM478 594h1v1h-1zM479 593h1v1h-1zM480 592h1v1h-1zM481 592h1v1h-1zM482 593h1v1h-1zM483 593h1v1h-1zM484 594h1v1h-1zM485 594h1v1h-1zM486 594h1v1h-1zM487 594h1v1h-1zM488 595h1v1h-1zM489 595h1v1h-1zM490 595h1v1h-1zM491 594h1v1h-1zM492 594h1v1h-1zM493 593h1v1h-1zM494 593h1v1h-1zM495 593h1v1h-1zM496 593h1v1h-1zM497 593h1v1h-1zM498 593h1v1h-1zM499 593h1v1h-1zM500 593h1v1h-1zM501 592h1v1h-1zM502 592h1v1h-1zM503 592h1v1h-1zM504 593h1v1h-1zM505 593h1v1h-1zM506 594h1v1h-1zM507 595h1v1h-1zM508 596h1v1h-1zM509 597h1v1h-1zM510 597h1v1h-1zM511 598h1v1h-1zM512 598h1v1h-1zM513 599h1v1h-1zM514 598h1v1h-1zM515 597h1v1h-1zM516 596h1v1h-1zM517 595h1v1h-1zM518 594h1v1h-1zM519 594h1v1h-1zM520 593h1v1h-1zM521 593h1v1h-1zM522 593h1v1h-1zM523 593h1v1h-1zM524 594h1v1h-1zM525 594h1v1h-1zM526 594h1v1h-1zM527 594h1v1h-1zM528 594h1v1h-1zM529 594h1v1h-1zM530 593h1v1h-1zM531 592h1v1h-1zM532 591h1v1h-1zM533 590h1v1h-1zM534 591h1v1h-1zM535 592h1v1h-1zM536 593h1v1h-1zM537 594h1v1h-1zM538 594h1v1h-1zM539 595h1v1h-1zM540 595h1v1h-1zM541 596h1v1h-1zM542 596h1v1h-1zM543 596h1v1h-1zM544 596h1v1h-1zM545 596h1v1h-1zM546 596h1v1h-1zM547 596h1v1h-1zM548 596h1v1h-1zM549 596h1v1h-1zM550 596h1v1h-1zM551 596h1v1h-1zM552 596h1v1h-1zM553 596h1v1h-1zM554 597h1v1h-1zM555 598h1v1h-1zM556 599h1v1h-1zM557 600h1v1h-1zM558 600h1v1h-1zM559 600h1v1h-1zM560 601h1v1h-1zM561 601h1v1h-1zM562 602h1v1h-1zM563 602h1v1h-1zM564 603h1v1h-1zM565 604h1v1h-1zM566 603h1v1h-1zM567 602h1v1h-1zM568 601h1v1h-1zM569 600h1v1h-1zM570 600h1v1h-1zM571 600h1v1h-1zM572 601h1v1h-1zM573 601h1v1h-1zM574 600h1v1h-1zM575 598h1v2h-1zM576 597h1v1h-1zM577 596h1v1h-1zM578 596h1v1h-1zM579 596h1v1h-1zM580 597h1v1h-1zM581 597h1v1h-1zM582 598h1v1h-1zM583 598h1v1h-1zM584 599h1v1h-1zM585 599h1v2h-1zM586 597h1v2h-1zM587 594h1v3h-1zM588 592h1v2h-1zM589 590h1v2h-1zM590 590h1v1h-1zM591 591h1v1h-1zM592 591h1v1h-1zM593 592h1v2h-1zM594 594h1v1h-1zM595 595h1v2h-1zM596 597h1v1h-1zM597 597h1v1h-1zM598 597h1v1h-1zM599 597h1v1h-1zM600 597h1v1h-1zM601 597h1v1h-1zM602 597h1v1h-1zM603 596h1v1h-1zM604 596h1v1h-1zM605 596h1v1h-1zM606 597h1v2h-1zM607 599h1v2h-1zM608 601h1v2h-1zM609 603h1v1h-1zM610 604h1v1h-1zM611 605h1v1h-1zM612 606h1v1h-1zM613 607h1v1h-1zM614 608h1v1h-1zM615 608h1v1h-1zM616 609h1v1h-1zM617 609h1v1h-1zM618 610h1v1h-1zM619 610h1v1h-1zM620 610h1v1h-1zM621 611h1v1h-1zM622 611h1v1h-1zM623 611h1v1h-1zM624 611h1v1h-1zM625 611h1v1h-1zM626 611h1v1h-1zM627 611h1v1h-1zM628 612h1v1h-1zM629 612h1v1h-1zM630 613h1v1h-1zM631 614h1v1h-1zM632 614h1v1h-1zM633 615h1v1h-1zM634 615h1v1h-1zM635 616h1v1h-1zM636 616h1v1h-1zM637 616h1v1h-1zM638 616h1v1h-1zM639 617h1v1h-1zM640 617h1v1h-1zM641 617h1v1h-1zM642 617h1v1h-1zM643 617h1v1h-1zM644 617h1v1h-1zM645 617h1v1h-1zM646 615h1v2h-1zM647 614h1v1h-1zM648 612h1v2h-1zM649 610h1v2h-1zM650 608h1v2h-1zM651 605h1v3h-1zM652 603h1v2h-1zM653 601h1v2h-1zM654 602h1v1h-1zM655 602h1v1h-1zM656 603h1v1h-1zM657 604h1v2h-1zM658 606h1v1h-1zM659 607h1v1h-1zM660 608h1v1h-1zM661 609h1v1h-1zM662 609h1v2h-1zM663 607h1v2h-1zM664 605h1v2h-1zM665 603h1v2h-1zM666 602h1v1h-1zM667 600h1v2h-1zM668 599h1v1h-1zM669 598h1v1h-1zM670 598h1v1h-1zM671 598h1v1h-1zM672 599h1v1h-1zM673 599h1v1h-1zM674 598h1v1h-1zM675 598h1v1h-1zM676 597h1v1h-1zM677 596h1v1h-1zM678 596h1v1h-1zM679 596h1v1h-1zM680 595h1v1h-1zM681 595h1v1h-1zM682 596h1v1h-1zM683 597h1v1h-1zM684 598h1v1h-1zM685 599h1v1h-1zM686 599h1v1h-1zM687 599h1v1h-1zM688 600h1v1h-1zM689 600h1v1h-1zM690 600h1v1h-1zM691 600h1v1h-1zM692 601h1v1h-1zM693 601h1v1h-1zM694 601h1v1h-1zM695 601h1v1h-1zM696 600h1v1h-1zM697 600h1v1h-1zM698 601h1v1h-1zM699 601h1v1h-1zM700 602h1v1h-1zM701 603h1v1h-1zM702 604h1v1h-1zM703 604h1v1h-1zM704 605h1v1h-1zM705 605h1v2h-1zM706 602h1v3h-1zM707 598h1v4h-1zM708 595h1v3h-1zM709 593h1v2h-1zM710 594h1v1h-1zM711 594h1v1h-1zM712 595h1v1h-1zM713 596h1v1h-1zM714 594h1v2h-1zM715 593h1v1h-1zM716 591h1v2h-1zM717 590h1v1h-1zM718 590h1v1h-1zM719 590h1v1h-1zM720 591h1v1h-1zM721 591h1v1h-1zM722 591h1v1h-1zM723 591h1v1h-1zM724 592h1v1h-1zM725 592h1v1h-1zM726 592h1v1h-1zM727 593h1v1h-1zM728 593h1v1h-1zM729 594h1v1h-1zM730 594h1v1h-1zM731 594h1v1h-1zM732 595h1v1h-1zM733 595h1v1h-1zM734 595h1v1h-1zM735 595h1v1h-1zM736 596h1v1h-1zM737 596h1v1h-1zM738 597h1v1h-1zM739 597h1v1h-1zM740 598h1v1h-1zM741 599h1v1h-1zM742 599h1v1h-1zM743 599h1v1h-1zM744 598h1v1h-1zM745 598h1v1h-1zM746 599h1v1h-1zM747 599h1v1h-1zM748 600h1v1h-1zM749 600h1v2h-1zM750 598h1v2h-1zM751 596h1v2h-1zM752 594h1v2h-1zM753 592h1v2h-1zM754 591h1v1h-1zM755 590h1v1h-1zM756 589h1v1h-1zM757 588h1v1h-1zM758 588h1v1h-1zM759 588h1v1h-1zM760 588h1v1h-1zM761 588h1v1h-1zM762 587h1v1h-1zM763 585h1v2h-1zM764 584h1v1h-1zM765 583h1v1h-1zM766 584h1v1h-1zM767 584h1v1h-1zM768 585h1v1h-1zM769 586h1v1h-1zM770 585h1v1h-1zM771 584h1v1h-1zM772 583h1v1h-1zM773 582h1v1h-1zM774 582h1v1h-1zM775 582h1v1h-1zM776 581h1v1h-1zM777 581h1v1h-1zM778 582h1v2h-1zM779 584h1v1h-1zM780 585h1v2h-1zM781 587h1v1h-1zM782 588h1v1h-1zM783 589h1v2h-1zM784 591h1v1h-1zM785 592h1v1h-1zM786 592h1v1h-1zM787 591h1v1h-1zM788 591h1v1h-1zM789 590h1v1h-1zM790 590h1v1h-1zM791 590h1v1h-1zM792 590h1v1h-1zM793 590h1v1h-1zM794 591h1v1h-1zM795 591h1v1h-1zM796 592h1v1h-1zM797 593h1v1h-1zM798 593h1v1h-1zM799 592h1v1h-1zM800 592h1v1h-1zM801 591h1v1h-1zM802 591h1v1h-1zM803 591h1v1h-1zM804 591h1v1h-1zM805 591h1v1h-1zM806 591h1v1h-1zM807 590h1v1h-1zM808 590h1v1h-1zM809 589h1v1h-1zM810 589h1v1h-1zM811 589h1v1h-1zM812 589h1v1h-1zM813 589h1v1h-1zM814 589h1v1h-1zM815 589h1v1h-1zM816 588h1v1h-1zM817 587h1v2h-1zM818 585h1v2h-1zM819 583h1v2h-1zM820 581h1v2h-1zM821 580h1v1h-1zM822 579h1v1h-1zM823 577h1v2h-1zM824 576h1v1h-1zM825 575h1v1h-1zM826 574h1v1h-1zM827 573h1v1h-1zM828 573h1v1h-1zM829 572h1v1h-1zM830 572h1v1h-1zM831 571h1v1h-1zM832 570h1v1h-1zM833 570h1v1h-1zM834 569h1v1h-1zM835 568h1v1h-1zM836 568h1v1h-1zM837 567h1v1h-1zM838 567h1v1h-1zM839 567h1v1h-1zM840 568h1v1h-1zM841 568h1v2h-1zM842 570h1v2h-1zM843 572h1v2h-1zM844 574h1v1h-1zM845 575h1v1h-1zM846 576h1v2h-1zM847 578h1v1h-1zM848 579h1v1h-1zM849 580h1v1h-1zM850 581h1v1h-1zM851 582h1v1h-1zM852 583h1v1h-1zM853 584h1v1h-1zM854 584h1v1h-1zM855 585h1v1h-1zM856 585h1v1h-1zM857 586h1v1h-1zM858 585h1v1h-1zM859 584h1v1h-1zM860 583h1v1h-1zM861 582h1v1h-1zM862 582h1v1h-1zM863 582h1v1h-1zM864 582h1v1h-1zM865 582h1v2h-1zM866 584h1v2h-1zM867 586h1v2h-1zM868 588h1v2h-1zM869 590h1v1h-1zM870 590h1v1h-1zM871 590h1v1h-1zM872 590h1v1h-1zM873 590h1v1h-1zM874 590h1v1h-1zM875 589h1v1h-1zM876 589h1v1h-1zM877 588h1v1h-1zM878 588h1v1h-1zM879 587h1v1h-1zM880 587h1v1h-1zM881 586h1v2h-1zM882 588h1v2h-1zM883 590h1v3h-1zM884 593h1v2h-1zM885 595h1v2h-1zM886 596h1v1h-1zM887 596h1v1h-1zM888 596h1v1h-1zM889 596h1v1h-1zM890 596h1v1h-1zM891 596h1v1h-1zM892 596h1v1h-1zM893 596h1v1h-1zM894 594h1v2h-1zM895 592h1v2h-1zM896 590h1v2h-1zM897 589h1v1h-1zM898 589h1v1h-1zM899 590h1v1h-1zM900 590h1v1h-1zM901 591h1v1h-1zM902 590h1v1h-1zM903 590h1v1h-1zM904 589h1v1h-1zM905 588h1v1h-1zM906 588h1v1h-1zM907 588h1v1h-1zM908 587h1v1h-1zM909 587h1v1h-1zM910 587h1v1h-1zM911 587h1v1h-1zM912 587h1v1h-1zM913 587h1v2h-1zM914 589h1v2h-1zM915 591h1v2h-1zM916 593h1v2h-1zM917 595h1v1h-1zM918 596h1v1h-1zM919 596h1v1h-1zM920 597h1v1h-1zM921 598h1v1h-1zM922 599h1v1h-1zM923 599h1v1h-1zM924 600h1v1h-1zM925 601h1v1h-1zM926 599h1v2h-1zM927 598h1v1h-1zM928 596h1v2h-1zM929 595h1v1h-1zM930 595h1v1h-1zM931 596h1v1h-1zM932 596h1v1h-1zM933 597h1v1h-1zM934 597h1v1h-1zM935 597h1v1h-1zM936 598h1v1h-1zM937 598h1v1h-1zM938 597h1v1h-1zM939 596h1v1h-1zM940 595h1v1h-1zM941 594h1v1h-1zM942 594h1v1h-1zM943 594h1v1h-1zM944 595h1v1h-1zM945 595h1v1h-1zM946 593h1v2h-1zM947 592h1v1h-1zM948 590h1v2h-1zM949 588h1v2h-1zM950 586h1v2h-1zM951 584h1v2h-1zM952 582h1v2h-1zM953 580h1v2h-1zM954 580h1v1h-1zM955 580h1v1h-1zM956 580h1v1h-1zM957 580h1v1h-1zM958 580h1v1h-1zM959 580h1v1h-1zM960 580h1v1h-1zM961 580h1v1h-1zM962 579h1v1h-1zM963 579h1v1h-1zM964 578h1v1h-1zM965 577h1v2h-1zM966 579h1v3h-1zM967 582h1v2h-1zM968 584h1v3h-1zM969 587h1v2h-1zM970 588h1v1h-1zM971 588h1v1h-1zM972 588h1v1h-1zM973 588h1v1h-1zM974 588h1v1h-1zM975 589h1v2h-1zM976 591h1v2h-1zM977 593h1v2h-1zM978 595h1v2h-1zM979 597h1v2h-1zM980 599h1v2h-1zM981 601h1v1h-1zM982 601h1v1h-1zM983 601h1v1h-1zM984 601h1v1h-1zM985 600h1v2h-1zM986 596h1v4h-1zM987 593h1v3h-1zM988 589h1v4h-1zM989 587h1v2h-1zM990 586h1v1h-1zM991 586h1v1h-1zM992 585h1v1h-1zM993 584h1v1h-1zM994 583h1v1h-1zM995 582h1v1h-1zM996 581h1v1h-1zM997 580h1v1h-1zM998 581h1v1h-1zM999 582h1v2h-1zM1000 584h1v1h-1zM1001 585h1v1h-1zM1002 585h1v1h-1zM1003 585h1v1h-1zM1004 585h1v1h-1zM1005 585h1v1h-1zM1006 585h1v1h-1zM1007 585h1v1h-1zM1008 585h1v1h-1zM1009 585h1v1h-1zM1010 585h1v1h-1zM1011 585h1v1h-1zM1012 585h1v1h-1zM1013 586h1v1h-1zM1014 586h1v1h-1zM1015 587h1v1h-1zM1016 587h1v1h-1zM1017 588h1v1h-1zM1018 588h1v1h-1zM1019 589h1v1h-1zM1020 589h1v1h-1zM1021 590h1v1h-1zM1022 589h1v1h-1zM1023 588h1v1h-1zM1024 587h1v1h-1zM1025 586h1v1h-1zM1026 586h1v1h-1zM1027 586h1v1h-1zM1028 587h1v1h-1zM1029 587h1v1h-1zM1030 587h1v1h-1zM1031 587h1v1h-1zM1032 587h1v1h-1zM1033 587h1v1h-1zM1034 586h1v1h-1zM1035 586h1v1h-1zM1036 585h1v1h-1zM1037 584h1v1h-1zM1038 585h1v1h-1zM1039 585h1v1h-1zM1040 586h1v1h-1zM1041 587h1v1h-1zM1042 588h1v1h-1zM1043 588h1v1h-1zM1044 589h1v1h-1zM1045 590h1v1h-1zM1046 591h1v1h-1zM1047 591h1v1h-1zM1048 592h1v1h-1zM1049 593h1v1h-1zM1050 594h1v1h-1zM1051 594h1v1h-1zM1052 595h1v1h-1zM1053 596h1v1h-1zM1054 596h1v1h-1zM1055 596h1v1h-1zM1056 596h1v1h-1zM1057 596h1v1h-1zM1058 596h1v1h-1zM1059 596h1v1h-1zM1060 595h1v1h-1zM1061 595h1v1h-1zM1062 596h1v1h-1zM1063 597h1v2h-1zM1064 599h1v1h-1zM1065 600h1v1h-1zM1066 601h1v1h-1zM1067 602h1v2h-1zM1068 604h1v1h-1zM1069 605h1v1h-1zM1070 606h1v1h-1zM1071 607h1v1h-1zM1072 608h1v1h-1zM1073 609h1v1h-1zM1074 609h1v1h-1zM1075 609h1v1h-1zM1076 608h1v1h-1zM1077 608h1v1h-1zM1078 608h1v1h-1zM1079 608h1v1h-1zM1080 609h1v1h-1zM1081 609h1v1h-1zM1082 609h1v1h-1zM1083 609h1v1h-1zM1084 610h1v1h-1zM1085 610h1v1h-1zM1086 610h1v1h-1zM1087 610h1v1h-1zM1088 610h1v1h-1zM1089 610h1v1h-1zM1090 609h1v1h-1zM1091 609h1v1h-1zM1092 608h1v1h-1zM1093 607h1v1h-1zM1094 608h1v1h-1zM1095 608h1v1h-1zM1096 609h1v1h-1zM1097 609h1v2h-1zM1098 607h1v2h-1zM1099 605h1v2h-1zM1100 603h1v2h-1zM1101 601h1v2h-1zM1102 601h1v1h-1zM1103 601h1v1h-1zM1104 602h1v1h-1zM1105 602h1v1h-1zM1106 602h1v1h-1zM1107 603h1v1h-1zM1108 603h1v1h-1zM1109 604h1v1h-1zM1110 604h1v1h-1zM1111 605h1v1h-1zM1112 605h1v1h-1zM1113 606h1v1h-1zM1114 606h1v1h-1zM1115 606h1v1h-1zM1116 607h1v1h-1zM1117 607h1v1h-1zM1118 607h1v1h-1zM1119 608h1v1h-1zM1120 608h1v1h-1zM1121 607h1v1h-1zM1122 607h1v1h-1zM1123 606h1v1h-1zM1124 605h1v1h-1zM1125 605h1v1h-1zM1126 606h1v1h-1zM1127 606h1v1h-1zM1128 607h1v1h-1zM1129 606h1v2h-1zM1130 604h1v2h-1zM1131 602h1v2h-1zM1132 600h1v2h-1zM1133 598h1v2h-1zM1134 597h1v1h-1zM1135 597h1v1h-1zM1136 596h1v1h-1zM1137 596h1v1h-1zM1138 595h1v1h-1zM1139 595h1v1h-1zM1140 594h1v1h-1zM1141 594h1v1h-1zM1142 593h1v1h-1zM1143 593h1v1h-1zM1144 592h1v1h-1zM1145 592h1v1h-1zM1146 591h1v1h-1zM1147 591h1v1h-1zM1148 590h1v1h-1zM1149 590h1v1h-1zM1150 591h1v1h-1zM1151 592h1v1h-1zM1152 593h1v1h-1zM1153 594h1v1h-1zM1154 595h1v2h-1zM1155 597h1v1h-1zM1156 598h1v2h-1zM1157 600h1v1h-1zM1158 601h1v1h-1zM1159 601h1v1h-1zM1160 602h1v1h-1zM1161 603h1v1h-1zM1162 602h1v1h-1zM1163 602h1v1h-1zM1164 601h1v1h-1zM1165 600h1v1h-1zM1166 600h1v1h-1zM1167 599h1v1h-1zM1168 599h1v1h-1zM1169 598h1v1h-1zM1170 599h1v2h-1zM1171 601h1v1h-1zM1172 602h1v2h-1zM1173 604h1v1h-1zM1174 604h1v1h-1zM1175 604h1v1h-1zM1176 604h1v1h-1zM1177 604h1v1h-1zM1178 603h1v1h-1zM1179 602h1v1h-1zM1180 601h1v1h-1zM1181 599h1v2h-1zM1182 597h1v2h-1zM1183 595h1v2h-1zM1184 593h1v2h-1zM1185 592h1v1h-1zM1186 593h1v1h-1zM1187 593h1v1h-1zM1188 594h1v1h-1zM1189 595h1v1h-1zM1190 593h1v2h-1zM1191 592h1v1h-1zM1192 590h1v2h-1zM1193 589h1v1h-1zM1194 587h1v2h-1zM1195 585h1v2h-1zM1196 583h1v2h-1zM1197 582h1v1h-1zM1198 583h1v1h-1zM1199 583h1v1h-1zM1200 584h1v1h-1zM1201 585h1v1h-1zM1202 586h1v1h-1zM1203 586h1v1h-1zM1204 587h1v1h-1zM1205 588h1v1h-1zM1206 588h1v1h-1zM1207 587h1v1h-1zM1208 587h1v1h-1zM1209 586h1v1h-1zM1210 586h1v1h-1zM1211 585h1v1h-1zM1212 585h1v1h-1zM1213 584h1v1h-1zM1214 584h1v1h-1zM1215 584h1v1h-1zM1216 583h1v1h-1zM1217 583h1v1h-1zM1218 583h1v1h-1zM1219 583h1v1h-1zM1220 584h1v1h-1zM1221 584h1v1h-1zM1222 585h1v1h-1zM1223 585h1v1h-1zM1224 586h1v1h-1zM1225 587h1v1h-1zM1226 586h1v1h-1zM1227 586h1v1h-1zM1228 585h1v1h-1zM1229 584h1v1h-1zM1230 585h1v2h-1zM1231 587h1v2h-1zM1232 589h1v2h-1zM1233 591h1v1h-1zM1234 591h1v1h-1zM1235 591h1v1h-1zM1236 592h1v1h-1zM1237 592h1v1h-1zM1238 592h1v1h-1zM1239 592h1v1h-1zM1240 591h1v1h-1zM1241 591h1v1h-1zM1242 590h1v1h-1zM1243 588h1v2h-1zM1244 587h1v1h-1zM1245 586h1v1h-1zM1246 587h1v1h-1zM1247 587h1v1h-1zM1248 588h1v1h-1zM1249 589h1v1h-1zM1250 588h1v1h-1zM1251 587h1v1h-1zM1252 586h1v1h-1zM1253 585h1v1h-1zM1254 585h1v1h-1zM1255 586h1v1h-1zM1256 586h1v1h-1zM1257 587h1v1h-1zM1258 587h1v1h-1zM1259 586h1v1h-1zM1260 586h1v1h-1zM1261 585h1v1h-1zM1262 584h1v1h-1zM1263 584h1v1h-1zM1264 583h1v1h-1zM1265 582h1v1h-1zM1266 582h1v1h-1zM1267 582h1v1h-1zM1268 582h1v1h-1z"/>
</svg>
<div class="abs ct" style="left:20.5px;top:29.2px;font-size:9.7px;line-height:13px">USDCHF,Daily&nbsp; 0.89012 0.89186 0.88896 0.89072</div>
<div class="abs ct" style="left:9px;top:543.4px;font-size:9.7px;line-height:13px">RSI(14) 54.9755</div>
<div class="abs ct" style="left:9px;top:638.4px;font-size:9.7px;line-height:13px">MACD(12,26,9) 0.000336 -0.000180</div>
<div class="ax ct" style="top:34.7px">0.99280</div>
<div class="ax ct" style="top:67.7px">0.98480</div>
<div class="ax ct" style="top:100.7px">0.97680</div>
<div class="ax ct" style="top:133.7px">0.96880</div>
<div class="ax ct" style="top:166.7px">0.96080</div>
<div class="ax ct" style="top:199.7px">0.95300</div>
<div class="ax ct" style="top:232.7px">0.94500</div>
<div class="ax ct" style="top:265.7px">0.93700</div>
<div class="ax ct" style="top:298.7px">0.92900</div>
<div class="ax ct" style="top:331.7px">0.92120</div>
<div class="ax ct" style="top:364.7px">0.91320</div>
<div class="ax ct" style="top:397.7px">0.90520</div>
<div class="ax ct" style="top:430.7px">0.89720</div>
<div class="ax ct" style="top:463.7px">0.88920</div>
<div class="ax ct" style="top:496.7px">0.88140</div>
<div class="ax ct" style="top:529.7px">0.87340</div>
<div class="tag" style="top:179px;height:11px;background:#ff0000"><span style="top:-0.6px">0.95766</span></div>
<div class="tag" style="top:294px;height:11px;background:#ff0000"><span style="top:-0.6px">0.93001</span></div>
<div class="tag" style="top:348px;height:11px;background:#ff0000"><span style="top:-0.6px">0.91709</span></div>
<div class="tag" style="top:416px;height:11px;background:#00ff00"><span style="top:-0.6px">0.90055</span></div>
<div class="tag" style="top:458px;height:11px;background:#000000"><span style="top:-0.6px">0.89072</span></div>
<div class="tag" style="top:501px;height:11px;background:#0000ff"><span style="top:-0.6px">0.88024</span></div>
<div class="ax ct" style="left:1601px;top:542.1px">100</div>
<div class="ax ct" style="left:1601px;top:563.1px">70</div>
<div class="ax ct" style="left:1601px;top:599.1px">30</div>
<div class="ax ct" style="left:1601px;top:621.1px">0</div>
<div class="ax ct" style="left:1601px;top:636.1px">0.005818</div>
<div class="ax ct" style="left:1601px;top:661.1px">0.00</div>
<div class="ax ct" style="left:1601px;top:716.1px">-0.011514</div>
<div class="dt ct" style="left:4px">27 Jan 2020</div>
<div class="dt ct" style="left:68px">14 Feb 2020</div>
<div class="dt ct" style="left:132px">4 Mar 2020</div>
<div class="dt ct" style="left:196px">23 Mar 2020</div>
<div class="dt ct" style="left:260px">10 Apr 2020</div>
<div class="dt ct" style="left:324px">29 Apr 2020</div>
<div class="dt ct" style="left:388px">18 May 2020</div>
<div class="dt ct" style="left:452px">5 Jun 2020</div>
<div class="dt ct" style="left:516px">24 Jun 2020</div>
<div class="dt ct" style="left:580px">13 Jul 2020</div>
<div class="dt ct" style="left:644px">31 Jul 2020</div>
<div class="dt ct" style="left:708px">19 Aug 2020</div>
<div class="dt ct" style="left:772px">7 Sep 2020</div>
<div class="dt ct" style="left:836px">25 Sep 2020</div>
<div class="dt ct" style="left:900px">14 Oct 2020</div>
<div class="dt ct" style="left:964px">2 Nov 2020</div>
<div class="dt ct" style="left:1028px">20 Nov 2020</div>
<div class="dt ct" style="left:1092px">9 Dec 2020</div>
<div class="dt ct" style="left:1156px">29 Dec 2020</div>
<div class="dt ct" style="left:1220px">18 Jan 2021</div>
<div class="abs" style="left:0;top:749px;width:1639px;height:1px;background:#e3e3e3"></div>
<div class="tabbar"></div>
<div class="abs" style="left:0;top:751px;width:1639px;height:1px;background:#000"></div>
<div class="abs" style="left:0;top:772px;width:1639px;height:1px;background:#fafafa"></div>
<div class="abs" style="left:1px;top:752px;width:1px;height:19px;background:#696969"></div>
<div class="abs" style="left:110px;top:750px;width:98px;height:19px;background:#fff;border:1px solid #000;border-top:none"></div>
<div class="abs" style="left:111px;top:770px;width:100px;height:1px;background:#b0b0b0"></div>
<div class="tab" style="left:17.8px;">EURUSD,Daily</div>
<div class="tab" style="left:119.8px;color:#000;">USDCHF,Daily</div>
<div class="tab" style="left:220.3px;">AUDUSD,Daily</div>
<div class="tab" style="left:324.3px;">USDCAD,Daily</div>
<div class="tab" style="left:427.3px;">USDCNH,Daily</div>
<div class="tab" style="left:533.3px;">EURUSD,Daily</div>
<div class="tab" style="left:637.3px;">GBPUSD,H4</div>
<div class="tab" style="left:727.3px;">XAUUSD,Weekly</div>
<div class="tab" style="left:844.3px;">HK50,H1</div>
<div class="tab" style="left:916.3px;">UK100,H1</div>
<div class="tab" style="left:996.3px;">UK100,H1</div>
<div class="tab" style="left:1076.3px;">GER30,H1</div>
<div class="tab" style="left:1155.7px;">FRA40,H1</div>
<div class="tab" style="left:1232.8999999999999px;">USOil,Weekly</div>
<div class="tab" style="left:1331.3px;">USDJPY,H1</div>
<div class="tab" style="left:1415.3px;">DJ30,Daily</div>
<div class="tab" style="left:1495.3px;">CHINA300,H1</div>
<div class="tab" style="left:1595.3px;width:11.5px;overflow:hidden">USDJPY</div>
<div class="sep" style="left:314px"></div>
<div class="sep" style="left:418px"></div>
<div class="sep" style="left:522px"></div>
<div class="sep" style="left:626px"></div>
<div class="sep" style="left:718px"></div>
<div class="sep" style="left:834px"></div>
<div class="sep" style="left:907px"></div>
<div class="sep" style="left:986px"></div>
<div class="sep" style="left:1066px"></div>
<div class="sep" style="left:1146px"></div>
<div class="sep" style="left:1222px"></div>
<div class="sep" style="left:1322px"></div>
<div class="sep" style="left:1406px"></div>
<div class="sep" style="left:1486px"></div>
<div class="sep" style="left:1586px"></div>
<svg width="1639" height="773" viewBox="0 0 1639 773"><path d="M1616 757v7l-4-3.5z" fill="#8c8c8c"/><path d="M1631 757v7l4-3.5z" fill="#000"/></svg>
</body></html>
